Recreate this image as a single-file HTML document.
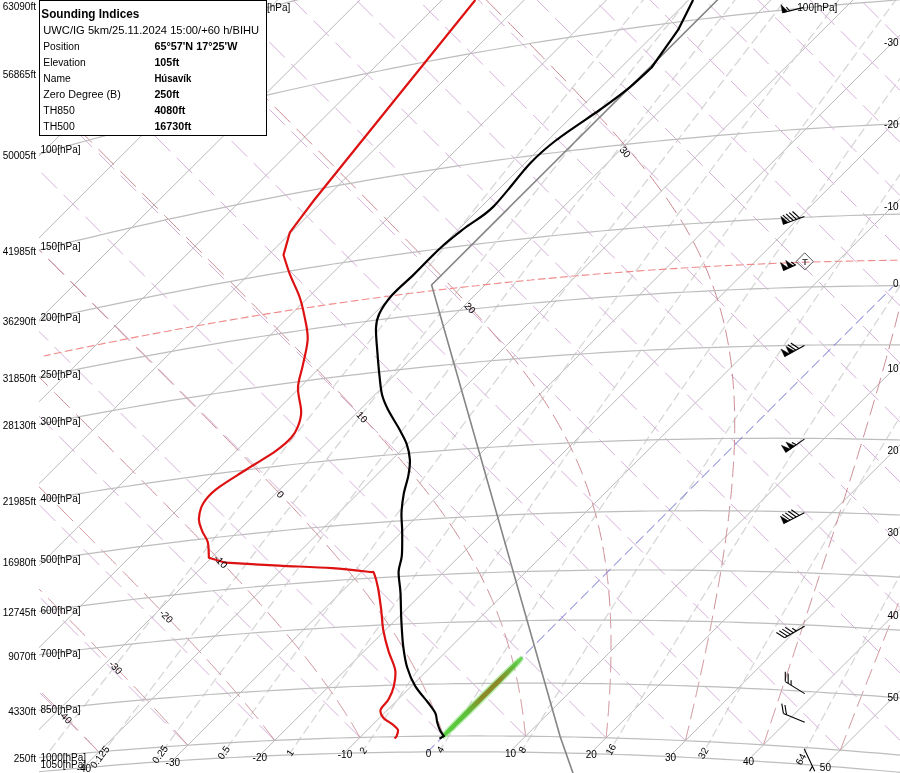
<!DOCTYPE html>
<html><head><meta charset="utf-8"><style>
html,body{margin:0;padding:0;background:#fff;}
body{width:900px;height:773px;position:relative;overflow:hidden;}
</style></head><body>
<svg width="900" height="773" viewBox="0 0 900 773" style="position:absolute;left:0;top:0;will-change:transform;font-family:'Liberation Sans',sans-serif">
<defs><clipPath id="c"><rect x="39" y="0" width="861" height="773"/></clipPath></defs>
<g clip-path="url(#c)" fill="none">
<path d="M-1096.4,1042.1 L62.2,-113.0" stroke="#b9b9b9" stroke-width="1"/>
<path d="M-966.3,994.3 L192.3,-160.8" stroke="#b9b9b9" stroke-width="1"/>
<path d="M-842.7,953.0 L315.9,-202.1" stroke="#b9b9b9" stroke-width="1"/>
<path d="M-724.7,917.3 L434.0,-237.8" stroke="#b9b9b9" stroke-width="1"/>
<path d="M-611.5,886.4 L547.1,-268.7" stroke="#b9b9b9" stroke-width="1"/>
<path d="M-502.6,859.8 L656.0,-295.3" stroke="#b9b9b9" stroke-width="1"/>
<path d="M-397.6,837.0 L761.1,-318.1" stroke="#b9b9b9" stroke-width="1"/>
<path d="M-295.9,817.6 L862.8,-337.5" stroke="#b9b9b9" stroke-width="1"/>
<path d="M-197.3,801.3 L961.4,-353.8" stroke="#b9b9b9" stroke-width="1"/>
<path d="M-101.5,787.7 L1057.2,-367.4" stroke="#b9b9b9" stroke-width="1"/>
<path d="M-8.1,776.6 L1150.5,-378.5" stroke="#b9b9b9" stroke-width="1"/>
<path d="M82.9,767.8 L1241.5,-387.3" stroke="#b9b9b9" stroke-width="1"/>
<path d="M171.8,761.1 L1330.5,-394.0" stroke="#b9b9b9" stroke-width="1"/>
<path d="M258.8,756.3 L1417.5,-398.8" stroke="#b9b9b9" stroke-width="1"/>
<path d="M344.0,753.3 L1502.7,-401.8" stroke="#b9b9b9" stroke-width="1"/>
<path d="M509.6,752.1 L1668.3,-403.0" stroke="#b9b9b9" stroke-width="1"/>
<path d="M590.2,753.6 L1748.9,-401.5" stroke="#b9b9b9" stroke-width="1"/>
<path d="M669.5,756.5 L1828.2,-398.6" stroke="#b9b9b9" stroke-width="1"/>
<path d="M747.6,760.7 L1906.2,-394.4" stroke="#b9b9b9" stroke-width="1"/>
<path d="M824.4,766.0 L1983.1,-389.1" stroke="#b9b9b9" stroke-width="1"/>
<path d="M900.2,772.4 L2058.9,-382.7" stroke="#b9b9b9" stroke-width="1"/>
<path d="M33.2,772.3 L35.2,769.7 L37.2,767.1 L38.7,765.1 M41.2,761.8 L41.3,761.8 L43.3,759.1 L45.4,756.4 L47.2,754.1 M49.7,750.8 L51.7,748.2 L53.9,745.4 L55.6,743.1 M58.1,739.8 L58.3,739.7 L60.5,736.8 L62.7,733.9 L64.1,732.1 M66.6,728.8 L67.2,728.0 L69.5,725.0 L71.9,722.0 L72.5,721.1 M75.1,717.8 L76.6,715.9 L79.0,712.8 L81.0,710.1 M83.6,706.8 L83.8,706.5 L86.3,703.3 L88.8,700.1 L89.5,699.1 M92.0,695.8 L93.8,693.5 L96.4,690.2 L98.0,688.1 M100.5,684.8 L101.6,683.4 L104.3,680.0 L106.5,677.1 M109.0,673.8 L109.7,673.0 L112.5,669.4 L115.0,666.1 M117.5,662.8 L118.0,662.2 L120.9,658.5 L123.5,655.1 M126.0,651.8 L126.7,651.0 L129.6,647.2 L132.0,644.1 M134.6,640.8 L135.7,639.4 L138.7,635.5 L140.5,633.1 M143.1,629.8 L145.0,627.4 L148.2,623.3 L149.1,622.1 M151.6,618.8 L154.7,614.9 L157.6,611.1 M160.2,607.8 L161.4,606.3 L164.8,601.9 L166.2,600.1 M168.7,596.8 L171.8,593.0 L174.7,589.1 M177.3,585.8 L178.9,583.7 L182.6,579.0 L183.3,578.1 M185.9,574.8 L186.3,574.2 L190.1,569.3 L191.9,567.1 M194.4,563.8 L197.9,559.4 L200.4,556.1 M203.0,552.8 L205.9,549.1 L209.0,545.1 M211.6,541.8 L214.2,538.5 L217.6,534.1 M220.2,530.8 L222.8,527.5 L226.2,523.1 M228.8,519.8 L231.7,516.1 L234.8,512.1 M237.4,508.8 L241.0,504.3 L243.5,501.1 M246.0,497.8 L250.6,492.0 L252.1,490.1 M254.7,486.8 L255.6,485.7 L260.6,479.3 L260.7,479.1 M263.3,475.8 L265.8,472.7 L269.3,468.1 M271.9,464.8 L276.5,459.1 L278.0,457.1 M280.6,453.8 L282.0,452.1 L286.6,446.1 M289.2,442.8 L293.4,437.5 L295.3,435.1 M297.9,431.8 L299.3,430.0 L304.0,424.1 M306.6,420.8 L311.6,414.4 L312.6,413.1 M315.2,409.8 L318.0,406.3 L321.3,402.1 M323.9,398.8 L324.6,398.0 L330.0,391.1 M332.6,387.8 L338.2,380.7 L338.7,380.1 M341.3,376.8 L345.4,371.7 L347.4,369.1 M350.0,365.8 L352.7,362.4 L356.1,358.1 M358.7,354.8 L360.3,352.9 L364.8,347.1 M367.4,343.8 L368.1,343.0 L373.5,336.1 M376.2,332.8 L376.2,332.8 L382.3,325.1 M384.9,321.8 L391.0,314.1 M393.6,310.8 L399.8,303.1 M402.4,299.8 L408.5,292.1 M411.1,288.8 L411.4,288.5 L417.3,281.1 M419.9,277.8 L421.1,276.3 L426.0,270.1 M428.6,266.8 L431.1,263.7 L434.8,259.1 M437.4,255.8 L441.6,250.6 L443.6,248.1 M446.2,244.8 L452.3,237.1 M455.0,233.8 L461.1,226.1 M463.8,222.8 L464.0,222.5 L469.9,215.1 M472.6,211.8 L476.0,207.5 L478.7,204.1 M481.4,200.8 L487.5,193.1 M490.2,189.8 L496.3,182.1 M499.0,178.8 L501.9,175.2 L505.2,171.1 M507.8,167.8 L514.0,160.1 M516.6,156.8 L522.8,149.1 M525.5,145.8 L530.9,139.1 L531.7,138.1 M534.3,134.8 L540.5,127.1 M543.2,123.8 L546.7,119.4 L549.4,116.1 M552.0,112.8 L558.2,105.1 M560.9,101.8 L563.6,98.4 L567.1,94.1 M569.7,90.8 L576.0,83.1 M578.6,79.8 L581.8,75.9 L584.8,72.1 M587.5,68.8 L593.7,61.1 M596.4,57.8 L601.4,51.7 L602.6,50.1 M605.3,46.8 L611.5,39.1 M614.2,35.8 L620.4,28.1 M623.1,24.8 L629.3,17.1 M632.0,13.8 L638.2,6.1 M640.9,2.8 L645.8,-3.2 L647.1,-4.9 M649.8,-8.2 L656.1,-15.9 M658.7,-19.2 L665.0,-26.9 M667.7,-30.2 L671.4,-34.7 L673.9,-37.9 M676.6,-41.2 L682.9,-48.9 M685.6,-52.2 L691.8,-59.9 M694.5,-63.2 L699.8,-69.7 L700.8,-70.9 M703.5,-74.2 L709.7,-81.9 M712.4,-85.2 L718.7,-92.9 M721.4,-96.2 L727.7,-103.9 M730.4,-107.2 L731.9,-109.1 L736.7,-114.9 M739.4,-118.2 L745.6,-125.9 M748.3,-129.2 L754.6,-136.9 M757.3,-140.2 L763.6,-147.9 M766.3,-151.2 L768.7,-154.1 L772.6,-158.9 M775.3,-162.2 L781.6,-169.9 M784.3,-173.2 L790.6,-180.9 M793.4,-184.2 L799.7,-191.9 M802.4,-195.2 L808.7,-202.9 M811.4,-206.2 L811.8,-206.6 L817.7,-213.9 M820.4,-217.2 L826.8,-224.9 M829.5,-228.2 L835.8,-235.9 M838.5,-239.2 L844.8,-246.9 M847.6,-250.2 L853.9,-257.9 M856.6,-261.2 L862.9,-268.9 M865.6,-272.2 L872.0,-279.9 M874.7,-283.2 L881.1,-290.9 M883.8,-294.2 L890.2,-301.9 M892.9,-305.2 L899.2,-312.9 M902.0,-316.2 L908.3,-323.9 M911.0,-327.2 L917.4,-334.9 M920.1,-338.2 L926.5,-345.9" stroke="#d6d6d6" stroke-width="1.25"/>
<path d="M92.2,767.0 L94.1,764.4 L96.1,761.8 L97.6,759.8 M100.1,756.5 L100.1,756.4 L102.1,753.8 L104.2,751.0 L105.9,748.8 M108.4,745.5 L110.4,742.8 L112.5,739.9 L114.2,737.8 M116.6,734.5 L116.8,734.2 L119.0,731.4 L121.2,728.5 L122.5,726.8 M124.9,723.5 L125.7,722.5 L127.9,719.6 L130.2,716.5 L130.8,715.8 M133.2,712.5 L134.8,710.4 L137.2,707.3 L139.1,704.8 M141.6,701.5 L142.0,701.0 L144.4,697.8 L146.8,694.5 L147.4,693.8 M149.9,690.5 L151.8,687.9 L154.3,684.6 L155.7,682.8 M158.2,679.5 L159.5,677.8 L162.1,674.4 L164.0,671.8 M166.5,668.5 L167.4,667.4 L170.1,663.8 L172.4,660.8 M174.9,657.5 L175.6,656.5 L178.4,652.9 L180.7,649.8 M183.3,646.5 L184.1,645.4 L187.0,641.5 L189.1,638.8 M191.6,635.5 L192.9,633.8 L195.9,629.8 L197.5,627.8 M200.0,624.5 L202.1,621.7 L205.2,617.6 L205.9,616.8 M208.4,613.5 L208.4,613.4 L211.6,609.2 L214.2,605.8 M216.8,602.5 L218.2,600.6 L221.6,596.2 L222.6,594.8 M225.1,591.5 L228.4,587.2 L231.0,583.8 M233.6,580.5 L235.5,577.9 L239.1,573.2 L239.4,572.8 M242.0,569.5 L242.8,568.4 L246.5,563.5 L247.9,561.8 M250.4,558.5 L254.2,553.5 L256.3,550.8 M258.8,547.5 L262.1,543.2 L264.7,539.8 M267.3,536.5 L270.2,532.6 L273.2,528.8 M275.7,525.5 L278.7,521.6 L281.6,517.8 M284.1,514.5 L287.5,510.2 L290.1,506.8 M292.6,503.5 L296.6,498.3 L298.5,495.8 M301.1,492.5 L301.3,492.2 L306.1,486.0 L307.0,484.8 M309.6,481.5 L310.9,479.7 L315.5,473.8 M318.0,470.5 L321.0,466.6 L324.0,462.8 M326.5,459.5 L331.5,453.0 L332.5,451.8 M335.0,448.5 L337.0,446.0 L341.0,440.8 M343.5,437.5 L348.2,431.4 L349.5,429.8 M352.0,426.5 L354.0,423.9 L358.0,418.8 M360.6,415.5 L366.2,408.3 L366.5,407.8 M369.1,404.5 L372.5,400.2 L375.1,396.8 M377.6,393.5 L378.9,391.8 L383.6,385.8 M386.2,382.5 L392.2,374.8 M394.7,371.5 L399.4,365.5 L400.7,363.8 M403.3,360.5 L406.7,356.2 L409.3,352.8 M411.9,349.5 L414.1,346.6 L417.9,341.8 M420.4,338.5 L421.8,336.7 L426.4,330.8 M429.0,327.5 L429.8,326.5 L435.0,319.8 M437.6,316.5 L438.0,316.0 L443.6,308.8 M446.2,305.5 L446.5,305.1 L452.2,297.8 M454.8,294.5 L455.4,293.8 L460.8,286.8 M463.4,283.5 L464.5,282.1 L469.5,275.8 M472.0,272.5 L474.0,269.9 L478.1,264.8 M480.7,261.5 L484.0,257.3 L486.7,253.8 M489.3,250.5 L494.3,244.1 L495.4,242.8 M497.9,239.5 L504.0,231.8 M506.6,228.5 L512.6,220.8 M515.2,217.5 L516.4,216.0 L521.3,209.8 M523.9,206.5 L528.2,201.0 L530.0,198.8 M532.6,195.5 L538.6,187.8 M541.2,184.5 L547.3,176.8 M549.9,173.5 L553.8,168.6 L556.0,165.8 M558.6,162.5 L564.7,154.8 M567.3,151.5 L567.7,151.1 L573.4,143.8 M576.0,140.5 L582.1,132.8 M584.7,129.5 L590.8,121.8 M593.5,118.5 L598.0,112.8 L599.6,110.8 M602.2,107.5 L608.3,99.8 M610.9,96.5 L614.7,91.7 L617.0,88.8 M619.6,85.5 L625.8,77.8 M628.4,74.5 L632.6,69.2 L634.5,66.8 M637.1,63.5 L643.3,55.8 M645.9,52.5 L651.9,44.9 L652.0,44.8 M654.7,41.5 L660.8,33.8 M663.4,30.5 L669.6,22.8 M672.2,19.5 L672.9,18.6 L678.4,11.8 M681.0,8.5 L687.1,0.8 M689.8,-2.5 L695.8,-10.1 L695.9,-10.2 M698.6,-13.5 L704.7,-21.2 M707.4,-24.5 L713.5,-32.2 M716.2,-35.5 L721.1,-41.6 L722.4,-43.2 M725.0,-46.5 L731.2,-54.2 M733.8,-57.5 L740.0,-65.2 M742.7,-68.5 L748.8,-76.2 M751.5,-79.5 L757.7,-87.2 M760.3,-90.5 L766.5,-98.2 M769.2,-101.5 L775.4,-109.2 M778.0,-112.5 L780.9,-116.1 L784.2,-120.2 M786.9,-123.5 L793.1,-131.2 M795.8,-134.5 L802.0,-142.2 M804.6,-145.5 L810.8,-153.2 M813.5,-156.5 L817.3,-161.2 L819.7,-164.2 M822.4,-167.5 L828.6,-175.2 M831.3,-178.5 L837.5,-186.2 M840.2,-189.5 L846.4,-197.2 M849.1,-200.5 L855.3,-208.2 M858.0,-211.5 L859.8,-213.8 L864.2,-219.2 M866.9,-222.5 L873.2,-230.2 M875.8,-233.5 L882.1,-241.2 M884.8,-244.5 L891.0,-252.2 M893.7,-255.5 L900.0,-263.2 M902.6,-266.5 L908.9,-274.2 M911.6,-277.5 L917.8,-285.2 M920.5,-288.5 L926.8,-296.2 M929.5,-299.5 L935.8,-307.2 M938.5,-310.5 L944.7,-318.2 M947.4,-321.5 L953.7,-329.2 M956.4,-332.5 L962.7,-340.2 M965.4,-343.5 L971.7,-351.2 M974.3,-354.5 L975.6,-356.0" stroke="#d6d6d6" stroke-width="1.25"/>
<path d="M154.2,762.2 L156.1,759.6 L158.1,757.0 L159.5,755.0 M161.9,751.7 L162.0,751.7 L164.0,749.0 L166.0,746.2 L167.6,744.0 M170.0,740.7 L170.0,740.7 L172.1,737.9 L174.2,735.1 L175.7,733.0 M178.1,729.7 L178.4,729.4 L180.5,726.5 L182.7,723.6 L183.8,722.0 M186.3,718.7 L187.0,717.7 L189.3,714.7 L191.5,711.6 L191.9,711.0 M194.4,707.7 L196.1,705.5 L198.4,702.4 L200.1,700.0 M202.5,696.7 L203.0,696.0 L205.4,692.8 L207.8,689.6 L208.2,689.0 M210.7,685.7 L212.7,683.0 L215.2,679.6 L216.4,678.0 M218.8,674.7 L220.2,672.8 L222.8,669.4 L224.5,667.0 M227.0,663.7 L228.0,662.3 L230.7,658.8 L232.7,656.0 M235.1,652.7 L236.1,651.5 L238.8,647.8 L240.9,645.0 M243.3,641.7 L244.4,640.3 L247.3,636.4 L249.1,634.0 M251.5,630.7 L253.1,628.6 L256.1,624.7 L257.3,623.0 M259.7,619.7 L262.1,616.6 L265.2,612.4 L265.5,612.0 M267.9,608.7 L268.3,608.2 L271.5,604.0 L273.7,601.0 M276.1,597.7 L277.9,595.4 L281.2,590.9 L281.9,590.0 M284.4,586.7 L284.6,586.5 L288.0,581.9 L290.1,579.0 M292.6,575.7 L294.9,572.7 L298.4,568.0 M300.8,564.7 L302.1,563.1 L305.7,558.2 L306.6,557.0 M309.1,553.7 L309.5,553.2 L313.3,548.2 L314.9,546.0 M317.4,542.7 L321.0,537.9 L323.1,535.0 M325.6,531.7 L329.0,527.2 L331.4,524.0 M333.9,520.7 L337.4,516.2 L339.7,513.0 M342.2,509.7 L346.0,504.7 L348.0,502.0 M350.5,498.7 L354.9,492.8 L356.3,491.0 M358.8,487.7 L359.5,486.7 L364.2,480.5 L364.6,480.0 M367.1,476.7 L369.0,474.2 L372.9,469.0 M375.4,465.7 L378.9,461.1 L381.2,458.0 M383.7,454.7 L384.1,454.3 L389.3,447.4 L389.6,447.0 M392.1,443.7 L394.6,440.4 L397.9,436.0 M400.4,432.7 L405.7,425.8 L406.3,425.0 M408.8,421.7 L411.4,418.3 L414.6,414.0 M417.1,410.7 L417.3,410.5 L423.0,403.0 M425.5,399.7 L429.5,394.5 L431.4,392.0 M433.9,388.7 L435.9,386.1 L439.8,381.0 M442.3,377.7 L442.4,377.5 L448.2,370.0 M450.7,366.7 L456.1,359.7 L456.6,359.0 M459.1,355.7 L463.2,350.4 L465.0,348.0 M467.5,344.7 L470.5,340.8 L473.4,337.0 M475.9,333.7 L478.1,330.9 L481.8,326.0 M484.3,322.7 L486.0,320.6 L490.3,315.0 M492.8,311.7 L494.1,310.1 L498.7,304.0 M501.2,300.7 L502.4,299.2 L507.1,293.0 M509.7,289.7 L511.1,287.8 L515.6,282.0 M518.1,278.7 L520.2,276.1 L524.1,271.0 M526.6,267.7 L529.5,263.9 L532.5,260.0 M535.1,256.7 L539.3,251.3 L541.0,249.0 M543.6,245.7 L549.5,238.1 L549.5,238.0 M552.1,234.7 L558.0,227.0 M560.6,223.7 L566.5,216.0 M569.1,212.7 L571.2,209.9 L575.0,205.0 M577.6,201.7 L582.9,194.9 L583.5,194.0 M586.1,190.7 L592.1,183.0 M594.6,179.7 L595.2,179.0 L600.6,172.0 M603.2,168.7 L608.1,162.4 L609.1,161.0 M611.7,157.7 L617.7,150.0 M620.3,146.7 L621.8,144.8 L626.3,139.0 M628.8,135.7 L634.8,128.0 M637.4,124.7 L643.4,117.0 M646.0,113.7 L651.7,106.5 L652.0,106.0 M654.5,102.7 L660.6,95.0 M663.1,91.7 L668.1,85.4 L669.2,84.0 M671.7,80.7 L677.8,73.0 M680.3,69.7 L685.8,62.8 L686.4,62.0 M689.0,58.7 L695.0,51.0 M697.6,47.7 L703.6,40.0 M706.2,36.7 L712.2,29.0 M714.8,25.7 L720.9,18.0 M723.5,14.7 L725.5,12.1 L729.5,7.0 M732.1,3.7 L738.2,-4.0 M740.8,-7.3 L746.8,-15.0 M749.4,-18.3 L755.5,-26.0 M758.1,-29.3 L764.2,-37.0 M766.8,-40.3 L772.8,-48.0 M775.5,-51.3 L781.5,-59.0 M784.2,-62.3 L790.2,-70.0 M792.8,-73.3 L798.9,-81.0 M801.5,-84.3 L807.6,-92.0 M810.3,-95.3 L816.4,-103.0 M819.0,-106.3 L825.1,-114.0 M827.7,-117.3 L832.1,-122.8 L833.8,-125.0 M836.4,-128.3 L842.5,-136.0 M845.2,-139.3 L851.3,-147.0 M853.9,-150.3 L860.0,-158.0 M862.7,-161.3 L868.0,-167.9 L868.8,-169.0 M871.4,-172.3 L877.6,-180.0 M880.2,-183.3 L886.3,-191.0 M889.0,-194.3 L895.1,-202.0 M897.7,-205.3 L903.9,-213.0 M906.5,-216.3 L910.0,-220.6 L912.7,-224.0 M915.3,-227.3 L921.5,-235.0 M924.1,-238.3 L930.3,-246.0 M932.9,-249.3 L939.1,-257.0 M941.7,-260.3 L947.9,-268.0 M950.5,-271.3 L956.7,-279.0 M959.3,-282.3 L960.6,-283.9 L965.5,-290.0 M968.2,-293.3 L974.4,-301.0 M977.0,-304.3 L983.2,-312.0 M985.9,-315.3 L992.1,-323.0 M994.7,-326.3 L1000.9,-334.0 M1003.6,-337.3 L1009.8,-345.0 M1012.4,-348.3 L1018.6,-356.0 M1021.3,-359.3 L1024.3,-363.0" stroke="#d6d6d6" stroke-width="1.25"/>
<path d="M219.6,758.2 L221.4,755.6 L223.3,753.0 L224.7,751.0 M227.1,747.7 L227.2,747.6 L229.1,744.9 L231.1,742.2 L232.6,740.0 M235.0,736.7 L235.1,736.6 L237.1,733.8 L239.1,731.0 L240.5,729.0 M242.9,725.7 L243.2,725.3 L245.3,722.4 L247.4,719.4 L248.4,718.0 M250.8,714.7 L251.7,713.5 L253.9,710.5 L256.1,707.4 L256.4,707.0 M258.7,703.7 L260.5,701.3 L262.8,698.1 L264.3,696.0 M266.7,692.7 L267.4,691.8 L269.7,688.6 L272.0,685.3 L272.2,685.0 M274.6,681.7 L276.8,678.7 L279.3,675.3 L280.2,674.0 M282.6,670.7 L284.2,668.5 L286.7,665.0 L288.2,663.0 M290.6,659.7 L291.8,658.0 L294.4,654.4 L296.1,652.0 M298.5,648.7 L299.7,647.1 L302.4,643.4 L304.1,641.0 M306.5,637.7 L307.9,635.8 L310.7,632.0 L312.1,630.0 M314.5,626.7 L316.4,624.2 L319.3,620.2 L320.1,619.0 M322.5,615.7 L325.2,612.0 L328.1,608.0 M330.6,604.7 L331.3,603.7 L334.4,599.5 L336.2,597.0 M338.6,593.7 L340.7,590.8 L344.0,586.4 L344.2,586.0 M346.6,582.7 L347.2,581.9 L350.6,577.3 L352.3,575.0 M354.7,571.7 L357.4,568.0 L360.3,564.0 M362.7,560.7 L364.4,558.4 L368.0,553.5 L368.4,553.0 M370.8,549.7 L371.7,548.5 L375.4,543.5 L376.4,542.0 M378.9,538.7 L379.1,538.3 L383.0,533.1 L384.5,531.0 M387.0,527.7 L390.9,522.4 L392.6,520.0 M395.0,516.7 L399.0,511.3 L400.7,509.0 M403.2,505.7 L403.2,505.7 L407.5,499.9 L408.8,498.0 M411.3,494.7 L411.8,494.0 L416.3,488.0 L417.0,487.0 M419.4,483.7 L420.8,481.8 L425.1,476.0 M427.5,472.7 L430.1,469.2 L433.2,465.0 M435.7,461.7 L439.8,456.1 L441.4,454.0 M443.8,450.7 L444.8,449.3 L449.5,443.0 M452.0,439.7 L455.2,435.4 L457.7,432.0 M460.1,428.7 L460.6,428.1 L465.9,421.0 M468.3,417.7 L471.7,413.2 L474.1,410.0 M476.5,406.7 L477.5,405.4 L482.3,399.0 M484.7,395.7 L489.5,389.3 L490.5,388.0 M492.9,384.7 L495.7,380.9 L498.7,377.0 M501.1,373.7 L502.2,372.3 L506.9,366.0 M509.4,362.7 L515.1,355.0 M517.6,351.7 L522.6,345.1 L523.4,344.0 M525.8,340.7 L529.8,335.5 L531.6,333.0 M534.1,329.7 L537.2,325.5 L539.9,322.0 M542.3,318.7 L544.9,315.3 L548.1,311.0 M550.6,307.7 L552.9,304.7 L556.4,300.0 M558.9,296.7 L561.1,293.8 L564.7,289.0 M567.2,285.7 L569.7,282.4 L573.0,278.0 M575.5,274.7 L578.5,270.7 L581.3,267.0 M583.8,263.7 L587.8,258.4 L589.6,256.0 M592.1,252.7 L597.4,245.8 L597.9,245.0 M600.4,241.7 L606.2,234.0 M608.7,230.7 L614.6,223.0 M617.1,219.7 L617.8,218.7 L622.9,212.0 M625.4,208.7 L628.8,204.3 L631.3,201.0 M633.8,197.7 L639.6,190.0 M642.1,186.7 L648.0,179.0 M650.5,175.7 L652.3,173.4 L656.4,168.0 M658.9,164.7 L664.8,157.0 M667.3,153.7 L673.1,146.0 M675.7,142.7 L678.5,139.1 L681.5,135.0 M684.1,131.7 L690.0,124.0 M692.5,120.7 L692.7,120.4 L698.4,113.0 M700.9,109.7 L706.8,102.0 M709.3,98.7 L715.2,91.0 M717.8,87.7 L723.7,80.0 M726.2,76.7 L732.1,69.0 M734.7,65.7 L740.6,58.0 M743.1,54.7 L749.0,47.0 M751.6,43.7 L757.5,36.0 M760.1,32.7 L760.2,32.5 L766.0,25.0 M768.5,21.7 L774.5,14.0 M777.0,10.7 L780.6,6.1 L783.0,3.0 M785.5,-0.3 L791.5,-8.0 M794.0,-11.3 L800.0,-19.0 M802.5,-22.3 L802.9,-22.7 L808.5,-30.0 M811.1,-33.3 L817.0,-41.0 M819.6,-44.3 L825.6,-52.0 M828.1,-55.3 L834.1,-63.0 M836.7,-66.3 L842.7,-74.0 M845.2,-77.3 L851.2,-85.0 M853.8,-88.3 L854.8,-89.5 L859.8,-96.0 M862.4,-99.3 L868.4,-107.0 M870.9,-110.3 L876.9,-118.0 M879.5,-121.3 L885.5,-129.0 M888.1,-132.3 L894.1,-140.0 M896.7,-143.3 L902.7,-151.0 M905.3,-154.3 L911.3,-162.0 M913.9,-165.3 L919.9,-173.0 M922.5,-176.3 L928.6,-184.0 M931.2,-187.3 L937.2,-195.0 M939.8,-198.3 L945.8,-206.0 M948.4,-209.3 L954.5,-217.0 M957.1,-220.3 L962.4,-227.1 L963.1,-228.0 M965.7,-231.3 L971.8,-239.0 M974.4,-242.3 L980.5,-250.0 M983.1,-253.3 L989.1,-261.0 M991.8,-264.3 L997.8,-272.0 M1000.4,-275.3 L1006.5,-283.0 M1009.1,-286.3 L1012.4,-290.5 L1015.2,-294.0 M1017.8,-297.3 L1023.9,-305.0 M1026.5,-308.3 L1032.6,-316.0 M1035.2,-319.3 L1041.3,-327.0 M1044.0,-330.3 L1050.1,-338.0 M1052.7,-341.3 L1058.8,-349.0 M1061.4,-352.3 L1067.5,-360.0 M1070.1,-363.3 L1075.2,-369.8" stroke="#d6d6d6" stroke-width="1.25"/>
<path d="M288.5,755.0 L290.4,752.4 L292.2,749.8 L293.6,747.8 M295.9,744.5 L296.0,744.4 L297.9,741.7 L299.8,738.9 L301.2,736.8 M303.5,733.5 L303.7,733.4 L305.6,730.6 L307.6,727.7 L308.9,725.8 M311.2,722.5 L311.6,722.0 L313.7,719.0 L315.7,716.1 L316.6,714.8 M318.9,711.5 L319.9,710.1 L322.0,707.1 L324.2,704.1 L324.3,703.8 M326.6,700.5 L328.5,697.9 L330.7,694.7 L332.0,692.8 M334.4,689.5 L335.2,688.3 L337.5,685.1 L339.8,681.8 M342.1,678.5 L342.1,678.5 L344.5,675.2 L346.8,671.8 L347.5,670.8 M349.8,667.5 L351.7,665.0 L354.1,661.5 L355.3,659.8 M357.6,656.5 L359.1,654.4 L361.7,650.8 L363.0,648.8 M365.4,645.5 L366.8,643.5 L369.5,639.7 L370.8,637.8 M373.1,634.5 L374.8,632.2 L377.6,628.3 L378.6,626.8 M380.9,623.5 L383.1,620.5 L386.0,616.5 L386.4,615.8 M388.7,612.5 L388.8,612.4 L391.7,608.3 L394.2,604.8 M396.5,601.5 L397.7,599.9 L400.7,595.7 L402.0,593.8 M404.4,590.5 L406.9,587.0 L409.8,582.8 M412.2,579.5 L413.3,578.0 L416.5,573.4 L417.7,571.8 M420.0,568.5 L423.2,564.1 L425.5,560.8 M427.9,557.5 L430.1,554.5 L433.4,549.8 M435.8,546.5 L437.2,544.6 L440.8,539.5 L441.3,538.8 M443.6,535.5 L444.5,534.3 L448.3,529.1 L449.1,527.8 M451.5,524.5 L452.1,523.8 L456.0,518.3 L457.0,516.8 M459.4,513.5 L459.9,512.8 L463.9,507.2 L464.9,505.8 M467.3,502.5 L468.0,501.5 L472.2,495.7 L472.9,494.8 M475.2,491.5 L476.5,489.8 L480.8,483.8 M483.2,480.5 L485.3,477.6 L488.7,472.8 M491.1,469.5 L494.4,465.0 L496.7,461.8 M499.0,458.5 L499.1,458.5 L503.9,451.8 L504.6,450.8 M507.0,447.5 L508.8,445.0 L512.6,439.8 M515.0,436.5 L519.0,431.0 L520.5,428.8 M522.9,425.5 L524.2,423.7 L528.5,417.8 M530.9,414.5 L535.2,408.7 L536.5,406.8 M538.9,403.5 L540.8,400.9 L544.5,395.8 M546.9,392.5 L552.5,384.8 M554.9,381.5 L558.7,376.4 L560.6,373.8 M563.0,370.5 L565.0,367.8 L568.6,362.8 M571.0,359.5 L571.5,358.9 L576.6,351.8 M579.1,348.5 L584.7,340.8 M587.1,337.5 L592.1,330.8 L592.8,329.8 M595.2,326.5 L599.4,320.8 L600.8,318.8 M603.2,315.5 L606.9,310.5 L608.9,307.8 M611.3,304.5 L614.7,299.9 L617.0,296.8 M619.4,293.5 L622.8,288.9 L625.1,285.8 M627.5,282.5 L631.2,277.6 L633.2,274.8 M635.6,271.5 L639.9,265.8 L641.3,263.8 M643.8,260.5 L648.9,253.5 L649.5,252.8 M651.9,249.5 L657.6,241.8 M660.0,238.5 L665.7,230.8 M668.2,227.5 L673.9,219.8 M676.3,216.5 L678.4,213.7 L682.1,208.8 M684.5,205.5 L689.2,199.3 L690.2,197.8 M692.7,194.5 L698.4,186.8 M700.9,183.5 L706.6,175.8 M709.1,172.5 L712.3,168.2 L714.8,164.8 M717.3,161.5 L723.0,153.8 M725.5,150.5 L731.3,142.8 M733.7,139.5 L738.0,133.8 L739.5,131.8 M741.9,128.5 L747.7,120.8 M750.2,117.5 L752.0,115.1 L756.0,109.8 M758.4,106.5 L764.2,98.8 M766.7,95.5 L766.9,95.3 L772.5,87.8 M775.0,84.5 L780.8,76.8 M783.2,73.5 L789.0,65.8 M791.5,62.5 L797.3,54.8 M799.8,51.5 L799.9,51.4 L805.6,43.8 M808.1,40.5 L813.9,32.8 M816.4,29.5 L818.4,27.0 L822.3,21.8 M824.7,18.5 L830.6,10.8 M833.1,7.5 L838.4,0.5 L838.9,-0.2 M841.4,-3.5 L847.3,-11.2 M849.8,-14.5 L855.6,-22.2 M858.1,-25.5 L860.3,-28.3 L864.0,-33.2 M866.5,-36.5 L872.3,-44.2 M874.8,-47.5 L880.7,-55.2 M883.2,-58.5 L884.4,-60.1 L889.1,-66.2 M891.6,-69.5 L897.5,-77.2 M900.0,-80.5 L905.9,-88.2 M908.4,-91.5 L911.4,-95.3 L914.3,-99.2 M916.8,-102.5 L922.7,-110.2 M925.2,-113.5 L931.1,-121.2 M933.7,-124.5 L939.5,-132.2 M942.1,-135.5 L948.0,-143.2 M950.5,-146.5 L956.4,-154.2 M959.0,-157.5 L964.9,-165.2 M967.4,-168.5 L973.4,-176.2 M975.9,-179.5 L976.5,-180.3 L981.8,-187.2 M984.4,-190.5 L990.3,-198.2 M992.9,-201.5 L998.8,-209.2 M1001.4,-212.5 L1007.3,-220.2 M1009.8,-223.5 L1015.8,-231.2 M1018.3,-234.5 L1024.3,-242.2 M1026.9,-245.5 L1032.8,-253.2 M1035.4,-256.5 L1041.4,-264.2 M1043.9,-267.5 L1049.9,-275.2 M1052.5,-278.5 L1058.4,-286.2 M1061.0,-289.5 L1066.6,-296.7 L1067.0,-297.2 M1069.5,-300.5 L1075.5,-308.2 M1078.1,-311.5 L1084.1,-319.2 M1086.7,-322.5 L1092.7,-330.2 M1095.3,-333.5 L1101.3,-341.2 M1103.8,-344.5 L1109.9,-352.2 M1112.4,-355.5 L1118.4,-363.2 M1121.0,-366.5 L1127.0,-374.2" stroke="#d6d6d6" stroke-width="1.25"/>
<path d="M361.5,752.9 L363.3,750.2 L365.1,747.5 L366.3,745.7 M368.6,742.4 L368.7,742.2 L370.5,739.4 L372.4,736.7 L373.8,734.7 M376.0,731.4 L376.2,731.1 L378.1,728.3 L380.0,725.4 L381.2,723.7 M383.4,720.4 L383.9,719.6 L385.9,716.7 L387.9,713.7 L388.7,712.7 M390.9,709.4 L392.0,707.7 L394.1,704.7 L396.1,701.7 M398.4,698.4 L400.4,695.4 L402.5,692.2 L403.6,690.7 M405.9,687.4 L406.9,685.8 L409.1,682.6 L411.1,679.7 M413.4,676.4 L413.6,676.0 L415.9,672.6 L418.2,669.2 L418.6,668.7 M420.9,665.4 L422.9,662.3 L425.3,658.9 L426.1,657.7 M428.4,654.4 L430.2,651.7 L432.7,648.1 L433.7,646.7 M435.9,643.4 L437.7,640.8 L440.3,637.0 L441.2,635.7 M443.5,632.4 L445.5,629.4 L448.2,625.5 L448.8,624.7 M451.0,621.4 L453.6,617.6 L456.3,613.7 M458.6,610.4 L459.2,609.6 L462.0,605.4 L463.9,602.7 M466.2,599.4 L467.8,597.0 L470.7,592.7 L471.5,591.7 M473.8,588.4 L476.8,584.0 L479.1,580.7 M481.4,577.4 L483.0,575.0 L486.2,570.4 L486.7,569.7 M489.0,566.4 L489.4,565.8 L492.7,561.0 L494.3,558.7 M496.6,555.4 L499.4,551.4 L502.0,547.7 M504.3,544.4 L506.3,541.4 L509.6,536.7 M511.9,533.4 L513.5,531.2 L517.1,525.9 L517.3,525.7 M519.6,522.4 L520.9,520.5 L524.6,515.1 L525.0,514.7 M527.3,511.4 L528.5,509.6 L532.4,503.9 L532.6,503.7 M534.9,500.4 L536.4,498.2 L540.3,492.7 M542.6,489.4 L544.7,486.4 L548.0,481.7 M550.4,478.4 L553.3,474.2 L555.8,470.7 M558.1,467.4 L562.2,461.5 L563.5,459.7 M565.8,456.4 L566.8,455.0 L571.2,448.7 M573.5,445.4 L576.3,441.5 L579.0,437.7 M581.3,434.4 L586.2,427.4 L586.7,426.7 M589.1,423.4 L591.4,420.1 L594.5,415.7 M596.8,412.4 L602.0,405.0 L602.3,404.7 M604.6,401.4 L607.5,397.2 L610.1,393.7 M612.4,390.4 L613.2,389.2 L617.9,382.7 M620.2,379.4 L625.0,372.6 L625.7,371.7 M628.1,368.4 L631.2,364.0 L633.5,360.7 M635.9,357.4 L637.5,355.1 L641.4,349.7 M643.7,346.4 L644.0,345.9 L649.2,338.7 M651.6,335.4 L657.1,327.7 M659.4,324.4 L664.8,316.8 L664.9,316.7 M667.3,313.4 L672.2,306.5 L672.8,305.7 M675.2,302.4 L679.8,295.9 L680.7,294.7 M683.1,291.4 L687.8,284.8 L688.6,283.7 M691.0,280.4 L696.0,273.4 L696.5,272.7 M698.9,269.4 L704.4,261.7 M706.8,258.4 L712.4,250.7 M714.8,247.4 L720.3,239.7 M722.7,236.4 L728.3,228.7 M730.7,225.4 L732.2,223.2 L736.2,217.7 M738.6,214.4 L742.2,209.4 L744.2,206.7 M746.6,203.4 L752.2,195.7 M754.6,192.4 L760.2,184.7 M762.6,181.4 L763.8,179.7 L768.2,173.7 M770.6,170.4 L775.4,163.7 L776.2,162.7 M778.6,159.4 L784.2,151.7 M786.6,148.4 L787.7,146.9 L792.2,140.7 M794.6,137.4 L800.3,129.7 M802.7,126.4 L808.3,118.7 M810.7,115.4 L814.3,110.5 L816.4,107.7 M818.8,104.4 L824.5,96.7 M826.9,93.4 L828.9,90.5 L832.5,85.7 M835.0,82.4 L840.6,74.7 M843.0,71.4 L844.6,69.3 L848.7,63.7 M851.2,60.4 L856.8,52.7 M859.3,49.4 L861.3,46.5 L864.9,41.7 M867.4,38.4 L873.1,30.7 M875.5,27.4 L879.4,22.0 L881.2,19.7 M883.7,16.4 L889.4,8.7 M891.8,5.4 L897.5,-2.3 M900.0,-5.6 L905.7,-13.3 M908.1,-16.6 L913.8,-24.3 M916.3,-27.6 L920.6,-33.4 L922.0,-35.3 M924.5,-38.6 L930.2,-46.3 M932.7,-49.6 L938.4,-57.3 M940.9,-60.6 L944.3,-65.2 L946.6,-68.3 M949.1,-71.6 L954.8,-79.3 M957.3,-82.6 L963.1,-90.3 M965.5,-93.6 L970.7,-100.6 L971.3,-101.3 M973.8,-104.6 L979.6,-112.3 M982.0,-115.6 L987.8,-123.3 M990.3,-126.6 L996.1,-134.3 M998.5,-137.6 L1000.6,-140.4 L1004.3,-145.3 M1006.8,-148.6 L1012.6,-156.3 M1015.1,-159.6 L1020.9,-167.3 M1023.4,-170.6 L1029.2,-178.3 M1031.7,-181.6 L1034.8,-185.8 L1037.5,-189.3 M1040.0,-192.6 L1045.8,-200.3 M1048.3,-203.6 L1054.2,-211.3 M1056.7,-214.6 L1062.5,-222.3 M1065.0,-225.6 L1070.8,-233.3 M1073.3,-236.6 L1074.9,-238.8 L1079.2,-244.3 M1081.7,-247.6 L1087.5,-255.3 M1090.0,-258.6 L1095.9,-266.3 M1098.4,-269.6 L1104.3,-277.3 M1106.8,-280.6 L1112.6,-288.3 M1115.2,-291.6 L1121.0,-299.3 M1123.5,-302.6 L1129.4,-310.3 M1132.0,-313.6 L1137.9,-321.3 M1140.4,-324.6 L1146.3,-332.3 M1148.8,-335.6 L1154.7,-343.3 M1157.2,-346.6 L1163.1,-354.3 M1165.7,-357.6 L1171.6,-365.3 M1174.1,-368.6 L1180.0,-376.3 M1182.5,-379.6 L1184.3,-382.0" stroke="#d6d6d6" stroke-width="1.25"/>
<path d="M438.7,751.8 L440.5,749.2 L442.2,746.5 L443.4,744.6 M445.6,741.3 L445.8,741.1 L447.5,738.3 L449.3,735.6 L450.6,733.6 M452.7,730.3 L453.0,729.9 L454.9,727.1 L456.7,724.2 L457.8,722.6 M459.9,719.3 L460.5,718.4 L462.5,715.5 L464.4,712.5 L465.0,711.6 M467.1,708.3 L468.4,706.5 L470.4,703.4 L472.2,700.6 M474.3,697.3 L474.4,697.2 L476.5,694.1 L478.6,690.9 L479.4,689.6 M481.6,686.3 L482.8,684.4 L485.0,681.2 L486.6,678.6 M488.8,675.3 L489.3,674.5 L491.6,671.2 L493.8,667.8 L493.9,667.6 M496.1,664.3 L496.1,664.3 L498.4,660.8 L500.7,657.3 L501.1,656.6 M503.3,653.3 L505.4,650.2 L507.8,646.5 L508.4,645.6 M510.6,642.3 L512.7,639.1 L515.2,635.4 L515.7,634.6 M517.9,631.3 L520.3,627.7 L522.9,623.8 L523.0,623.6 M525.2,620.3 L525.5,619.9 L528.1,615.9 L530.3,612.6 M532.5,609.3 L533.6,607.8 L536.3,603.6 L537.6,601.6 M539.8,598.3 L541.9,595.2 L544.8,590.9 L545.0,590.6 M547.2,587.3 L547.7,586.5 L550.7,582.1 L552.3,579.6 M554.5,576.3 L556.7,573.0 L559.7,568.6 M561.9,565.3 L563.0,563.8 L566.1,559.0 L567.1,557.6 M569.3,554.3 L569.4,554.2 L572.7,549.3 L574.5,546.6 M576.7,543.3 L579.4,539.3 L581.9,535.6 M584.1,532.3 L586.4,529.0 L589.3,524.6 M591.5,521.3 L593.5,518.3 L596.7,513.6 M598.9,510.3 L601.0,507.3 L604.1,502.6 M606.4,499.3 L608.7,495.9 L611.6,491.6 M613.8,488.3 L616.7,484.0 L619.1,480.6 M621.3,477.3 L625.1,471.8 L626.5,469.6 M628.8,466.3 L629.4,465.5 L633.8,459.0 L634.0,458.6 M636.3,455.3 L638.3,452.4 L641.5,447.6 M643.8,444.3 L647.5,438.9 L649.0,436.6 M651.3,433.3 L652.3,431.9 L656.6,425.6 M658.8,422.3 L662.2,417.4 L664.1,414.6 M666.4,411.3 L667.3,409.9 L671.7,403.6 M673.9,400.3 L678.0,394.4 L679.2,392.6 M681.5,389.3 L683.5,386.4 L686.8,381.6 M689.1,378.3 L689.2,378.2 L694.4,370.6 M696.7,367.3 L701.0,361.0 L702.0,359.6 M704.3,356.3 L707.2,352.1 L709.6,348.6 M711.9,345.3 L713.6,342.9 L717.2,337.6 M719.5,334.3 L720.1,333.5 L724.9,326.6 M727.1,323.3 L732.5,315.6 M734.8,312.3 L740.2,304.6 M742.5,301.3 L747.8,293.6 M750.1,290.3 L755.5,282.6 M757.8,279.3 L763.2,271.6 M765.5,268.3 L770.9,260.6 M773.2,257.3 L778.6,249.6 M780.9,246.3 L781.2,245.9 L786.3,238.6 M788.6,235.3 L790.2,233.1 L794.1,227.6 M796.4,224.3 L799.6,219.7 L801.8,216.6 M804.1,213.3 L809.5,205.8 L809.6,205.6 M811.9,202.3 L817.3,194.6 M819.7,191.3 L819.7,191.2 L825.1,183.6 M827.4,180.3 L830.5,176.0 L832.9,172.6 M835.2,169.3 L840.7,161.6 M843.0,158.3 L848.5,150.6 M850.9,147.3 L853.9,143.1 L856.3,139.6 M858.7,136.3 L864.2,128.6 M866.5,125.3 L866.5,125.3 L872.0,117.6 M874.4,114.3 L879.9,106.6 M882.2,103.3 L887.7,95.6 M890.1,92.3 L894.3,86.5 L895.6,84.6 M898.0,81.3 L903.5,73.6 M905.9,70.3 L909.5,65.2 L911.4,62.6 M913.8,59.3 L919.3,51.6 M921.7,48.3 L926.0,42.4 L927.2,40.6 M929.6,37.3 L935.1,29.6 M937.5,26.3 L943.1,18.6 M945.5,15.3 L951.0,7.6 M953.4,4.3 L959.0,-3.4 M961.4,-6.7 L962.9,-8.8 L967.0,-14.4 M969.4,-17.7 L974.9,-25.4 M977.3,-28.7 L982.9,-36.4 M985.3,-39.7 L990.9,-47.4 M993.3,-50.7 L998.9,-58.4 M1001.3,-61.7 L1006.9,-69.4 M1009.4,-72.7 L1015.0,-80.4 M1017.4,-83.7 L1023.0,-91.4 M1025.4,-94.7 L1031.1,-102.4 M1033.5,-105.7 L1039.1,-113.4 M1041.5,-116.7 L1047.2,-124.4 M1049.6,-127.7 L1055.3,-135.4 M1057.7,-138.7 L1062.4,-145.1 L1063.3,-146.4 M1065.8,-149.7 L1071.4,-157.4 M1073.9,-160.7 L1079.6,-168.4 M1082.0,-171.7 L1087.7,-179.4 M1090.1,-182.7 L1095.8,-190.4 M1098.2,-193.7 L1103.9,-201.4 M1106.4,-204.7 L1112.1,-212.4 M1114.5,-215.7 L1120.2,-223.4 M1122.7,-226.7 L1128.4,-234.4 M1130.8,-237.7 L1135.4,-243.8 L1136.5,-245.4 M1139.0,-248.7 L1144.7,-256.4 M1147.2,-259.7 L1152.9,-267.4 M1155.4,-270.7 L1161.1,-278.4 M1163.6,-281.7 L1169.3,-289.4 M1171.8,-292.7 L1177.5,-300.4 M1180.0,-303.7 L1182.9,-307.6 L1185.7,-311.4 M1188.2,-314.7 L1194.0,-322.4 M1196.5,-325.7 L1202.3,-333.4 M1204.7,-336.7 L1210.5,-344.4 M1213.0,-347.7 L1218.8,-355.4 M1221.2,-358.7 L1227.0,-366.4 M1229.5,-369.7 L1235.3,-377.4 M1237.8,-380.7 L1242.9,-387.4" stroke="#d6d6d6" stroke-width="1.25"/>
<path d="M520.8,752.2 L522.4,749.5 L524.1,746.8 L525.2,745.0 M527.3,741.7 L527.5,741.4 L529.2,738.6 L531.0,735.8 L532.1,734.0 M534.2,730.7 L534.5,730.2 L536.3,727.3 L538.1,724.4 L539.0,723.0 M541.1,719.7 L541.8,718.6 L543.6,715.6 L545.5,712.6 L545.9,712.0 M548.0,708.7 L549.3,706.5 L551.3,703.5 L552.8,701.0 M554.9,697.7 L555.2,697.2 L557.2,694.1 L559.2,690.9 L559.7,690.0 M561.8,686.7 L563.3,684.4 L565.4,681.1 L566.7,679.0 M568.8,675.7 L569.6,674.4 L571.7,671.0 L573.7,668.0 M575.7,664.7 L576.1,664.1 L578.3,660.6 L580.6,657.1 L580.6,657.0 M582.7,653.7 L582.9,653.5 L585.2,649.9 L587.5,646.2 L587.6,646.0 M589.7,642.7 L589.8,642.5 L592.2,638.8 L594.6,635.0 M596.7,631.7 L597.1,631.2 L599.5,627.3 L601.6,624.0 M603.7,620.7 L604.6,619.4 L607.1,615.4 L608.7,613.0 M610.8,609.7 L612.4,607.2 L615.0,603.0 L615.7,602.0 M617.8,598.7 L620.5,594.6 L622.8,591.0 M624.9,587.7 L626.1,585.8 L629.0,581.4 L629.9,580.0 M632.0,576.7 L634.8,572.3 L636.9,569.0 M639.1,565.7 L640.9,562.9 L643.9,558.2 L644.0,558.0 M646.2,554.7 L647.1,553.3 L650.3,548.4 L651.2,547.0 M653.3,543.7 L653.5,543.4 L656.8,538.3 L658.3,536.0 M660.4,532.7 L663.5,528.0 L665.4,525.0 M667.6,521.7 L670.5,517.2 L672.6,514.0 M674.8,510.7 L677.7,506.2 L679.8,503.0 M681.9,499.7 L685.2,494.7 L687.0,492.0 M689.1,488.7 L693.0,482.8 L694.2,481.0 M696.3,477.7 L697.0,476.7 L701.1,470.4 L701.4,470.0 M703.5,466.7 L705.3,464.1 L708.6,459.0 M710.8,455.7 L713.9,451.0 L715.8,448.0 M718.0,444.7 L718.3,444.3 L722.8,437.4 L723.1,437.0 M725.3,433.7 L727.5,430.4 L730.4,426.0 M732.6,422.7 L737.1,415.8 L737.7,415.0 M739.8,411.7 L742.1,408.3 L744.9,404.0 M747.1,400.7 L747.2,400.6 L752.3,393.0 M754.4,389.7 L757.8,384.6 L759.6,382.0 M761.8,378.7 L763.3,376.3 L766.9,371.0 M769.1,367.7 L774.3,360.0 M776.5,356.7 L780.9,350.1 L781.6,349.0 M783.8,345.7 L787.0,340.9 L789.0,338.0 M791.2,334.7 L793.4,331.4 L796.4,327.0 M798.6,323.7 L800.0,321.6 L803.8,316.0 M806.0,312.7 L806.8,311.6 L811.2,305.0 M813.4,301.7 L813.8,301.1 L818.6,294.0 M820.8,290.7 L821.0,290.4 L826.0,283.0 M828.3,279.7 L828.6,279.3 L833.5,272.0 M835.7,268.7 L836.4,267.8 L840.9,261.0 M843.2,257.7 L844.5,255.8 L848.4,250.0 M850.7,246.7 L852.9,243.4 L855.9,239.0 M858.1,235.7 L861.7,230.6 L863.4,228.0 M865.7,224.7 L870.8,217.1 L870.9,217.0 M873.2,213.7 L878.4,206.0 M880.7,202.7 L886.0,195.0 M888.2,191.7 L890.4,188.5 L893.5,184.0 M895.8,180.7 L900.9,173.2 L901.1,173.0 M903.3,169.7 L908.6,162.0 M910.9,158.7 L912.0,157.1 L916.2,151.0 M918.5,147.7 L923.7,140.2 L923.8,140.0 M926.1,136.7 L931.4,129.0 M933.7,125.7 L936.0,122.3 L939.0,118.0 M941.3,114.7 L946.7,107.0 M948.9,103.7 L949.1,103.4 L954.3,96.0 M956.6,92.7 L961.9,85.0 M964.2,81.7 L969.6,74.0 M971.9,70.7 L977.3,63.0 M979.6,59.7 L985.0,52.0 M987.3,48.7 L992.7,41.0 M995.0,37.7 L1000.4,30.0 M1002.7,26.7 L1008.1,19.0 M1010.4,15.7 L1011.3,14.4 L1015.8,8.0 M1018.1,4.7 L1023.6,-3.0 M1025.9,-6.3 L1030.2,-12.4 L1031.3,-14.0 M1033.6,-17.3 L1039.1,-25.0 M1041.4,-28.3 L1046.9,-36.0 M1049.2,-39.3 L1050.7,-41.5 L1054.6,-47.0 M1057.0,-50.3 L1062.4,-58.0 M1064.8,-61.3 L1070.2,-69.0 M1072.6,-72.3 L1073.5,-73.5 L1078.1,-80.0 M1080.4,-83.3 L1085.9,-91.0 M1088.3,-94.3 L1093.7,-102.0 M1096.1,-105.3 L1098.8,-109.1 L1101.6,-113.0 M1103.9,-116.3 L1109.5,-124.0 M1111.8,-127.3 L1117.3,-135.0 M1119.7,-138.3 L1125.2,-146.0 M1127.6,-149.3 L1133.1,-157.0 M1135.5,-160.3 L1141.0,-168.0 M1143.4,-171.3 L1148.9,-179.0 M1151.3,-182.3 L1156.8,-190.0 M1159.2,-193.3 L1160.3,-194.9 L1164.8,-201.0 M1167.1,-204.3 L1172.7,-212.0 M1175.1,-215.3 L1180.7,-223.0 M1183.1,-226.3 L1188.6,-234.0 M1191.0,-237.3 L1196.6,-245.0 M1199.0,-248.3 L1204.6,-256.0 M1207.0,-259.3 L1212.6,-267.0 M1215.0,-270.3 L1220.6,-278.0 M1223.0,-281.3 L1228.6,-289.0 M1231.0,-292.3 L1236.6,-300.0 M1239.0,-303.3 L1244.6,-311.0 M1247.0,-314.3 L1252.7,-322.0 M1255.1,-325.3 L1260.8,-333.0 M1263.2,-336.3 L1268.8,-344.0 M1271.3,-347.3 L1276.9,-355.0 M1279.3,-358.3 L1285.0,-366.0 M1287.4,-369.3 L1293.1,-377.0 M1295.5,-380.3 L1301.1,-388.0 M1303.6,-391.3 L1304.3,-392.3" stroke="#d6d6d6" stroke-width="1.25"/>
<path d="M607.9,754.2 L609.5,751.5 L611.1,748.8 L612.1,747.0 M614.1,743.7 L614.4,743.3 L616.0,740.5 L617.7,737.7 L618.7,736.0 M620.7,732.7 L621.1,732.0 L622.8,729.1 L624.5,726.2 L625.2,725.0 M627.2,721.7 L628.1,720.3 L629.8,717.3 L631.6,714.3 L631.8,714.0 M633.8,710.7 L635.3,708.2 L637.2,705.1 L638.4,703.0 M640.4,699.7 L640.9,698.8 L642.9,695.6 L644.8,692.4 L645.0,692.0 M647.0,688.7 L648.7,685.8 L650.7,682.5 L651.7,681.0 M653.6,677.7 L654.8,675.8 L656.9,672.4 L658.3,670.0 M660.3,666.7 L661.1,665.4 L663.2,661.9 L665.0,659.0 M667.0,655.7 L667.5,654.7 L669.7,651.1 L671.6,648.0 M673.6,644.7 L674.2,643.7 L676.5,639.9 L678.3,637.0 M680.3,633.7 L681.2,632.2 L683.6,628.3 L685.0,626.0 M687.0,622.7 L688.4,620.4 L690.9,616.4 L691.8,615.0 M693.8,611.7 L696.0,608.1 L698.5,604.0 M700.5,600.7 L701.1,599.7 L703.8,595.4 L705.3,593.0 M707.3,589.7 L709.2,586.6 L711.9,582.1 L712.0,582.0 M714.1,578.7 L714.7,577.6 L717.6,573.0 L718.8,571.0 M720.8,567.7 L723.4,563.5 L725.6,560.0 M727.7,556.7 L729.4,553.9 L732.4,549.0 M734.5,545.7 L735.6,543.9 L738.8,538.8 L739.3,538.0 M741.3,534.7 L742.0,533.6 L745.3,528.3 L746.1,527.0 M748.2,523.7 L748.6,523.0 L752.0,517.5 L753.0,516.0 M755.0,512.7 L755.5,512.0 L759.0,506.4 L759.8,505.0 M761.9,501.7 L762.6,500.6 L766.2,494.8 L766.7,494.0 M768.8,490.7 L769.9,488.9 L773.6,483.0 M775.7,479.7 L777.6,476.7 L780.6,472.0 M782.7,468.7 L785.6,464.0 L787.5,461.0 M789.6,457.7 L789.7,457.5 L793.9,450.9 L794.5,450.0 M796.5,446.7 L798.2,444.1 L801.4,439.0 M803.5,435.7 L807.1,430.1 L808.4,428.0 M810.5,424.7 L811.7,422.9 L815.4,417.0 M817.5,413.7 L821.2,407.9 L822.4,406.0 M824.5,402.7 L826.1,400.1 L829.4,395.0 M831.6,391.7 L836.4,384.1 L836.5,384.0 M838.6,380.7 L841.8,375.7 L843.5,373.0 M845.7,369.7 L847.2,367.2 L850.6,362.0 M852.7,358.7 L852.9,358.4 L857.7,351.0 M859.8,347.7 L864.7,340.1 L864.8,340.0 M866.9,336.7 L870.9,330.6 L871.9,329.0 M874.0,325.7 L877.2,320.7 L879.0,318.0 M881.2,314.7 L883.8,310.6 L886.2,307.0 M888.3,303.7 L890.6,300.1 L893.3,296.0 M895.5,292.7 L897.7,289.3 L900.5,285.0 M902.6,281.7 L904.9,278.1 L907.7,274.0 M909.8,270.7 L912.5,266.6 L914.9,263.0 M917.0,259.7 L920.4,254.6 L922.1,252.0 M924.2,248.7 L928.5,242.1 L929.3,241.0 M931.4,237.7 L936.5,230.0 M938.7,226.7 L943.8,219.0 M945.9,215.7 L946.0,215.7 L951.0,208.0 M953.2,204.7 L955.2,201.6 L958.3,197.0 M960.5,193.7 L965.0,186.9 L965.6,186.0 M967.8,182.7 L972.9,175.0 M975.1,171.7 L975.2,171.5 L980.2,164.0 M982.4,160.7 L986.0,155.3 L987.5,153.0 M989.7,149.7 L994.9,142.0 M997.1,138.7 L997.3,138.3 L1002.2,131.0 M1004.4,127.7 L1009.3,120.4 L1009.6,120.0 M1011.8,116.7 L1017.0,109.0 M1019.2,105.7 L1022.1,101.4 L1024.4,98.0 M1026.6,94.7 L1031.8,87.0 M1034.0,83.7 L1035.6,81.2 L1039.2,76.0 M1041.4,72.7 L1046.6,65.0 M1048.8,61.7 L1050.2,59.7 L1054.0,54.0 M1056.3,50.7 L1061.5,43.0 M1063.7,39.7 L1065.8,36.7 L1069.0,32.0 M1071.2,28.7 L1076.4,21.0 M1078.7,17.7 L1082.6,11.9 L1083.9,10.0 M1086.2,6.7 L1091.4,-1.0 M1093.7,-4.3 L1098.9,-12.0 M1101.2,-15.3 L1106.5,-23.0 M1108.7,-26.3 L1114.0,-34.0 M1116.3,-37.3 L1121.0,-44.2 L1121.6,-45.0 M1123.8,-48.3 L1129.1,-56.0 M1131.4,-59.3 L1136.7,-67.0 M1139.0,-70.3 L1143.2,-76.4 L1144.3,-78.0 M1146.6,-81.3 L1151.9,-89.0 M1154.2,-92.3 L1159.5,-100.0 M1161.8,-103.3 L1167.1,-111.0 M1169.4,-114.3 L1174.8,-122.0 M1177.1,-125.3 L1182.4,-133.0 M1184.7,-136.3 L1190.1,-144.0 M1192.4,-147.3 L1195.8,-152.3 L1197.7,-155.0 M1200.0,-158.3 L1205.4,-166.0 M1207.7,-169.3 L1213.1,-177.0 M1215.4,-180.3 L1220.8,-188.0 M1223.1,-191.3 L1228.0,-198.2 L1228.5,-199.0 M1230.8,-202.3 L1236.3,-210.0 M1238.6,-213.3 L1244.0,-221.0 M1246.3,-224.3 L1251.7,-232.0 M1254.1,-235.3 L1259.5,-243.0 M1261.8,-246.3 L1265.7,-251.8 L1267.2,-254.0 M1269.6,-257.3 L1275.0,-265.0 M1277.4,-268.3 L1282.9,-276.0 M1285.2,-279.3 L1290.7,-287.0 M1293.0,-290.3 L1298.5,-298.0 M1300.8,-301.3 L1306.3,-309.0 M1308.6,-312.3 L1311.2,-316.0 L1314.1,-320.0 M1316.5,-323.3 L1322.0,-331.0 M1324.3,-334.3 L1329.8,-342.0 M1332.2,-345.3 L1337.7,-353.0 M1340.1,-356.3 L1345.6,-364.0 M1347.9,-367.3 L1353.5,-375.0 M1355.8,-378.3 L1361.3,-386.0 M1363.7,-389.3 L1368.7,-396.4" stroke="#d6d6d6" stroke-width="1.25"/>
<path d="M700.4,758.0 L701.9,755.3 L703.4,752.6 L704.4,750.8 M706.3,747.5 L706.5,747.0 L708.1,744.2 L709.7,741.4 L710.6,739.8 M712.4,736.5 L713.0,735.6 L714.6,732.7 L716.3,729.8 L716.8,728.8 M718.6,725.5 L719.6,723.8 L721.3,720.8 L723.0,717.8 M724.9,714.5 L726.5,711.6 L728.3,708.5 L729.2,706.8 M731.1,703.5 L731.9,702.1 L733.7,698.9 L735.5,695.8 M737.4,692.5 L737.5,692.4 L739.4,689.1 L741.3,685.7 L741.8,684.8 M743.7,681.5 L745.1,678.9 L747.1,675.5 L748.1,673.8 M750.0,670.5 L751.1,668.5 L753.2,664.9 L754.4,662.8 M756.3,659.5 L757.3,657.7 L759.4,654.0 L760.7,651.8 M762.6,648.5 L763.7,646.6 L765.9,642.8 L767.1,640.8 M769.0,637.5 L770.4,635.0 L772.7,631.1 L773.4,629.8 M775.3,626.5 L777.3,623.1 L779.7,619.0 L779.8,618.8 M781.7,615.5 L782.1,614.9 L784.5,610.7 L786.2,607.8 M788.1,604.5 L789.5,602.2 L792.0,597.9 L792.6,596.8 M794.5,593.5 L794.6,593.5 L797.2,589.0 L799.0,585.8 M801.0,582.5 L802.5,579.9 L805.3,575.3 L805.5,574.8 M807.4,571.5 L808.0,570.5 L810.8,565.8 L812.0,563.8 M813.9,560.5 L816.6,556.0 L818.5,552.8 M820.4,549.5 L822.5,546.0 L825.0,541.8 M826.9,538.5 L828.7,535.6 L831.5,530.8 M833.4,527.5 L835.0,524.9 L838.0,519.8 M840.0,516.5 L841.6,513.8 L844.6,508.8 M846.5,505.5 L848.4,502.4 L851.1,497.8 M853.1,494.5 L855.5,490.5 L857.7,486.8 M859.7,483.5 L862.9,478.3 L864.3,475.8 M866.3,472.5 L866.6,471.9 L870.5,465.5 L870.9,464.8 M872.9,461.5 L874.5,458.9 L877.6,453.8 M879.6,450.5 L882.7,445.4 L884.2,442.8 M886.2,439.5 L886.9,438.4 L890.9,431.8 M892.9,428.5 L895.6,424.0 L897.6,420.8 M899.6,417.5 L900.2,416.6 L904.3,409.8 M906.3,406.5 L909.6,401.1 L911.0,398.8 M913.0,395.5 L914.4,393.2 L917.7,387.8 M919.7,384.5 L924.5,376.8 M926.5,373.5 L929.9,368.0 L931.2,365.8 M933.2,362.5 L935.3,359.1 L938.0,354.8 M940.0,351.5 L940.9,350.0 L944.8,343.8 M946.8,340.5 L951.6,332.8 M953.6,329.5 L958.4,321.8 M960.5,318.5 L965.2,311.0 L965.3,310.8 M967.3,307.5 L971.7,300.4 L972.1,299.8 M974.2,296.5 L978.5,289.6 L979.0,288.8 M981.0,285.5 L985.6,278.3 L985.9,277.8 M987.9,274.5 L992.8,266.8 M994.8,263.5 L999.7,255.8 M1001.8,252.5 L1006.6,244.8 M1008.7,241.5 L1013.6,233.8 M1015.6,230.5 L1016.6,229.0 L1020.5,222.8 M1022.6,219.5 L1025.2,215.4 L1027.5,211.8 M1029.6,208.5 L1034.2,201.3 L1034.5,200.8 M1036.6,197.5 L1041.5,189.8 M1043.6,186.5 L1043.6,186.5 L1048.5,178.8 M1050.6,175.5 L1053.5,171.0 L1055.5,167.8 M1057.6,164.5 L1062.6,156.8 M1064.7,153.5 L1069.6,145.8 M1071.8,142.5 L1074.9,137.6 L1076.7,134.8 M1078.8,131.5 L1083.8,123.8 M1085.9,120.5 L1086.5,119.6 L1090.9,112.8 M1093.0,109.5 L1098.0,101.8 M1100.2,98.5 L1105.2,90.8 M1107.3,87.5 L1112.1,80.2 L1112.3,79.8 M1114.4,76.5 L1119.5,68.8 M1121.6,65.5 L1126.1,58.6 L1126.6,57.8 M1128.8,54.5 L1133.8,46.8 M1136.0,43.5 L1141.0,35.8 M1143.2,32.5 L1148.2,24.8 M1150.4,21.5 L1155.4,13.8 M1157.6,10.5 L1157.6,10.5 L1162.7,2.8 M1164.9,-0.5 L1169.9,-8.2 M1172.1,-11.5 L1175.4,-16.5 L1177.2,-19.2 M1179.4,-22.5 L1184.5,-30.2 M1186.7,-33.5 L1191.8,-41.2 M1194.0,-44.5 L1194.9,-45.9 L1199.1,-52.2 M1201.3,-55.5 L1206.4,-63.2 M1208.6,-66.5 L1213.7,-74.2 M1215.9,-77.5 L1216.5,-78.3 L1221.1,-85.2 M1223.3,-88.5 L1228.5,-96.2 M1230.7,-99.5 L1235.8,-107.2 M1238.0,-110.5 L1240.5,-114.2 L1243.2,-118.2 M1245.4,-121.5 L1250.6,-129.2 M1252.8,-132.5 L1258.0,-140.2 M1260.2,-143.5 L1265.4,-151.2 M1267.7,-154.5 L1267.7,-154.5 L1272.9,-162.2 M1275.1,-165.5 L1280.3,-173.2 M1282.6,-176.5 L1287.8,-184.2 M1290.0,-187.5 L1295.2,-195.2 M1297.5,-198.5 L1299.0,-200.7 L1302.7,-206.2 M1305.0,-209.5 L1310.2,-217.2 M1312.5,-220.5 L1317.8,-228.2 M1320.0,-231.5 L1325.3,-239.2 M1327.5,-242.5 L1332.8,-250.2 M1335.0,-253.5 L1335.7,-254.4 L1340.3,-261.2 M1342.6,-264.5 L1347.9,-272.2 M1350.2,-275.5 L1355.5,-283.2 M1357.8,-286.5 L1363.1,-294.2 M1365.3,-297.5 L1370.6,-305.2 M1372.9,-308.5 L1378.2,-316.2 M1380.5,-319.5 L1385.9,-327.2 M1388.2,-330.5 L1393.5,-338.2 M1395.8,-341.5 L1401.2,-349.2 M1403.5,-352.5 L1408.8,-360.2 M1411.1,-363.5 L1416.5,-371.2 M1418.8,-374.5 L1424.1,-382.2 M1426.4,-385.5 L1431.8,-393.2 M1434.1,-396.5 L1436.3,-399.6" stroke="#d6d6d6" stroke-width="1.25"/>
<path d="M798.2,764.0 L799.6,761.3 L801.1,758.5 L802.0,756.8 M803.7,753.5 L804.0,752.9 L805.5,750.1 L807.0,747.2 L807.8,745.8 M809.5,742.5 L810.1,741.4 L811.7,738.5 L813.2,735.5 L813.6,734.8 M815.3,731.5 L816.4,729.5 L818.0,726.4 L819.4,723.8 M821.2,720.5 L821.3,720.3 L823.0,717.1 L824.7,714.0 L825.2,712.8 M827.0,709.5 L828.1,707.6 L829.8,704.3 L831.1,701.8 M832.9,698.5 L833.3,697.7 L835.1,694.4 L836.9,691.0 L837.0,690.8 M838.8,687.5 L840.6,684.1 L842.5,680.7 L842.9,679.8 M844.7,676.5 L846.3,673.6 L848.2,670.0 L848.8,668.8 M850.6,665.5 L852.2,662.7 L854.2,659.0 L854.8,657.8 M856.6,654.5 L858.3,651.4 L860.3,647.6 L860.8,646.8 M862.6,643.5 L864.6,639.8 L866.7,635.8 M868.5,632.5 L868.9,631.8 L871.2,627.7 L872.8,624.8 M874.6,621.5 L875.7,619.5 L878.0,615.2 L878.8,613.8 M880.6,610.5 L882.7,606.6 L884.8,602.8 M886.6,599.5 L887.6,597.8 L890.1,593.3 L890.9,591.8 M892.7,588.5 L895.1,584.1 L897.0,580.8 M898.8,577.5 L900.4,574.7 L903.0,569.9 L903.1,569.8 M904.9,566.5 L905.8,565.0 L908.5,560.0 L909.2,558.8 M911.0,555.5 L911.3,555.0 L914.2,549.9 L915.3,547.8 M917.2,544.5 L920.0,539.4 L921.5,536.8 M923.3,533.5 L926.1,528.6 L927.7,525.8 M929.5,522.5 L932.4,517.5 L933.8,514.8 M935.7,511.5 L938.9,505.9 L940.1,503.8 M941.9,500.5 L942.2,500.0 L945.6,494.0 L946.3,492.8 M948.2,489.5 L949.1,487.8 L952.5,481.8 M954.4,478.5 L956.3,475.2 L958.8,470.8 M960.7,467.5 L963.8,462.1 L965.1,459.8 M967.0,456.5 L967.7,455.3 L971.4,448.8 M973.3,445.5 L975.7,441.4 L977.7,437.8 M979.6,434.5 L979.8,434.2 L984.0,426.9 L984.0,426.8 M986.0,423.5 L988.4,419.4 L990.4,415.8 M992.3,412.5 L992.8,411.7 L996.8,404.8 M998.7,401.5 L1002.0,395.8 L1003.2,393.8 M1005.1,390.5 L1006.8,387.5 L1009.6,382.8 M1011.5,379.5 L1011.8,379.1 L1016.0,371.8 M1017.9,368.5 L1022.1,361.5 L1022.4,360.8 M1024.4,357.5 L1027.5,352.3 L1028.9,349.8 M1030.8,346.5 L1033.0,342.9 L1035.4,338.8 M1037.3,335.5 L1038.7,333.2 L1041.9,327.8 M1043.8,324.5 L1044.6,323.2 L1048.4,316.8 M1050.3,313.5 L1050.7,312.9 L1054.9,305.8 M1056.9,302.5 L1057.0,302.3 L1061.4,294.8 M1063.4,291.5 L1063.5,291.4 L1068.0,283.8 M1070.0,280.5 L1070.3,280.0 L1074.6,272.8 M1076.6,269.5 L1077.3,268.3 L1081.2,261.8 M1083.2,258.5 L1084.6,256.1 L1087.8,250.8 M1089.8,247.5 L1092.2,243.5 L1094.4,239.8 M1096.4,236.5 L1100.1,230.4 L1101.1,228.8 M1103.1,225.5 L1107.7,217.8 M1109.7,214.5 L1114.4,206.8 M1116.4,203.5 L1117.1,202.4 L1121.1,195.8 M1123.1,192.5 L1126.1,187.5 L1127.8,184.8 M1129.8,181.5 L1134.5,173.8 M1136.5,170.5 L1141.2,162.8 M1143.3,159.5 L1145.7,155.6 L1148.0,151.8 M1150.0,148.5 L1154.8,140.8 M1156.8,137.5 L1161.6,129.8 M1163.6,126.5 L1167.5,120.2 L1168.4,118.8 M1170.4,115.5 L1175.2,107.8 M1177.2,104.5 L1179.5,100.9 L1182.0,96.8 M1184.1,93.5 L1188.9,85.8 M1190.9,82.5 L1192.2,80.5 L1195.7,74.8 M1197.8,71.5 L1202.6,63.8 M1204.7,60.5 L1205.8,58.8 L1209.5,52.8 M1211.6,49.5 L1216.4,41.8 M1218.5,38.5 L1220.4,35.5 L1223.3,30.8 M1225.4,27.5 L1230.3,19.8 M1232.3,16.5 L1236.2,10.4 L1237.2,8.8 M1239.3,5.5 L1244.2,-2.2 M1246.3,-5.5 L1251.1,-13.2 M1253.2,-16.5 L1253.4,-16.8 L1258.1,-24.2 M1260.3,-27.5 L1265.2,-35.2 M1267.3,-38.5 L1272.2,-46.2 M1274.3,-49.5 L1279.2,-57.2 M1281.3,-60.5 L1286.3,-68.2 M1288.4,-71.5 L1293.2,-78.9 L1293.3,-79.2 M1295.5,-82.5 L1300.4,-90.2 M1302.6,-93.5 L1307.5,-101.2 M1309.7,-104.5 L1314.6,-112.2 M1316.8,-115.5 L1321.8,-123.2 M1323.9,-126.5 L1328.9,-134.2 M1331.0,-137.5 L1336.1,-145.2 M1338.2,-148.5 L1342.9,-155.6 L1343.2,-156.2 M1345.4,-159.5 L1350.4,-167.2 M1352.6,-170.5 L1357.6,-178.2 M1359.8,-181.5 L1364.8,-189.2 M1367.0,-192.5 L1372.0,-200.2 M1374.2,-203.5 L1379.3,-211.2 M1381.4,-214.5 L1386.5,-222.2 M1388.7,-225.5 L1393.8,-233.2 M1396.0,-236.5 L1401.0,-244.2 M1403.2,-247.5 L1408.3,-255.2 M1410.5,-258.5 L1415.6,-266.2 M1417.8,-269.5 L1423.0,-277.2 M1425.2,-280.5 L1430.3,-288.2 M1432.5,-291.5 L1437.6,-299.2 M1439.8,-302.5 L1445.0,-310.2 M1447.2,-313.5 L1452.1,-320.9 L1452.3,-321.2 M1454.5,-324.5 L1459.7,-332.2 M1461.9,-335.5 L1467.1,-343.2 M1469.4,-346.5 L1474.5,-354.2 M1476.8,-357.5 L1482.0,-365.2 M1484.2,-368.5 L1489.4,-376.2 M1491.6,-379.5 L1496.8,-387.2 M1499.0,-390.5 L1504.2,-398.2 M1506.4,-401.5 L1506.8,-401.9" stroke="#d6d6d6" stroke-width="1.25"/>
<path d="M-85.6,771.8 L-100.6,756.8 M-107.0,750.3 L-122.5,734.8 M-129.0,728.3 L-144.5,712.8 M-151.0,706.3 L-166.5,690.8 M-173.0,684.3 L-188.5,668.8 M-195.0,662.3 L-210.5,646.8 M-217.0,640.3 L-232.5,624.8 M-239.0,618.3 L-254.5,602.8 M-261.0,596.3 L-276.4,580.8 M-282.9,574.3 L-298.4,558.8 M-304.9,552.3 L-320.4,536.8 M-326.9,530.3 L-342.4,514.8 M-348.9,508.3 L-364.4,492.8 M-370.9,486.3 L-386.4,470.8 M-392.9,464.3 L-408.4,448.8 M-414.9,442.3 L-430.3,426.8 M-436.8,420.3 L-452.3,404.8 M-458.8,398.3 L-474.3,382.8 M-480.8,376.3 L-496.3,360.8 M-502.8,354.3 L-518.3,338.8 M-524.8,332.3 L-540.3,316.8 M-546.8,310.3 L-562.3,294.8 M-568.8,288.3 L-584.3,272.8 M-590.7,266.3 L-606.2,250.8 M-612.7,244.3 L-628.2,228.8 M-634.7,222.3 L-638.9,218.2" stroke="#d4b0d8" stroke-width="1"/>
<path d="M7.8,760.7 L-7.2,745.7 M-13.7,739.2 L-29.2,723.7 M-35.7,717.2 L-51.2,701.7 M-57.7,695.2 L-73.2,679.7 M-79.7,673.2 L-95.2,657.7 M-101.7,651.2 L-117.2,635.7 M-123.7,629.2 L-139.2,613.7 M-145.6,607.2 L-161.1,591.7 M-167.6,585.2 L-183.1,569.7 M-189.6,563.2 L-205.1,547.7 M-211.6,541.2 L-227.1,525.7 M-233.6,519.2 L-249.1,503.7 M-255.6,497.2 L-271.1,481.7 M-277.6,475.2 L-293.1,459.7 M-299.6,453.2 L-315.0,437.7 M-321.5,431.2 L-337.0,415.7 M-343.5,409.2 L-359.0,393.7 M-365.5,387.2 L-381.0,371.7 M-387.5,365.2 L-403.0,349.7 M-409.5,343.2 L-425.0,327.7 M-431.5,321.2 L-447.0,305.7 M-453.5,299.2 L-468.9,283.7 M-475.4,277.2 L-490.9,261.7 M-497.4,255.2 L-512.9,239.7 M-519.4,233.2 L-534.9,217.7 M-541.4,211.2 L-556.9,195.7 M-563.4,189.2 L-571.5,181.1" stroke="#d4b0d8" stroke-width="1"/>
<path d="M98.8,751.9 L83.8,736.9 M77.3,730.4 L61.8,714.9 M55.3,708.4 L39.8,692.9 M33.3,686.4 L17.8,670.9 M11.3,664.4 L-4.2,648.9 M-10.6,642.4 L-26.1,626.9 M-32.6,620.4 L-48.1,604.9 M-54.6,598.4 L-70.1,582.9 M-76.6,576.4 L-92.1,560.9 M-98.6,554.4 L-114.1,538.9 M-120.6,532.4 L-136.1,516.9 M-142.6,510.4 L-158.1,494.9 M-164.6,488.4 L-180.0,472.9 M-186.5,466.4 L-202.0,450.9 M-208.5,444.4 L-224.0,428.9 M-230.5,422.4 L-246.0,406.9 M-252.5,400.4 L-268.0,384.9 M-274.5,378.4 L-290.0,362.9 M-296.5,356.4 L-312.0,340.9 M-318.5,334.4 L-333.9,318.9 M-340.4,312.4 L-355.9,296.9 M-362.4,290.4 L-377.9,274.9 M-384.4,268.4 L-399.9,252.9 M-406.4,246.4 L-421.9,230.9 M-428.4,224.4 L-443.9,208.9 M-450.4,202.4 L-465.9,186.9 M-472.4,180.4 L-487.9,164.9 M-494.3,158.4 L-506.4,146.3" stroke="#d4b0d8" stroke-width="1"/>
<path d="M187.7,745.2 L172.7,730.2 M166.2,723.7 L150.7,708.2 M144.2,701.7 L128.7,686.2 M122.3,679.7 L106.8,664.2 M100.3,657.7 L84.8,642.2 M78.3,635.7 L62.8,620.2 M56.3,613.7 L40.8,598.2 M34.3,591.7 L18.8,576.2 M12.3,569.7 L-3.2,554.2 M-9.7,547.7 L-25.2,532.2 M-31.7,525.7 L-47.1,510.2 M-53.6,503.7 L-69.1,488.2 M-75.6,481.7 L-91.1,466.2 M-97.6,459.7 L-113.1,444.2 M-119.6,437.7 L-135.1,422.2 M-141.6,415.7 L-157.1,400.2 M-163.6,393.7 L-179.1,378.2 M-185.6,371.7 L-201.0,356.2 M-207.5,349.7 L-223.0,334.2 M-229.5,327.7 L-245.0,312.2 M-251.5,305.7 L-267.0,290.2 M-273.5,283.7 L-289.0,268.2 M-295.5,261.7 L-311.0,246.2 M-317.5,239.7 L-333.0,224.2 M-339.5,217.7 L-355.0,202.2 M-361.4,195.7 L-376.9,180.2 M-383.4,173.7 L-398.9,158.2 M-405.4,151.7 L-420.9,136.2 M-427.4,129.7 L-442.9,114.2" stroke="#d4b0d8" stroke-width="1"/>
<path d="M274.7,740.4 L259.7,725.4 M253.2,718.9 L237.7,703.4 M231.2,696.9 L215.7,681.4 M209.2,674.9 L193.8,659.4 M187.3,652.9 L171.8,637.4 M165.3,630.9 L149.8,615.4 M143.3,608.9 L127.8,593.4 M121.3,586.9 L105.8,571.4 M99.3,564.9 L83.8,549.4 M77.3,542.9 L61.8,527.4 M55.3,520.9 L39.9,505.4 M33.4,498.9 L17.9,483.4 M11.4,476.9 L-4.1,461.4 M-10.6,454.9 L-26.1,439.4 M-32.6,432.9 L-48.1,417.4 M-54.6,410.9 L-70.1,395.4 M-76.6,388.9 L-92.1,373.4 M-98.6,366.9 L-114.1,351.4 M-120.5,344.9 L-136.0,329.4 M-142.5,322.9 L-158.0,307.4 M-164.5,300.9 L-180.0,285.4 M-186.5,278.9 L-202.0,263.4 M-208.5,256.9 L-224.0,241.4 M-230.5,234.9 L-246.0,219.4 M-252.5,212.9 L-268.0,197.4 M-274.5,190.9 L-289.9,175.4 M-296.4,168.9 L-311.9,153.4 M-318.4,146.9 L-333.9,131.4 M-340.4,124.9 L-355.9,109.4 M-362.4,102.9 L-377.9,87.4" stroke="#d4b0d8" stroke-width="1"/>
<path d="M359.9,737.4 L344.9,722.4 M338.4,715.9 L322.9,700.4 M316.4,693.9 L301.0,678.4 M294.5,671.9 L279.0,656.4 M272.5,649.9 L257.0,634.4 M250.5,627.9 L235.0,612.4 M228.5,605.9 L213.0,590.4 M206.5,583.9 L191.0,568.4 M184.5,561.9 L169.0,546.4 M162.5,539.9 L147.1,524.4 M140.6,517.9 L125.1,502.4 M118.6,495.9 L103.1,480.4 M96.6,473.9 L81.1,458.4 M74.6,451.9 L59.1,436.4 M52.6,429.9 L37.1,414.4 M30.6,407.9 L15.1,392.4 M8.6,385.9 L-6.9,370.4 M-13.3,363.9 L-28.8,348.4 M-35.3,341.9 L-50.8,326.4 M-57.3,319.9 L-72.8,304.4 M-79.3,297.9 L-94.8,282.4 M-101.3,275.9 L-116.8,260.4 M-123.3,253.9 L-138.8,238.4 M-145.3,231.9 L-160.8,216.4 M-167.3,209.9 L-182.7,194.4 M-189.2,187.9 L-204.7,172.4 M-211.2,165.9 L-226.7,150.4 M-233.2,143.9 L-248.7,128.4 M-255.2,121.9 L-270.7,106.4 M-277.2,99.9 L-292.7,84.4 M-299.2,77.9 L-314.7,62.4 M-321.2,55.9 L-323.2,53.9" stroke="#d4b0d8" stroke-width="1"/>
<path d="M443.5,736.1 L428.5,721.1 M422.0,714.6 L406.5,699.1 M400.0,692.6 L384.5,677.1 M378.0,670.6 L362.5,655.1 M356.0,648.6 L340.6,633.1 M334.1,626.6 L318.6,611.1 M312.1,604.6 L296.6,589.1 M290.1,582.6 L274.6,567.1 M268.1,560.6 L252.6,545.1 M246.1,538.6 L230.6,523.1 M224.1,516.6 L208.6,501.1 M202.1,494.6 L186.6,479.1 M180.2,472.6 L164.7,457.1 M158.2,450.6 L142.7,435.1 M136.2,428.6 L120.7,413.1 M114.2,406.6 L98.7,391.1 M92.2,384.6 L76.7,369.1 M70.2,362.6 L54.7,347.1 M48.2,340.6 L32.7,325.1 M26.2,318.6 L10.8,303.1 M4.3,296.6 L-11.2,281.1 M-17.7,274.6 L-33.2,259.1 M-39.7,252.6 L-55.2,237.1 M-61.7,230.6 L-77.2,215.1 M-83.7,208.6 L-99.2,193.1 M-105.7,186.6 L-121.2,171.1 M-127.7,164.6 L-143.1,149.1 M-149.6,142.6 L-165.1,127.1 M-171.6,120.6 L-187.1,105.1 M-193.6,98.6 L-209.1,83.1 M-215.6,76.6 L-231.1,61.1 M-237.6,54.6 L-253.1,39.1 M-259.6,32.6 L-265.6,26.6" stroke="#d4b0d8" stroke-width="1"/>
<path d="M525.5,736.2 L510.5,721.2 M504.0,714.7 L488.5,699.2 M482.1,692.7 L466.6,677.2 M460.1,670.7 L444.6,655.2 M438.1,648.7 L422.6,633.2 M416.1,626.7 L400.6,611.2 M394.1,604.7 L378.6,589.2 M372.1,582.7 L356.6,567.2 M350.1,560.7 L334.6,545.2 M328.1,538.7 L312.7,523.2 M306.2,516.7 L290.7,501.2 M284.2,494.7 L268.7,479.2 M262.2,472.7 L246.7,457.2 M240.2,450.7 L224.7,435.2 M218.2,428.7 L202.7,413.2 M196.2,406.7 L180.7,391.2 M174.2,384.7 L158.8,369.2 M152.3,362.7 L136.8,347.2 M130.3,340.7 L114.8,325.2 M108.3,318.7 L92.8,303.2 M86.3,296.7 L70.8,281.2 M64.3,274.7 L48.8,259.2 M42.3,252.7 L26.8,237.2 M20.3,230.7 L4.8,215.2 M-1.6,208.7 L-17.1,193.2 M-23.6,186.7 L-39.1,171.2 M-45.6,164.7 L-61.1,149.2 M-67.6,142.7 L-83.1,127.2 M-89.6,120.7 L-105.1,105.2 M-111.6,98.7 L-127.1,83.2 M-133.6,76.7 L-149.1,61.2 M-155.6,54.7 L-171.0,39.2 M-177.5,32.7 L-193.0,17.2 M-199.5,10.7 L-209.5,0.7" stroke="#d4b0d8" stroke-width="1"/>
<path d="M606.1,737.8 L591.1,722.8 M584.6,716.3 L569.2,700.8 M562.7,694.3 L547.2,678.8 M540.7,672.3 L525.2,656.8 M518.7,650.3 L503.2,634.8 M496.7,628.3 L481.2,612.8 M474.7,606.3 L459.2,590.8 M452.7,584.3 L437.2,568.8 M430.7,562.3 L415.3,546.8 M408.8,540.3 L393.3,524.8 M386.8,518.3 L371.3,502.8 M364.8,496.3 L349.3,480.8 M342.8,474.3 L327.3,458.8 M320.8,452.3 L305.3,436.8 M298.8,430.3 L283.3,414.8 M276.8,408.3 L261.4,392.8 M254.9,386.3 L239.4,370.8 M232.9,364.3 L217.4,348.8 M210.9,342.3 L195.4,326.8 M188.9,320.3 L173.4,304.8 M166.9,298.3 L151.4,282.8 M144.9,276.3 L129.4,260.8 M122.9,254.3 L107.4,238.8 M100.9,232.3 L85.5,216.8 M79.0,210.3 L63.5,194.8 M57.0,188.3 L41.5,172.8 M35.0,166.3 L19.5,150.8 M13.0,144.3 L-2.5,128.8 M-9.0,122.3 L-24.5,106.8 M-31.0,100.3 L-46.5,84.8 M-53.0,78.3 L-68.4,62.8 M-74.9,56.3 L-90.4,40.8 M-96.9,34.3 L-112.4,18.8 M-118.9,12.3 L-134.4,-3.2 M-140.9,-9.7 L-154.8,-23.7" stroke="#d4b0d8" stroke-width="1"/>
<path d="M685.4,740.7 L670.4,725.7 M663.9,719.2 L648.4,703.7 M641.9,697.2 L626.5,681.7 M620.0,675.2 L604.5,659.7 M598.0,653.2 L582.5,637.7 M576.0,631.2 L560.5,615.7 M554.0,609.2 L538.5,593.7 M532.0,587.2 L516.5,571.7 M510.0,565.2 L494.5,549.7 M488.0,543.2 L472.6,527.7 M466.1,521.2 L450.6,505.7 M444.1,499.2 L428.6,483.7 M422.1,477.2 L406.6,461.7 M400.1,455.2 L384.6,439.7 M378.1,433.2 L362.6,417.7 M356.1,411.2 L340.6,395.7 M334.1,389.2 L318.6,373.7 M312.2,367.2 L296.7,351.7 M290.2,345.2 L274.7,329.7 M268.2,323.2 L252.7,307.7 M246.2,301.2 L230.7,285.7 M224.2,279.2 L208.7,263.7 M202.2,257.2 L186.7,241.7 M180.2,235.2 L164.7,219.7 M158.2,213.2 L142.8,197.7 M136.3,191.2 L120.8,175.7 M114.3,169.2 L98.8,153.7 M92.3,147.2 L76.8,131.7 M70.3,125.2 L54.8,109.7 M48.3,103.2 L32.8,87.7 M26.3,81.2 L10.8,65.7 M4.3,59.2 L-11.1,43.7 M-17.6,37.2 L-33.1,21.7 M-39.6,15.2 L-55.1,-0.3 M-61.6,-6.8 L-77.1,-22.3 M-83.6,-28.8 L-99.1,-44.3" stroke="#d4b0d8" stroke-width="1"/>
<path d="M763.5,744.8 L748.5,729.8 M742.0,723.3 L726.5,707.8 M720.0,701.3 L704.5,685.8 M698.0,679.3 L682.5,663.8 M676.0,657.3 L660.5,641.8 M654.0,635.3 L638.5,619.8 M632.0,613.3 L616.6,597.8 M610.1,591.3 L594.6,575.8 M588.1,569.3 L572.6,553.8 M566.1,547.3 L550.6,531.8 M544.1,525.3 L528.6,509.8 M522.1,503.3 L506.6,487.8 M500.1,481.3 L484.6,465.8 M478.1,459.3 L462.6,443.8 M456.2,437.3 L440.7,421.8 M434.2,415.3 L418.7,399.8 M412.2,393.3 L396.7,377.8 M390.2,371.3 L374.7,355.8 M368.2,349.3 L352.7,333.8 M346.2,327.3 L330.7,311.8 M324.2,305.3 L308.7,289.8 M302.2,283.3 L286.8,267.8 M280.3,261.3 L264.8,245.8 M258.3,239.3 L242.8,223.8 M236.3,217.3 L220.8,201.8 M214.3,195.3 L198.8,179.8 M192.3,173.3 L176.8,157.8 M170.3,151.3 L154.8,135.8 M148.3,129.3 L132.9,113.8 M126.4,107.3 L110.9,91.8 M104.4,85.3 L88.9,69.8 M82.4,63.3 L66.9,47.8 M60.4,41.3 L44.9,25.8 M38.4,19.3 L22.9,3.8 M16.4,-2.7 L0.9,-18.2 M-5.6,-24.7 L-21.1,-40.2 M-27.5,-46.7 L-43.0,-62.2" stroke="#d4b0d8" stroke-width="1"/>
<path d="M840.3,750.1 L825.4,735.1 M818.9,728.6 L803.4,713.1 M796.9,706.6 L781.4,691.1 M774.9,684.6 L759.4,669.1 M752.9,662.6 L737.4,647.1 M730.9,640.6 L715.4,625.1 M708.9,618.6 L693.4,603.1 M686.9,596.6 L671.4,581.1 M665.0,574.6 L649.5,559.1 M643.0,552.6 L627.5,537.1 M621.0,530.6 L605.5,515.1 M599.0,508.6 L583.5,493.1 M577.0,486.6 L561.5,471.1 M555.0,464.6 L539.5,449.1 M533.0,442.6 L517.5,427.1 M511.0,420.6 L495.6,405.1 M489.1,398.6 L473.6,383.1 M467.1,376.6 L451.6,361.1 M445.1,354.6 L429.6,339.1 M423.1,332.6 L407.6,317.1 M401.1,310.6 L385.6,295.1 M379.1,288.6 L363.6,273.1 M357.1,266.6 L341.7,251.1 M335.2,244.6 L319.7,229.1 M313.2,222.6 L297.7,207.1 M291.2,200.6 L275.7,185.1 M269.2,178.6 L253.7,163.1 M247.2,156.6 L231.7,141.1 M225.2,134.6 L209.7,119.1 M203.2,112.6 L187.7,97.1 M181.3,90.6 L165.8,75.1 M159.3,68.6 L143.8,53.1 M137.3,46.6 L121.8,31.1 M115.3,24.6 L99.8,9.1 M93.3,2.6 L77.8,-12.9 M71.3,-19.4 L55.8,-34.9 M49.3,-41.4 L33.8,-56.9 M27.3,-63.4 L11.9,-78.9 M5.4,-85.4 L1.5,-89.2" stroke="#d4b0d8" stroke-width="1"/>
<path d="M900.0,740.4 L885.0,725.4 M878.5,718.9 L863.0,703.4 M856.5,696.9 L841.0,681.4 M834.5,674.9 L819.1,659.4 M812.6,652.9 L797.1,637.4 M790.6,630.9 L775.1,615.4 M768.6,608.9 L753.1,593.4 M746.6,586.9 L731.1,571.4 M724.6,564.9 L709.1,549.4 M702.6,542.9 L687.1,527.4 M680.6,520.9 L665.1,505.4 M658.6,498.9 L643.2,483.4 M636.7,476.9 L621.2,461.4 M614.7,454.9 L599.2,439.4 M592.7,432.9 L577.2,417.4 M570.7,410.9 L555.2,395.4 M548.7,388.9 L533.2,373.4 M526.7,366.9 L511.2,351.4 M504.7,344.9 L489.3,329.4 M482.8,322.9 L467.3,307.4 M460.8,300.9 L445.3,285.4 M438.8,278.9 L423.3,263.4 M416.8,256.9 L401.3,241.4 M394.8,234.9 L379.3,219.4 M372.8,212.9 L357.3,197.4 M350.8,190.9 L335.4,175.4 M328.9,168.9 L313.4,153.4 M306.9,146.9 L291.4,131.4 M284.9,124.9 L269.4,109.4 M262.9,102.9 L247.4,87.4 M240.9,80.9 L225.4,65.4 M218.9,58.9 L203.4,43.4 M196.9,36.9 L181.4,21.4 M175.0,14.9 L159.5,-0.6 M153.0,-7.1 L137.5,-22.6 M131.0,-29.1 L115.5,-44.6 M109.0,-51.1 L93.5,-66.6 M87.0,-73.1 L71.5,-88.6 M65.0,-95.1 L51.3,-108.8" stroke="#d4b0d8" stroke-width="1"/>
<path d="M900.0,673.0 L885.0,658.0 M878.5,651.5 L863.0,636.0 M856.5,629.5 L841.0,614.0 M834.5,607.5 L819.1,592.0 M812.6,585.5 L797.1,570.0 M790.6,563.5 L775.1,548.0 M768.6,541.5 L753.1,526.0 M746.6,519.5 L731.1,504.0 M724.6,497.5 L709.1,482.0 M702.6,475.5 L687.1,460.0 M680.6,453.5 L665.1,438.0 M658.6,431.5 L643.2,416.0 M636.7,409.5 L621.2,394.0 M614.7,387.5 L599.2,372.0 M592.7,365.5 L577.2,350.0 M570.7,343.5 L555.2,328.0 M548.7,321.5 L533.2,306.0 M526.7,299.5 L511.2,284.0 M504.7,277.5 L489.3,262.0 M482.8,255.5 L467.3,240.0 M460.8,233.5 L445.3,218.0 M438.8,211.5 L423.3,196.0 M416.8,189.5 L401.3,174.0 M394.8,167.5 L379.3,152.0 M372.8,145.5 L357.3,130.0 M350.8,123.5 L335.4,108.0 M328.9,101.5 L313.4,86.0 M306.9,79.5 L291.4,64.0 M284.9,57.5 L269.4,42.0 M262.9,35.5 L247.4,20.0 M240.9,13.5 L225.4,-2.0 M218.9,-8.5 L203.4,-24.0 M196.9,-30.5 L181.4,-46.0 M175.0,-52.5 L159.5,-68.0 M153.0,-74.5 L137.5,-90.0 M131.0,-96.5 L115.5,-112.0 M109.0,-118.5 L100.1,-127.4" stroke="#d4b0d8" stroke-width="1"/>
<path d="M900.0,607.6 L885.0,592.6 M878.5,586.1 L863.0,570.6 M856.5,564.1 L841.0,548.6 M834.5,542.1 L819.1,526.6 M812.6,520.1 L797.1,504.6 M790.6,498.1 L775.1,482.6 M768.6,476.1 L753.1,460.6 M746.6,454.1 L731.1,438.6 M724.6,432.1 L709.1,416.6 M702.6,410.1 L687.1,394.6 M680.6,388.1 L665.1,372.6 M658.6,366.1 L643.2,350.6 M636.7,344.1 L621.2,328.6 M614.7,322.1 L599.2,306.6 M592.7,300.1 L577.2,284.6 M570.7,278.1 L555.2,262.6 M548.7,256.1 L533.2,240.6 M526.7,234.1 L511.2,218.6 M504.7,212.1 L489.3,196.6 M482.8,190.1 L467.3,174.6 M460.8,168.1 L445.3,152.6 M438.8,146.1 L423.3,130.6 M416.8,124.1 L401.3,108.6 M394.8,102.1 L379.3,86.6 M372.8,80.1 L357.3,64.6 M350.8,58.1 L335.4,42.6 M328.9,36.1 L313.4,20.6 M306.9,14.1 L291.4,-1.4 M284.9,-7.9 L269.4,-23.4 M262.9,-29.9 L247.4,-45.4 M240.9,-51.9 L225.4,-67.4 M218.9,-73.9 L203.4,-89.4 M196.9,-95.9 L181.4,-111.4 M175.0,-117.9 L159.5,-133.4 M153.0,-139.9 L147.9,-145.0" stroke="#d4b0d8" stroke-width="1"/>
<path d="M900.0,543.9 L885.0,528.9 M878.5,522.4 L863.0,506.9 M856.5,500.4 L841.0,484.9 M834.5,478.4 L819.1,462.9 M812.6,456.4 L797.1,440.9 M790.6,434.4 L775.1,418.9 M768.6,412.4 L753.1,396.9 M746.6,390.4 L731.1,374.9 M724.6,368.4 L709.1,352.9 M702.6,346.4 L687.1,330.9 M680.6,324.4 L665.1,308.9 M658.6,302.4 L643.2,286.9 M636.7,280.4 L621.2,264.9 M614.7,258.4 L599.2,242.9 M592.7,236.4 L577.2,220.9 M570.7,214.4 L555.2,198.9 M548.7,192.4 L533.2,176.9 M526.7,170.4 L511.2,154.9 M504.7,148.4 L489.3,132.9 M482.8,126.4 L467.3,110.9 M460.8,104.4 L445.3,88.9 M438.8,82.4 L423.3,66.9 M416.8,60.4 L401.3,44.9 M394.8,38.4 L379.3,22.9 M372.8,16.4 L357.3,0.9 M350.8,-5.6 L335.4,-21.1 M328.9,-27.6 L313.4,-43.1 M306.9,-49.6 L291.4,-65.1 M284.9,-71.6 L269.4,-87.1 M262.9,-93.6 L247.4,-109.1 M240.9,-115.6 L225.4,-131.1 M218.9,-137.6 L203.4,-153.1 M196.9,-159.6 L194.9,-161.7" stroke="#d4b0d8" stroke-width="1"/>
<path d="M900.0,482.0 L885.0,467.0 M878.5,460.5 L863.0,445.0 M856.5,438.5 L841.0,423.0 M834.5,416.5 L819.1,401.0 M812.6,394.5 L797.1,379.0 M790.6,372.5 L775.1,357.0 M768.6,350.5 L753.1,335.0 M746.6,328.5 L731.1,313.0 M724.6,306.5 L709.1,291.0 M702.6,284.5 L687.1,269.0 M680.6,262.5 L665.1,247.0 M658.6,240.5 L643.2,225.0 M636.7,218.5 L621.2,203.0 M614.7,196.5 L599.2,181.0 M592.7,174.5 L577.2,159.0 M570.7,152.5 L555.2,137.0 M548.7,130.5 L533.2,115.0 M526.7,108.5 L511.2,93.0 M504.7,86.5 L489.3,71.0 M482.8,64.5 L467.3,49.0 M460.8,42.5 L445.3,27.0 M438.8,20.5 L423.3,5.0 M416.8,-1.5 L401.3,-17.0 M394.8,-23.5 L379.3,-39.0 M372.8,-45.5 L357.3,-61.0 M350.8,-67.5 L335.4,-83.0 M328.9,-89.5 L313.4,-105.0 M306.9,-111.5 L291.4,-127.0 M284.9,-133.5 L269.4,-149.0 M262.9,-155.5 L247.4,-171.0 M240.9,-177.5 L240.9,-177.5" stroke="#d4b0d8" stroke-width="1"/>
<path d="M900.0,421.8 L885.0,406.8 M878.5,400.3 L863.0,384.8 M856.5,378.3 L841.0,362.8 M834.5,356.3 L819.1,340.8 M812.6,334.3 L797.1,318.8 M790.6,312.3 L775.1,296.8 M768.6,290.3 L753.1,274.8 M746.6,268.3 L731.1,252.8 M724.6,246.3 L709.1,230.8 M702.6,224.3 L687.1,208.8 M680.6,202.3 L665.1,186.8 M658.6,180.3 L643.2,164.8 M636.7,158.3 L621.2,142.8 M614.7,136.3 L599.2,120.8 M592.7,114.3 L577.2,98.8 M570.7,92.3 L555.2,76.8 M548.7,70.3 L533.2,54.8 M526.7,48.3 L511.2,32.8 M504.7,26.3 L489.3,10.8 M482.8,4.3 L467.3,-11.2 M460.8,-17.7 L445.3,-33.2 M438.8,-39.7 L423.3,-55.2 M416.8,-61.7 L401.3,-77.2 M394.8,-83.7 L379.3,-99.2 M372.8,-105.7 L357.3,-121.2 M350.8,-127.7 L335.4,-143.2 M328.9,-149.7 L313.4,-165.2 M306.9,-171.7 L291.4,-187.2" stroke="#d4b0d8" stroke-width="1"/>
<path d="M900.0,363.1 L885.0,348.1 M878.5,341.6 L863.0,326.1 M856.5,319.6 L841.0,304.1 M834.5,297.6 L819.1,282.1 M812.6,275.6 L797.1,260.1 M790.6,253.6 L775.1,238.1 M768.6,231.6 L753.1,216.1 M746.6,209.6 L731.1,194.1 M724.6,187.6 L709.1,172.1 M702.6,165.6 L687.1,150.1 M680.6,143.6 L665.1,128.1 M658.6,121.6 L643.2,106.1 M636.7,99.6 L621.2,84.1 M614.7,77.6 L599.2,62.1 M592.7,55.6 L577.2,40.1 M570.7,33.6 L555.2,18.1 M548.7,11.6 L533.2,-3.9 M526.7,-10.4 L511.2,-25.9 M504.7,-32.4 L489.3,-47.9 M482.8,-54.4 L467.3,-69.9 M460.8,-76.4 L445.3,-91.9 M438.8,-98.4 L423.3,-113.9 M416.8,-120.4 L401.3,-135.9 M394.8,-142.4 L379.3,-157.9 M372.8,-164.4 L357.3,-179.9 M350.8,-186.4 L335.4,-201.9" stroke="#d4b0d8" stroke-width="1"/>
<path d="M900.0,305.8 L885.0,290.8 M878.5,284.3 L863.0,268.8 M856.5,262.3 L841.0,246.8 M834.5,240.3 L819.1,224.8 M812.6,218.3 L797.1,202.8 M790.6,196.3 L775.1,180.8 M768.6,174.3 L753.1,158.8 M746.6,152.3 L731.1,136.8 M724.6,130.3 L709.1,114.8 M702.6,108.3 L687.1,92.8 M680.6,86.3 L665.1,70.8 M658.6,64.3 L643.2,48.8 M636.7,42.3 L621.2,26.8 M614.7,20.3 L599.2,4.8 M592.7,-1.7 L577.2,-17.2 M570.7,-23.7 L555.2,-39.2 M548.7,-45.7 L533.2,-61.2 M526.7,-67.7 L511.2,-83.2 M504.7,-89.7 L489.3,-105.2 M482.8,-111.7 L467.3,-127.2 M460.8,-133.7 L445.3,-149.2 M438.8,-155.7 L423.3,-171.2 M416.8,-177.7 L401.3,-193.2 M394.8,-199.7 L379.3,-215.2" stroke="#d4b0d8" stroke-width="1"/>
<path d="M900.0,250.0 L885.0,235.0 M878.5,228.5 L863.0,213.0 M856.5,206.5 L841.0,191.0 M834.5,184.5 L819.1,169.0 M812.6,162.5 L797.1,147.0 M790.6,140.5 L775.1,125.0 M768.6,118.5 L753.1,103.0 M746.6,96.5 L731.1,81.0 M724.6,74.5 L709.1,59.0 M702.6,52.5 L687.1,37.0 M680.6,30.5 L665.1,15.0 M658.6,8.5 L643.2,-7.0 M636.7,-13.5 L621.2,-29.0 M614.7,-35.5 L599.2,-51.0 M592.7,-57.5 L577.2,-73.0 M570.7,-79.5 L555.2,-95.0 M548.7,-101.5 L533.2,-117.0 M526.7,-123.5 L511.2,-139.0 M504.7,-145.5 L489.3,-161.0 M482.8,-167.5 L467.3,-183.0 M460.8,-189.5 L445.3,-205.0 M438.8,-211.5 L423.3,-227.0" stroke="#d4b0d8" stroke-width="1"/>
<path d="M900.0,195.5 L885.0,180.5 M878.5,174.0 L863.0,158.5 M856.5,152.0 L841.0,136.5 M834.5,130.0 L819.1,114.5 M812.6,108.0 L797.1,92.5 M790.6,86.0 L775.1,70.5 M768.6,64.0 L753.1,48.5 M746.6,42.0 L731.1,26.5 M724.6,20.0 L709.1,4.5 M702.6,-2.0 L687.1,-17.5 M680.6,-24.0 L665.1,-39.5 M658.6,-46.0 L643.2,-61.5 M636.7,-68.0 L621.2,-83.5 M614.7,-90.0 L599.2,-105.5 M592.7,-112.0 L577.2,-127.5 M570.7,-134.0 L555.2,-149.5 M548.7,-156.0 L533.2,-171.5 M526.7,-178.0 L511.2,-193.5 M504.7,-200.0 L489.3,-215.5 M482.8,-222.0 L467.3,-237.5 M460.8,-244.0 L459.7,-245.1" stroke="#d4b0d8" stroke-width="1"/>
<path d="M900.0,142.3 L885.0,127.3 M878.5,120.8 L863.0,105.3 M856.5,98.8 L841.0,83.3 M834.5,76.8 L819.1,61.3 M812.6,54.8 L797.1,39.3 M790.6,32.8 L775.1,17.3 M768.6,10.8 L753.1,-4.7 M746.6,-11.2 L731.1,-26.7 M724.6,-33.2 L709.1,-48.7 M702.6,-55.2 L687.1,-70.7 M680.6,-77.2 L665.1,-92.7 M658.6,-99.2 L643.2,-114.7 M636.7,-121.2 L621.2,-136.7 M614.7,-143.2 L599.2,-158.7 M592.7,-165.2 L577.2,-180.7 M570.7,-187.2 L555.2,-202.7 M548.7,-209.2 L533.2,-224.7 M526.7,-231.2 L511.2,-246.7 M504.7,-253.2 L501.4,-256.6" stroke="#d4b0d8" stroke-width="1"/>
<path d="M900.0,90.3 L885.0,75.3 M878.5,68.8 L863.0,53.3 M856.5,46.8 L841.0,31.3 M834.5,24.8 L819.1,9.3 M812.6,2.8 L797.1,-12.7 M790.6,-19.2 L775.1,-34.7 M768.6,-41.2 L753.1,-56.7 M746.6,-63.2 L731.1,-78.7 M724.6,-85.2 L709.1,-100.7 M702.6,-107.2 L687.1,-122.7 M680.6,-129.2 L665.1,-144.7 M658.6,-151.2 L643.2,-166.7 M636.7,-173.2 L621.2,-188.7 M614.7,-195.2 L599.2,-210.7 M592.7,-217.2 L577.2,-232.7 M570.7,-239.2 L555.2,-254.7 M548.7,-261.2 L542.5,-267.5" stroke="#d4b0d8" stroke-width="1"/>
<path d="M900.0,39.4 L885.0,24.4 M878.5,17.9 L863.0,2.4 M856.5,-4.1 L841.0,-19.6 M834.5,-26.1 L819.1,-41.6 M812.6,-48.1 L797.1,-63.6 M790.6,-70.1 L775.1,-85.6 M768.6,-92.1 L753.1,-107.6 M746.6,-114.1 L731.1,-129.6 M724.6,-136.1 L709.1,-151.6 M702.6,-158.1 L687.1,-173.6 M680.6,-180.1 L665.1,-195.6 M658.6,-202.1 L643.2,-217.6 M636.7,-224.1 L621.2,-239.6 M614.7,-246.1 L599.2,-261.6 M592.7,-268.1 L583.0,-277.8" stroke="#d4b0d8" stroke-width="1"/>
<path d="M900.0,-10.3 L885.0,-25.3 M878.5,-31.8 L863.0,-47.3 M856.5,-53.8 L841.0,-69.3 M834.5,-75.8 L819.1,-91.3 M812.6,-97.8 L797.1,-113.3 M790.6,-119.8 L775.1,-135.3 M768.6,-141.8 L753.1,-157.3 M746.6,-163.8 L731.1,-179.3 M724.6,-185.8 L709.1,-201.3 M702.6,-207.8 L687.1,-223.3 M680.6,-229.8 L665.1,-245.3 M658.6,-251.8 L643.2,-267.3 M636.7,-273.8 L622.9,-287.5" stroke="#d4b0d8" stroke-width="1"/>
<path d="M98.8,751.9 L98.3,751.4 L97.7,750.8 L97.2,750.3 L96.7,749.7 L96.2,749.2 L95.7,748.6 L95.1,748.1 L94.6,747.5 L94.1,746.9 L93.6,746.4 L93.0,745.8 L92.5,745.3 L92.0,744.7 L91.4,744.2 L90.9,743.6 L90.4,743.0 L89.8,742.5 L89.3,741.9 L88.8,741.3 L88.2,740.8 L87.7,740.2 L87.2,739.6 L86.6,739.1 L86.1,738.5 L85.5,737.9 L85.0,737.4 L84.6,736.9 M78.3,730.4 L77.8,729.9 L77.3,729.3 L76.7,728.7 L76.1,728.1 L75.6,727.5 L75.0,727.0 L74.5,726.4 L73.9,725.8 L73.3,725.2 L72.8,724.6 L72.2,724.0 L71.6,723.4 L71.0,722.8 L70.5,722.2 L69.9,721.6 L69.3,721.0 L68.8,720.5 L68.2,719.9 L67.6,719.3 L67.0,718.7 L66.4,718.1 L65.9,717.5 L65.3,716.9 L64.7,716.3 L64.1,715.6 L63.5,715.0 L63.4,714.9 M57.1,708.4 L57.0,708.3 L56.4,707.7 L55.8,707.1 L55.2,706.5 L54.6,705.9 L54.0,705.2 L53.4,704.6 L52.8,704.0 L52.2,703.4 L51.6,702.7 L50.9,702.1 L50.3,701.5 L49.7,700.9 L49.1,700.2 L48.5,699.6 L47.9,699.0 L47.3,698.3 L46.6,697.7 L46.0,697.1 L45.4,696.4 L44.8,695.8 L44.2,695.2 L43.5,694.5 L42.9,693.9 L42.3,693.2 L42.0,692.9 M35.6,686.4 L35.3,686.1 L34.6,685.4 L34.0,684.8 L33.3,684.1 L32.7,683.5 L32.0,682.8 L31.4,682.1 L30.7,681.5 L30.1,680.8 L29.4,680.2 L28.8,679.5 L28.1,678.8 L27.5,678.1 L26.8,677.5 L26.1,676.8 L25.5,676.1 L24.8,675.5 L24.2,674.8 L23.5,674.1 L22.8,673.4 L22.2,672.8 L21.5,672.1 L20.8,671.4 L20.4,670.9 M13.9,664.4 L13.3,663.8 L12.6,663.1 L11.9,662.4 L11.3,661.7 L10.6,661.0 L9.9,660.3 L9.2,659.6 L8.5,658.9 L7.8,658.2 L7.1,657.5 L6.4,656.8 L5.7,656.0 L5.0,655.3 L4.2,654.6 L3.5,653.9 L2.8,653.2 L2.1,652.5 L1.4,651.7 L0.7,651.0 L-0.0,650.3 L-0.8,649.6 L-1.4,648.9 M-7.8,642.4 L-8.0,642.2 L-8.8,641.5 L-9.5,640.7 L-10.2,640.0 L-11.0,639.2 L-11.7,638.5 L-12.5,637.7 L-13.2,637.0 L-14.0,636.2 L-14.7,635.5 L-15.5,634.7 L-16.2,634.0 L-17.0,633.2 L-17.7,632.4 L-18.5,631.7 L-19.3,630.9 L-20.0,630.1 L-20.8,629.4 L-21.5,628.6 L-22.3,627.8 L-23.1,627.0 L-23.2,626.9 M-29.7,620.4 L-30.1,620.0 L-30.9,619.2 L-31.7,618.4 L-32.5,617.6 L-33.3,616.8 L-34.1,616.0 L-34.9,615.2 L-35.7,614.4 L-36.5,613.6 L-37.3,612.8 L-38.1,612.0 L-38.9,611.1 L-39.7,610.3 L-40.5,609.5 L-41.3,608.7 L-42.1,607.9 L-43.0,607.0 L-43.8,606.2 L-44.6,605.4 L-45.1,604.9 M-51.5,598.4 L-52.1,597.8 L-53.0,597.0 L-53.8,596.1 L-54.7,595.3 L-55.5,594.4 L-56.4,593.6 L-57.2,592.7 L-58.1,591.8 L-58.9,591.0 L-59.8,590.1 L-60.7,589.2 L-61.5,588.4 L-62.4,587.5 L-63.3,586.6 L-64.2,585.7 L-65.0,584.8 L-65.9,584.0 L-66.8,583.1 L-67.0,582.9 M-73.4,576.4 L-74.0,575.9 L-74.9,575.0 L-75.8,574.1 L-76.7,573.1 L-77.6,572.2 L-78.5,571.3 L-79.5,570.4 L-80.4,569.4 L-81.3,568.5 L-82.2,567.6 L-83.2,566.7 L-84.1,565.7 L-85.0,564.8 L-86.0,563.8 L-86.9,562.9 L-87.9,561.9 L-88.8,561.0 L-88.9,560.9 M-95.3,554.4 L-95.5,554.2 L-96.5,553.2 L-97.5,552.3 L-98.5,551.3 L-99.4,550.3 L-100.4,549.3 L-101.4,548.3 L-102.4,547.3 L-103.4,546.3 L-104.4,545.3 L-105.4,544.3 L-106.4,543.3 L-107.4,542.3 L-108.4,541.3 L-109.5,540.3 L-110.5,539.2 L-110.8,538.9 M-117.3,532.4 L-117.7,532.0 L-118.8,530.9 L-119.8,529.9 L-120.9,528.8 L-121.9,527.7 L-123.0,526.7 L-124.1,525.6 L-125.1,524.5 L-126.2,523.4 L-127.3,522.4 L-128.4,521.3 L-129.5,520.2 L-130.5,519.1 L-131.6,518.0 L-132.7,516.9 M-139.2,510.4 L-139.4,510.2 L-140.6,509.0 L-141.7,507.9 L-142.8,506.7 L-144.0,505.6 L-145.1,504.4 L-146.3,503.3 L-147.4,502.1 L-148.6,501.0 L-149.8,499.8 L-150.9,498.6 L-152.1,497.4 L-153.3,496.2 L-154.5,495.0 L-154.6,494.9 M-161.1,488.4 L-161.7,487.8 L-162.9,486.6 L-164.2,485.3 L-165.4,484.1 L-166.6,482.8 L-167.9,481.6 L-169.1,480.3 L-170.4,479.1 L-171.7,477.8 L-172.9,476.5 L-174.2,475.2 L-175.5,474.0 L-176.5,472.9 M-183.0,466.4 L-183.3,466.1 L-184.6,464.8 L-186.0,463.4 L-187.3,462.1 L-188.6,460.7 L-190.0,459.4 L-191.4,458.0 L-192.7,456.7 L-194.1,455.3 L-195.5,453.9 L-196.9,452.5 L-198.3,451.1 L-198.4,450.9 M-204.9,444.4 L-205.3,444.0 L-206.8,442.5 L-208.2,441.1 L-209.7,439.6 L-211.2,438.1 L-212.6,436.7 L-214.1,435.2 L-215.6,433.7 L-217.1,432.2 L-218.6,430.7 L-220.1,429.1 L-220.3,428.9 M-226.8,422.4 L-227.8,421.4 L-229.4,419.8 L-231.0,418.2 L-232.6,416.6 L-234.2,415.0 L-235.8,413.4 L-237.4,411.7 L-239.1,410.1 L-240.7,408.4 L-242.2,406.9 M-248.7,400.4 L-249.1,400.0 L-250.9,398.3 L-252.6,396.5 L-254.3,394.8 L-256.1,393.0 L-257.8,391.2 L-259.6,389.5 L-261.4,387.7 L-263.2,385.8 L-264.1,384.9 M-270.6,378.4 L-272.5,376.5 L-274.4,374.6 L-276.3,372.7 L-278.2,370.8 L-280.2,368.8 L-282.1,366.9 L-284.1,364.9 L-286.0,362.9 M-292.5,356.4 L-294.3,354.7 L-296.3,352.6 L-298.4,350.5 L-300.6,348.3 L-302.7,346.2 L-304.9,344.0 L-307.1,341.8 L-307.9,340.9 M-314.4,334.4 L-316.1,332.8 L-318.4,330.4 L-320.7,328.1 L-323.1,325.7 L-325.4,323.3 L-327.8,320.9 L-329.8,318.9 M-336.3,312.4 L-337.8,310.9 L-340.3,308.4 L-342.9,305.8 L-345.5,303.1 L-348.2,300.5 L-350.9,297.8 L-351.7,296.9 M-358.2,290.4 L-359.2,289.4 L-362.1,286.5 L-364.9,283.6 L-367.9,280.7 L-370.9,277.7 L-373.6,274.9 M-380.1,268.4 L-383.2,265.2 L-386.5,262.0 L-389.8,258.7 L-393.1,255.3 L-395.5,252.9 M-402.0,246.4 L-403.5,244.8 L-407.1,241.2 L-410.8,237.5 L-414.6,233.7 L-417.4,230.9 M-423.8,224.4 L-426.4,221.9 L-430.5,217.7 L-434.7,213.5 L-439.0,209.1 L-439.2,208.9 M-445.7,202.4 L-448.1,200.0 L-452.8,195.3 L-457.6,190.4 L-461.1,186.9 M-467.6,180.4 L-467.8,180.2 L-473.1,174.8" stroke="#c98890" stroke-width="1"/>
<path d="M187.7,745.2 L187.2,744.6 L186.7,744.1 L186.2,743.5 L185.7,742.9 L185.2,742.3 L184.7,741.7 L184.2,741.2 L183.7,740.6 L183.2,740.0 L182.6,739.4 L182.1,738.8 L181.6,738.3 L181.1,737.7 L180.6,737.1 L180.0,736.5 L179.5,735.9 L179.0,735.3 L178.5,734.7 L178.0,734.1 L177.4,733.5 L176.9,733.0 L176.4,732.4 L175.8,731.8 L175.3,731.2 L174.8,730.6 L174.4,730.2 M168.6,723.7 L168.3,723.4 L167.7,722.8 L167.2,722.1 L166.6,721.5 L166.1,720.9 L165.5,720.3 L164.9,719.7 L164.4,719.1 L163.8,718.5 L163.3,717.9 L162.7,717.2 L162.1,716.6 L161.6,716.0 L161.0,715.4 L160.4,714.8 L159.9,714.1 L159.3,713.5 L158.7,712.9 L158.1,712.3 L157.6,711.7 L157.0,711.0 L156.4,710.4 L155.8,709.8 L155.3,709.1 L154.7,708.5 L154.4,708.2 M148.4,701.7 L148.2,701.5 L147.6,700.9 L147.0,700.2 L146.4,699.6 L145.8,698.9 L145.2,698.3 L144.6,697.6 L143.9,697.0 L143.3,696.3 L142.7,695.7 L142.1,695.0 L141.5,694.4 L140.9,693.7 L140.3,693.1 L139.6,692.4 L139.0,691.8 L138.4,691.1 L137.8,690.4 L137.2,689.8 L136.5,689.1 L135.9,688.5 L135.3,687.8 L134.6,687.1 L134.0,686.5 L133.8,686.2 M127.6,679.7 L127.0,679.1 L126.3,678.4 L125.7,677.7 L125.0,677.0 L124.4,676.3 L123.7,675.6 L123.0,674.9 L122.4,674.3 L121.7,673.6 L121.1,672.9 L120.4,672.2 L119.7,671.5 L119.1,670.8 L118.4,670.1 L117.7,669.4 L117.0,668.7 L116.4,668.0 L115.7,667.3 L115.0,666.6 L114.3,665.9 L113.7,665.2 L113.0,664.5 L112.7,664.2 M106.4,657.7 L106.1,657.3 L105.4,656.6 L104.7,655.9 L104.0,655.2 L103.3,654.5 L102.6,653.7 L101.9,653.0 L101.2,652.3 L100.4,651.5 L99.7,650.8 L99.0,650.1 L98.3,649.3 L97.6,648.6 L96.9,647.9 L96.1,647.1 L95.4,646.4 L94.7,645.6 L94.0,644.9 L93.2,644.1 L92.5,643.4 L91.8,642.6 L91.4,642.2 M85.0,635.7 L84.4,635.1 L83.6,634.3 L82.9,633.5 L82.1,632.7 L81.3,632.0 L80.6,631.2 L79.8,630.4 L79.1,629.6 L78.3,628.9 L77.5,628.1 L76.8,627.3 L76.0,626.5 L75.2,625.7 L74.4,624.9 L73.7,624.2 L72.9,623.4 L72.1,622.6 L71.3,621.8 L70.6,621.0 L69.8,620.2 M63.4,613.7 L62.6,612.9 L61.8,612.1 L61.0,611.3 L60.2,610.5 L59.4,609.6 L58.6,608.8 L57.7,608.0 L56.9,607.2 L56.1,606.3 L55.3,605.5 L54.5,604.7 L53.6,603.8 L52.8,603.0 L52.0,602.2 L51.1,601.3 L50.3,600.5 L49.5,599.6 L48.6,598.8 L48.1,598.2 M41.6,591.7 L41.0,591.0 L40.1,590.2 L39.3,589.3 L38.4,588.4 L37.5,587.5 L36.6,586.7 L35.8,585.8 L34.9,584.9 L34.0,584.0 L33.1,583.1 L32.3,582.2 L31.4,581.3 L30.5,580.5 L29.6,579.6 L28.7,578.7 L27.8,577.8 L26.9,576.8 L26.3,576.2 M19.8,569.7 L19.6,569.5 L18.7,568.6 L17.8,567.7 L16.9,566.7 L15.9,565.8 L15.0,564.9 L14.1,563.9 L13.1,563.0 L12.2,562.0 L11.2,561.1 L10.3,560.1 L9.3,559.2 L8.4,558.2 L7.4,557.2 L6.5,556.3 L5.5,555.3 L4.6,554.3 L4.4,554.2 M-2.0,547.7 L-2.3,547.5 L-3.3,546.5 L-4.2,545.5 L-5.2,544.5 L-6.2,543.5 L-7.2,542.5 L-8.2,541.5 L-9.2,540.5 L-10.3,539.5 L-11.3,538.4 L-12.3,537.4 L-13.3,536.4 L-14.3,535.4 L-15.4,534.3 L-16.4,533.3 L-17.4,532.3 L-17.5,532.2 M-23.9,525.7 L-24.7,524.9 L-25.8,523.8 L-26.9,522.8 L-27.9,521.7 L-29.0,520.6 L-30.1,519.5 L-31.2,518.5 L-32.2,517.4 L-33.3,516.3 L-34.4,515.2 L-35.5,514.1 L-36.6,513.0 L-37.7,511.9 L-38.8,510.8 L-39.4,510.2 M-45.8,503.7 L-46.7,502.9 L-47.8,501.7 L-49.0,500.6 L-50.1,499.4 L-51.3,498.3 L-52.4,497.1 L-53.6,495.9 L-54.8,494.7 L-55.9,493.6 L-57.1,492.4 L-58.3,491.2 L-59.5,490.0 L-60.7,488.8 L-61.3,488.2 M-67.8,481.7 L-67.9,481.5 L-69.1,480.3 L-70.4,479.1 L-71.6,477.8 L-72.8,476.6 L-74.1,475.3 L-75.3,474.1 L-76.6,472.8 L-77.9,471.6 L-79.1,470.3 L-80.4,469.0 L-81.7,467.7 L-83.0,466.4 L-83.2,466.2 M-89.7,459.7 L-90.8,458.6 L-92.1,457.2 L-93.5,455.9 L-94.8,454.6 L-96.1,453.2 L-97.5,451.9 L-98.8,450.5 L-100.2,449.1 L-101.6,447.8 L-103.0,446.4 L-104.3,445.0 L-105.1,444.2 M-111.6,437.7 L-112.8,436.5 L-114.2,435.1 L-115.7,433.6 L-117.1,432.1 L-118.6,430.7 L-120.0,429.2 L-121.5,427.7 L-123.0,426.2 L-124.5,424.8 L-126.0,423.3 L-127.0,422.2 M-133.5,415.7 L-133.6,415.6 L-135.1,414.1 L-136.7,412.5 L-138.3,410.9 L-139.8,409.3 L-141.4,407.7 L-143.0,406.1 L-144.6,404.5 L-146.2,402.9 L-147.9,401.3 L-148.9,400.2 M-155.4,393.7 L-156.2,393.0 L-157.8,391.3 L-159.5,389.6 L-161.2,387.8 L-163.0,386.1 L-164.7,384.4 L-166.4,382.6 L-168.2,380.9 L-170.0,379.1 L-170.8,378.2 M-177.3,371.7 L-179.0,370.0 L-180.9,368.2 L-182.7,366.3 L-184.6,364.4 L-186.5,362.5 L-188.4,360.6 L-190.3,358.7 L-192.2,356.7 L-192.7,356.2 M-199.2,349.7 L-200.1,348.8 L-202.1,346.8 L-204.2,344.7 L-206.2,342.7 L-208.3,340.6 L-210.4,338.5 L-212.5,336.4 L-214.6,334.3 L-214.6,334.2 M-221.1,327.7 L-223.3,325.5 L-225.5,323.3 L-227.7,321.1 L-230.0,318.8 L-232.3,316.5 L-234.6,314.2 L-236.5,312.2 M-243.0,305.7 L-244.1,304.6 L-246.5,302.2 L-249.0,299.7 L-251.5,297.2 L-254.0,294.7 L-256.6,292.1 L-258.4,290.2 M-264.9,283.7 L-267.1,281.6 L-269.8,278.8 L-272.5,276.1 L-275.3,273.3 L-278.1,270.5 L-280.3,268.2 M-286.8,261.7 L-289.8,258.7 L-292.8,255.7 L-295.8,252.6 L-298.9,249.5 L-302.1,246.3 L-302.2,246.2 M-308.7,239.7 L-311.9,236.5 L-315.3,233.1 L-318.7,229.6 L-322.2,226.1 L-324.1,224.2 M-330.6,217.7 L-333.1,215.2 L-336.9,211.4 L-340.7,207.5 L-344.6,203.6 L-346.0,202.2 M-352.5,195.7 L-352.8,195.4 L-357.0,191.2 L-361.3,186.8 L-365.7,182.4 L-367.9,180.2 M-374.3,173.7 L-374.9,173.2 L-379.6,168.4 L-384.6,163.4 L-389.6,158.3 L-389.7,158.2 M-396.2,151.7 L-400.2,147.6 L-405.8,142.0" stroke="#c98890" stroke-width="1"/>
<path d="M274.7,740.4 L274.3,739.8 L273.8,739.2 L273.4,738.6 L272.9,738.0 L272.4,737.4 L272.0,736.8 L271.5,736.2 L271.1,735.6 L270.6,735.0 L270.1,734.4 L269.7,733.8 L269.2,733.2 L268.7,732.5 L268.3,731.9 L267.8,731.3 L267.3,730.7 L266.8,730.1 L266.4,729.5 L265.9,728.9 L265.4,728.2 L264.9,727.6 L264.4,727.0 L264.0,726.4 L263.5,725.8 L263.2,725.4 M258.1,718.9 L258.0,718.9 L257.5,718.2 L257.0,717.6 L256.5,716.9 L256.0,716.3 L255.4,715.7 L254.9,715.0 L254.4,714.4 L253.9,713.8 L253.4,713.1 L252.8,712.5 L252.3,711.8 L251.8,711.2 L251.3,710.5 L250.7,709.9 L250.2,709.2 L249.7,708.6 L249.1,707.9 L248.6,707.3 L248.0,706.6 L247.5,706.0 L247.0,705.3 L246.4,704.7 L245.9,704.0 L245.4,703.4 M239.9,696.9 L239.7,696.7 L239.2,696.1 L238.6,695.4 L238.0,694.7 L237.5,694.0 L236.9,693.4 L236.3,692.7 L235.7,692.0 L235.1,691.3 L234.6,690.7 L234.0,690.0 L233.4,689.3 L232.8,688.6 L232.2,687.9 L231.6,687.3 L231.0,686.6 L230.4,685.9 L229.8,685.2 L229.2,684.5 L228.6,683.8 L228.0,683.1 L227.4,682.4 L226.8,681.7 L226.5,681.4 M220.8,674.9 L220.6,674.7 L220.0,674.0 L219.4,673.3 L218.7,672.6 L218.1,671.9 L217.5,671.2 L216.8,670.5 L216.2,669.8 L215.5,669.0 L214.9,668.3 L214.2,667.6 L213.6,666.9 L212.9,666.2 L212.3,665.4 L211.6,664.7 L211.0,664.0 L210.3,663.3 L209.7,662.5 L209.0,661.8 L208.3,661.1 L207.7,660.3 L207.0,659.6 L206.8,659.4 M200.9,652.9 L200.2,652.2 L199.5,651.5 L198.8,650.7 L198.1,650.0 L197.4,649.2 L196.7,648.4 L196.0,647.7 L195.3,646.9 L194.6,646.2 L193.9,645.4 L193.2,644.6 L192.5,643.9 L191.8,643.1 L191.1,642.4 L190.4,641.6 L189.6,640.8 L188.9,640.0 L188.2,639.3 L187.5,638.5 L186.7,637.7 L186.5,637.4 M180.3,630.9 L180.1,630.7 L179.4,629.9 L178.6,629.1 L177.8,628.3 L177.1,627.5 L176.3,626.7 L175.6,625.9 L174.8,625.1 L174.1,624.3 L173.3,623.5 L172.5,622.7 L171.7,621.9 L171.0,621.1 L170.2,620.2 L169.4,619.4 L168.6,618.6 L167.9,617.8 L167.1,617.0 L166.3,616.2 L165.6,615.4 M159.4,608.9 L159.1,608.7 L158.3,607.8 L157.5,607.0 L156.7,606.2 L155.9,605.3 L155.1,604.5 L154.2,603.6 L153.4,602.8 L152.6,601.9 L151.8,601.1 L150.9,600.2 L150.1,599.3 L149.3,598.5 L148.4,597.6 L147.6,596.8 L146.7,595.9 L145.9,595.0 L145.1,594.1 L144.4,593.4 M138.0,586.9 L137.3,586.2 L136.5,585.3 L135.6,584.4 L134.7,583.5 L133.8,582.6 L133.0,581.7 L132.1,580.8 L131.2,579.9 L130.3,579.0 L129.4,578.1 L128.5,577.2 L127.6,576.3 L126.7,575.3 L125.8,574.4 L124.9,573.5 L124.0,572.6 L123.1,571.7 L122.9,571.4 M116.5,564.9 L115.7,564.1 L114.8,563.2 L113.8,562.2 L112.9,561.3 L112.0,560.3 L111.0,559.4 L110.1,558.4 L109.1,557.4 L108.2,556.5 L107.2,555.5 L106.2,554.5 L105.3,553.6 L104.3,552.6 L103.3,551.6 L102.4,550.6 L101.4,549.6 L101.2,549.4 M94.8,542.9 L94.5,542.6 L93.5,541.6 L92.5,540.6 L91.5,539.6 L90.5,538.6 L89.5,537.5 L88.4,536.5 L87.4,535.5 L86.4,534.5 L85.4,533.4 L84.4,532.4 L83.3,531.3 L82.3,530.3 L81.2,529.3 L80.2,528.2 L79.4,527.4 M73.0,520.9 L72.8,520.8 L71.7,519.7 L70.7,518.6 L69.6,517.5 L68.5,516.4 L67.4,515.3 L66.3,514.2 L65.2,513.1 L64.1,512.0 L63.0,510.9 L61.9,509.8 L60.8,508.7 L59.7,507.6 L58.6,506.4 L57.6,505.4 M51.1,498.9 L50.7,498.5 L49.5,497.3 L48.4,496.2 L47.2,495.0 L46.1,493.8 L44.9,492.7 L43.7,491.5 L42.6,490.3 L41.4,489.1 L40.2,487.9 L39.0,486.7 L37.8,485.5 L36.6,484.3 L35.7,483.4 M29.3,476.9 L28.1,475.8 L26.9,474.6 L25.7,473.3 L24.4,472.1 L23.2,470.8 L21.9,469.6 L20.7,468.3 L19.4,467.0 L18.1,465.7 L16.8,464.5 L15.6,463.2 L14.3,461.9 L13.8,461.4 M7.3,454.9 L6.4,454.0 L5.1,452.7 L3.8,451.4 L2.5,450.0 L1.1,448.7 L-0.2,447.3 L-1.6,445.9 L-3.0,444.6 L-4.3,443.2 L-5.7,441.8 L-7.1,440.4 L-8.1,439.4 M-14.6,432.9 L-15.5,432.0 L-16.9,430.6 L-18.4,429.1 L-19.8,427.7 L-21.2,426.2 L-22.7,424.8 L-24.2,423.3 L-25.6,421.8 L-27.1,420.3 L-28.6,418.8 L-30.0,417.4 M-36.5,410.9 L-37.7,409.7 L-39.2,408.2 L-40.8,406.6 L-42.3,405.1 L-43.9,403.5 L-45.4,401.9 L-47.0,400.3 L-48.6,398.7 L-50.2,397.1 L-51.8,395.5 L-51.9,395.4 M-58.4,388.9 L-60.0,387.3 L-61.7,385.6 L-63.4,383.9 L-65.1,382.2 L-66.8,380.5 L-68.5,378.8 L-70.2,377.1 L-71.9,375.3 L-73.7,373.6 L-73.8,373.4 M-80.3,366.9 L-80.8,366.5 L-82.6,364.7 L-84.4,362.8 L-86.2,361.0 L-88.0,359.2 L-89.9,357.3 L-91.7,355.4 L-93.6,353.6 L-95.5,351.7 L-95.7,351.4 M-102.2,344.9 L-103.2,343.9 L-105.2,342.0 L-107.1,340.0 L-109.1,338.0 L-111.1,336.0 L-113.2,333.9 L-115.2,331.9 L-117.3,329.8 L-117.6,329.4 M-124.1,322.9 L-125.6,321.4 L-127.8,319.2 L-130.0,317.1 L-132.1,314.9 L-134.3,312.7 L-136.5,310.4 L-138.8,308.2 L-139.6,307.4 M-146.0,300.9 L-148.0,299.0 L-150.3,296.6 L-152.7,294.3 L-155.1,291.9 L-157.5,289.4 L-159.9,287.0 L-161.5,285.4 M-167.9,278.9 L-169.9,276.9 L-172.5,274.3 L-175.1,271.7 L-177.8,269.0 L-180.4,266.4 L-183.1,263.7 L-183.4,263.4 M-189.8,256.9 L-191.4,255.3 L-194.2,252.5 L-197.1,249.6 L-200.0,246.7 L-203.0,243.7 L-205.3,241.4 M-211.7,234.9 L-212.0,234.6 L-215.1,231.5 L-218.3,228.3 L-221.5,225.1 L-224.8,221.8 L-227.1,219.4 M-233.6,212.9 L-234.8,211.7 L-238.3,208.2 L-241.8,204.7 L-245.4,201.1 L-249.0,197.4 M-255.5,190.9 L-256.6,189.8 L-260.5,185.9 L-264.4,182.0 L-268.4,177.9 L-270.9,175.4 M-277.4,168.9 L-281.0,165.2 L-285.4,160.8 L-289.9,156.3 L-292.8,153.4 M-299.3,146.9 L-299.3,146.9 L-304.2,142.0 L-309.2,137.0 L-314.3,131.8 L-314.7,131.4 M-321.1,124.9 L-325.1,121.0 L-330.7,115.3 L-336.5,109.4" stroke="#c98890" stroke-width="1"/>
<path d="M359.9,737.4 L359.6,736.8 L359.2,736.2 L358.9,735.5 L358.5,734.9 L358.2,734.3 L357.8,733.7 L357.4,733.0 L357.1,732.4 L356.7,731.8 L356.3,731.1 L356.0,730.5 L355.6,729.9 L355.2,729.2 L354.9,728.6 L354.5,727.9 L354.1,727.3 L353.7,726.7 L353.3,726.0 L353.0,725.4 L352.6,724.7 L352.2,724.1 L351.8,723.4 L351.4,722.8 L351.2,722.4 M347.2,715.9 L347.0,715.6 L346.6,714.9 L346.1,714.3 L345.7,713.6 L345.3,713.0 L344.9,712.3 L344.5,711.6 L344.0,711.0 L343.6,710.3 L343.2,709.6 L342.7,709.0 L342.3,708.3 L341.9,707.6 L341.4,706.9 L341.0,706.3 L340.5,705.6 L340.1,704.9 L339.7,704.2 L339.2,703.6 L338.8,702.9 L338.3,702.2 L337.8,701.5 L337.4,700.8 L337.1,700.4 M332.7,693.9 L332.7,693.9 L332.2,693.2 L331.7,692.5 L331.2,691.8 L330.7,691.1 L330.2,690.4 L329.8,689.7 L329.3,689.0 L328.8,688.3 L328.3,687.6 L327.8,686.9 L327.3,686.2 L326.7,685.5 L326.2,684.8 L325.7,684.0 L325.2,683.3 L324.7,682.6 L324.2,681.9 L323.6,681.2 L323.1,680.5 L322.6,679.7 L322.1,679.0 L321.6,678.4 M316.8,671.9 L316.6,671.7 L316.1,671.0 L315.5,670.3 L315.0,669.5 L314.4,668.8 L313.8,668.0 L313.3,667.3 L312.7,666.5 L312.1,665.8 L311.6,665.0 L311.0,664.3 L310.4,663.5 L309.8,662.8 L309.2,662.0 L308.6,661.3 L308.1,660.5 L307.5,659.8 L306.9,659.0 L306.3,658.3 L305.7,657.5 L305.1,656.7 L304.8,656.4 M299.6,649.9 L299.5,649.8 L298.9,649.0 L298.2,648.2 L297.6,647.5 L297.0,646.7 L296.3,645.9 L295.7,645.1 L295.0,644.3 L294.4,643.5 L293.7,642.7 L293.1,641.9 L292.4,641.2 L291.8,640.4 L291.1,639.6 L290.5,638.8 L289.8,638.0 L289.1,637.2 L288.4,636.4 L287.8,635.6 L287.1,634.8 L286.8,634.4 M281.3,627.9 L280.9,627.4 L280.2,626.6 L279.4,625.8 L278.7,625.0 L278.0,624.1 L277.3,623.3 L276.6,622.5 L275.9,621.6 L275.1,620.8 L274.4,620.0 L273.7,619.1 L272.9,618.3 L272.2,617.4 L271.5,616.6 L270.7,615.8 L270.0,614.9 L269.2,614.1 L268.5,613.2 L267.8,612.4 M262.0,605.9 L261.6,605.5 L260.8,604.6 L260.0,603.7 L259.2,602.9 L258.5,602.0 L257.7,601.1 L256.9,600.2 L256.1,599.3 L255.3,598.5 L254.5,597.6 L253.7,596.7 L252.9,595.8 L252.0,594.9 L251.2,594.0 L250.4,593.1 L249.6,592.2 L248.8,591.3 L247.9,590.4 L247.9,590.4 M241.9,583.9 L241.2,583.1 L240.4,582.2 L239.5,581.3 L238.6,580.4 L237.8,579.4 L236.9,578.5 L236.0,577.6 L235.2,576.6 L234.3,575.7 L233.4,574.8 L232.5,573.8 L231.6,572.9 L230.7,571.9 L229.9,571.0 L229.0,570.0 L228.1,569.1 L227.4,568.4 M221.3,561.9 L220.8,561.4 L219.8,560.4 L218.9,559.4 L218.0,558.5 L217.0,557.5 L216.1,556.5 L215.2,555.5 L214.2,554.5 L213.3,553.5 L212.3,552.5 L211.3,551.5 L210.4,550.5 L209.4,549.5 L208.5,548.5 L207.5,547.5 L206.5,546.5 L206.4,546.4 M200.2,539.9 L199.6,539.3 L198.6,538.3 L197.6,537.3 L196.6,536.2 L195.6,535.2 L194.6,534.1 L193.5,533.1 L192.5,532.0 L191.5,531.0 L190.5,529.9 L189.4,528.8 L188.4,527.8 L187.4,526.7 L186.3,525.6 L185.3,524.6 L185.1,524.4 M178.8,517.9 L177.8,517.0 L176.8,515.9 L175.7,514.8 L174.6,513.6 L173.5,512.5 L172.4,511.4 L171.3,510.3 L170.2,509.2 L169.1,508.1 L168.0,506.9 L166.9,505.8 L165.8,504.7 L164.7,503.5 L163.6,502.4 M157.2,495.9 L156.7,495.4 L155.5,494.3 L154.4,493.1 L153.2,491.9 L152.1,490.7 L150.9,489.5 L149.7,488.4 L148.5,487.2 L147.3,486.0 L146.2,484.8 L145.0,483.5 L143.8,482.3 L142.6,481.1 L141.9,480.4 M135.4,473.9 L135.2,473.7 L134.0,472.5 L132.8,471.2 L131.5,470.0 L130.3,468.7 L129.0,467.4 L127.8,466.2 L126.5,464.9 L125.2,463.6 L123.9,462.3 L122.7,461.0 L121.4,459.7 L120.1,458.4 L120.1,458.4 M113.6,451.9 L113.5,451.9 L112.2,450.5 L110.9,449.2 L109.6,447.8 L108.2,446.5 L106.9,445.1 L105.5,443.8 L104.2,442.4 L102.8,441.0 L101.4,439.7 L100.1,438.3 L98.7,436.9 L98.2,436.4 M91.7,429.9 L91.7,429.8 L90.2,428.4 L88.8,427.0 L87.4,425.5 L85.9,424.1 L84.5,422.6 L83.0,421.2 L81.6,419.7 L80.1,418.2 L78.6,416.8 L77.2,415.3 L76.3,414.4 M69.9,407.9 L69.6,407.7 L68.1,406.2 L66.6,404.6 L65.0,403.1 L63.5,401.5 L61.9,400.0 L60.4,398.4 L58.8,396.8 L57.2,395.2 L55.6,393.6 L54.4,392.4 M47.9,385.9 L47.5,385.5 L45.9,383.9 L44.3,382.2 L42.6,380.5 L40.9,378.9 L39.2,377.2 L37.6,375.5 L35.9,373.8 L34.1,372.1 L32.5,370.4 M26.0,363.9 L25.4,363.3 L23.7,361.6 L21.9,359.8 L20.1,358.0 L18.3,356.1 L16.5,354.3 L14.6,352.5 L12.8,350.6 L11.0,348.8 L10.6,348.4 M4.1,341.9 L3.4,341.2 L1.5,339.3 L-0.4,337.4 L-2.4,335.4 L-4.3,333.5 L-6.3,331.5 L-8.3,329.5 L-10.3,327.5 L-11.3,326.4 M-17.8,319.9 L-18.4,319.3 L-20.5,317.2 L-22.6,315.1 L-24.7,313.0 L-26.8,310.9 L-28.9,308.7 L-31.1,306.6 L-33.2,304.4 M-39.7,297.9 L-39.9,297.7 L-42.1,295.5 L-44.4,293.2 L-46.7,290.9 L-49.0,288.6 L-51.3,286.2 L-53.7,283.9 L-55.1,282.4 M-61.6,275.9 L-63.3,274.2 L-65.8,271.8 L-68.2,269.3 L-70.8,266.7 L-73.3,264.2 L-75.9,261.6 L-77.0,260.4 M-83.5,253.9 L-83.7,253.7 L-86.4,251.0 L-89.1,248.3 L-91.8,245.6 L-94.6,242.8 L-97.4,240.0 L-99.0,238.4 M-105.4,231.9 L-106.0,231.4 L-108.9,228.4 L-111.9,225.4 L-114.9,222.4 L-117.9,219.4 L-120.9,216.4 M-127.3,209.9 L-130.5,206.7 L-133.8,203.4 L-137.1,200.1 L-140.5,196.7 L-142.8,194.4 M-149.2,187.9 L-150.9,186.2 L-154.5,182.6 L-158.1,179.0 L-161.8,175.3 L-164.6,172.4 M-171.1,165.9 L-173.3,163.7 L-177.3,159.7 L-181.4,155.6 L-185.5,151.5 L-186.5,150.4 M-193.0,143.9 L-194.0,142.9 L-198.4,138.4 L-203.0,133.9 L-207.6,129.3 L-208.4,128.4 M-214.9,121.9 L-217.1,119.7 L-222.1,114.7 L-227.2,109.5 L-230.3,106.4 M-236.8,99.9 L-237.8,98.8 L-243.4,93.2 L-249.1,87.5 L-252.2,84.4 M-258.6,77.9 L-261.2,75.4" stroke="#c98890" stroke-width="1"/>
<path d="M443.5,736.1 L443.3,735.4 L443.1,734.8 L442.8,734.1 L442.6,733.5 L442.4,732.8 L442.2,732.2 L442.0,731.5 L441.7,730.9 L441.5,730.2 L441.3,729.6 L441.1,728.9 L440.8,728.2 L440.6,727.6 L440.4,726.9 L440.1,726.3 L439.9,725.6 L439.7,724.9 L439.4,724.3 L439.2,723.6 L438.9,723.0 L438.7,722.3 L438.4,721.6 L438.2,721.1 M435.8,714.6 L435.6,714.2 L435.4,713.5 L435.1,712.8 L434.8,712.1 L434.5,711.4 L434.3,710.8 L434.0,710.1 L433.7,709.4 L433.4,708.7 L433.2,708.0 L432.9,707.3 L432.6,706.6 L432.3,705.9 L432.0,705.2 L431.7,704.5 L431.4,703.8 L431.1,703.1 L430.8,702.4 L430.5,701.7 L430.2,701.0 L429.9,700.3 L429.6,699.6 L429.4,699.1 M426.5,692.6 L426.5,692.4 L426.1,691.7 L425.8,691.0 L425.5,690.2 L425.1,689.5 L424.8,688.8 L424.4,688.0 L424.1,687.3 L423.8,686.6 L423.4,685.8 L423.1,685.1 L422.7,684.4 L422.3,683.6 L422.0,682.9 L421.6,682.2 L421.3,681.4 L420.9,680.7 L420.5,679.9 L420.2,679.2 L419.8,678.4 L419.4,677.7 L419.1,677.1 M415.8,670.6 L415.5,670.1 L415.1,669.3 L414.7,668.6 L414.3,667.8 L413.9,667.0 L413.5,666.2 L413.1,665.5 L412.7,664.7 L412.3,663.9 L411.8,663.1 L411.4,662.4 L411.0,661.6 L410.5,660.8 L410.1,660.0 L409.7,659.2 L409.2,658.4 L408.8,657.6 L408.3,656.8 L407.9,656.1 L407.4,655.3 L407.3,655.1 M403.5,648.6 L403.2,648.0 L402.8,647.2 L402.3,646.4 L401.8,645.6 L401.3,644.8 L400.8,644.0 L400.3,643.1 L399.8,642.3 L399.3,641.5 L398.8,640.7 L398.3,639.8 L397.8,639.0 L397.2,638.2 L396.7,637.3 L396.2,636.5 L395.7,635.7 L395.1,634.8 L394.6,634.0 L394.1,633.2 L394.0,633.1 M389.8,626.6 L389.6,626.4 L389.1,625.5 L388.5,624.7 L387.9,623.8 L387.4,622.9 L386.8,622.1 L386.2,621.2 L385.6,620.3 L385.0,619.5 L384.4,618.6 L383.8,617.7 L383.2,616.8 L382.6,616.0 L382.0,615.1 L381.4,614.2 L380.8,613.3 L380.1,612.4 L379.5,611.5 L379.2,611.1 M374.5,604.6 L374.4,604.4 L373.7,603.5 L373.0,602.6 L372.4,601.7 L371.7,600.7 L371.0,599.8 L370.3,598.9 L369.7,598.0 L369.0,597.1 L368.3,596.2 L367.6,595.2 L366.9,594.3 L366.2,593.4 L365.5,592.4 L364.8,591.5 L364.1,590.6 L363.3,589.6 L362.9,589.1 M357.8,582.6 L357.4,582.1 L356.7,581.1 L355.9,580.1 L355.2,579.2 L354.4,578.2 L353.6,577.3 L352.8,576.3 L352.1,575.3 L351.3,574.3 L350.5,573.4 L349.7,572.4 L348.9,571.4 L348.1,570.4 L347.3,569.4 L346.5,568.5 L345.7,567.5 L345.3,567.1 M339.9,560.6 L339.8,560.5 L339.0,559.5 L338.1,558.4 L337.3,557.4 L336.4,556.4 L335.5,555.4 L334.7,554.4 L333.8,553.3 L332.9,552.3 L332.0,551.3 L331.1,550.2 L330.2,549.2 L329.3,548.2 L328.4,547.1 L327.5,546.1 L326.6,545.1 M320.9,538.6 L320.1,537.6 L319.1,536.6 L318.2,535.5 L317.2,534.4 L316.3,533.3 L315.3,532.2 L314.3,531.2 L313.4,530.1 L312.4,529.0 L311.4,527.9 L310.4,526.8 L309.4,525.7 L308.4,524.6 L307.4,523.5 L307.0,523.1 M301.1,516.6 L300.2,515.6 L299.2,514.5 L298.1,513.4 L297.1,512.2 L296.0,511.1 L295.0,509.9 L293.9,508.8 L292.8,507.6 L291.8,506.5 L290.7,505.3 L289.6,504.2 L288.5,503.0 L287.4,501.8 L286.7,501.1 M280.6,494.6 L279.6,493.5 L278.5,492.3 L277.3,491.1 L276.2,489.9 L275.0,488.7 L273.9,487.5 L272.7,486.3 L271.5,485.1 L270.4,483.8 L269.2,482.6 L268.0,481.4 L266.8,480.1 L265.8,479.1 M259.6,472.6 L258.4,471.3 L257.1,470.0 L255.9,468.8 L254.7,467.5 L253.4,466.2 L252.2,464.9 L250.9,463.6 L249.6,462.3 L248.4,461.0 L247.1,459.7 L245.8,458.4 L244.5,457.1 M238.2,450.6 L238.0,450.4 L236.7,449.0 L235.4,447.7 L234.1,446.3 L232.7,444.9 L231.4,443.6 L230.0,442.2 L228.7,440.8 L227.3,439.4 L225.9,438.0 L224.6,436.6 L223.2,435.2 L223.0,435.1 M216.6,428.6 L216.2,428.1 L214.8,426.7 L213.4,425.2 L211.9,423.8 L210.5,422.3 L209.0,420.8 L207.6,419.4 L206.1,417.9 L204.7,416.4 L203.2,414.9 L201.7,413.4 L201.3,413.1 M194.9,406.6 L194.2,405.8 L192.7,404.3 L191.2,402.8 L189.6,401.2 L188.1,399.6 L186.5,398.1 L185.0,396.5 L183.4,394.9 L181.8,393.3 L180.2,391.7 L179.6,391.1 M173.1,384.6 L172.2,383.6 L170.6,382.0 L168.9,380.3 L167.3,378.7 L165.6,377.0 L163.9,375.3 L162.3,373.6 L160.6,371.9 L158.9,370.2 L157.7,369.1 M151.2,362.6 L150.2,361.6 L148.5,359.8 L146.7,358.0 L145.0,356.2 L143.2,354.4 L141.4,352.6 L139.6,350.8 L137.8,349.0 L135.9,347.2 L135.8,347.1 M129.4,340.6 L128.5,339.7 L126.6,337.8 L124.7,335.9 L122.8,334.0 L120.9,332.1 L119.0,330.1 L117.0,328.2 L115.1,326.2 L113.9,325.1 M107.4,318.6 L107.1,318.2 L105.1,316.2 L103.0,314.1 L101.0,312.1 L98.9,310.0 L96.8,307.9 L94.8,305.8 L92.6,303.7 L92.0,303.1 M85.5,296.6 L84.0,295.0 L81.8,292.8 L79.6,290.6 L77.4,288.4 L75.2,286.1 L72.9,283.9 L70.6,281.6 L70.1,281.1 M63.6,274.6 L61.3,272.2 L58.9,269.9 L56.5,267.4 L54.1,265.0 L51.7,262.6 L49.2,260.1 L48.2,259.1 M41.7,252.6 L41.7,252.5 L39.2,250.0 L36.6,247.4 L34.0,244.8 L31.3,242.1 L28.7,239.5 L26.3,237.1 M19.8,230.6 L17.8,228.5 L15.0,225.7 L12.2,222.9 L9.3,220.0 L6.4,217.1 L4.4,215.1 M-2.1,208.6 L-2.4,208.2 L-5.5,205.2 L-8.5,202.1 L-11.6,199.0 L-14.8,195.8 L-17.5,193.1 M-24.0,186.6 L-24.5,186.1 L-27.8,182.8 L-31.1,179.4 L-34.5,176.0 L-38.0,172.5 L-39.4,171.1 M-45.9,164.6 L-48.6,161.8 L-52.3,158.1 L-56.0,154.4 L-59.8,150.6 L-61.3,149.1 M-67.8,142.6 L-71.6,138.8 L-75.6,134.7 L-79.8,130.6 L-83.2,127.1 M-89.7,120.6 L-92.6,117.6 L-97.1,113.1 L-101.7,108.5 L-105.1,105.1 M-111.6,98.6 L-116.0,94.2 L-121.0,89.1 L-126.1,84.0 L-127.0,83.1 M-133.5,76.6 L-136.7,73.3 L-142.3,67.7 L-148.0,62.0 L-148.9,61.1 M-155.4,54.6 L-159.9,50.0 L-166.2,43.7 L-170.8,39.1" stroke="#c98890" stroke-width="1"/>
<path d="M525.5,736.2 L525.5,735.6 L525.4,734.9 L525.3,734.2 L525.3,733.6 L525.2,732.9 L525.1,732.2 L525.1,731.6 L525.0,730.9 L524.9,730.2 L524.8,729.6 L524.8,728.9 L524.7,728.2 L524.6,727.6 L524.5,726.9 L524.5,726.2 L524.4,725.5 L524.3,724.9 L524.2,724.2 L524.1,723.5 L524.1,722.8 L524.0,722.1 L523.9,721.4 L523.9,721.2 M523.0,714.7 L523.0,714.5 L522.9,713.8 L522.8,713.1 L522.7,712.4 L522.6,711.7 L522.5,711.0 L522.4,710.3 L522.3,709.6 L522.2,708.9 L522.1,708.2 L522.0,707.5 L521.9,706.8 L521.8,706.0 L521.7,705.3 L521.5,704.6 L521.4,703.9 L521.3,703.2 L521.2,702.4 L521.1,701.7 L521.0,701.0 L520.9,700.3 L520.7,699.5 L520.7,699.2 M519.6,692.7 L519.5,692.2 L519.3,691.4 L519.2,690.7 L519.0,689.9 L518.9,689.2 L518.8,688.4 L518.6,687.7 L518.5,686.9 L518.3,686.2 L518.2,685.4 L518.0,684.7 L517.9,683.9 L517.7,683.2 L517.6,682.4 L517.4,681.6 L517.3,680.9 L517.1,680.1 L516.9,679.3 L516.8,678.5 L516.6,677.8 L516.5,677.2 M515.0,670.7 L514.9,670.0 L514.7,669.2 L514.5,668.4 L514.3,667.6 L514.1,666.8 L513.9,666.0 L513.7,665.2 L513.5,664.4 L513.3,663.6 L513.1,662.8 L512.9,662.0 L512.7,661.2 L512.5,660.3 L512.3,659.5 L512.1,658.7 L511.9,657.9 L511.7,657.1 L511.5,656.3 L511.2,655.4 L511.2,655.2 M509.4,648.7 L509.2,648.0 L508.9,647.1 L508.7,646.3 L508.4,645.4 L508.2,644.6 L507.9,643.7 L507.7,642.9 L507.4,642.0 L507.2,641.2 L506.9,640.3 L506.6,639.5 L506.4,638.6 L506.1,637.8 L505.8,636.9 L505.5,636.0 L505.3,635.2 L505.0,634.3 L504.7,633.4 L504.6,633.2 M502.4,626.7 L502.3,626.4 L502.0,625.5 L501.7,624.6 L501.4,623.7 L501.1,622.8 L500.7,621.9 L500.4,621.0 L500.1,620.1 L499.7,619.2 L499.4,618.3 L499.1,617.4 L498.7,616.4 L498.4,615.5 L498.0,614.6 L497.7,613.7 L497.3,612.8 L497.0,611.8 L496.7,611.2 M494.1,604.7 L494.0,604.4 L493.6,603.4 L493.2,602.5 L492.8,601.5 L492.4,600.6 L492.0,599.6 L491.5,598.7 L491.1,597.7 L490.7,596.7 L490.3,595.8 L489.9,594.8 L489.4,593.8 L489.0,592.9 L488.6,591.9 L488.1,590.9 L487.7,589.9 L487.3,589.2 M484.3,582.7 L483.9,582.0 L483.4,581.0 L482.9,580.0 L482.4,579.0 L481.9,578.0 L481.4,577.0 L480.9,576.0 L480.4,575.0 L479.9,573.9 L479.4,572.9 L478.8,571.9 L478.3,570.9 L477.8,569.8 L477.2,568.8 L476.7,567.8 L476.4,567.2 M472.8,560.7 L472.7,560.4 L472.1,559.4 L471.5,558.3 L470.9,557.2 L470.3,556.2 L469.6,555.1 L469.0,554.0 L468.4,552.9 L467.8,551.9 L467.1,550.8 L466.5,549.7 L465.8,548.6 L465.2,547.5 L464.5,546.4 L463.9,545.3 L463.8,545.2 M459.8,538.7 L459.7,538.7 L459.0,537.6 L458.3,536.4 L457.6,535.3 L456.9,534.2 L456.1,533.0 L455.4,531.9 L454.7,530.8 L453.9,529.6 L453.2,528.5 L452.4,527.3 L451.6,526.2 L450.8,525.0 L450.1,523.9 L449.6,523.2 M445.1,516.7 L444.4,515.7 L443.5,514.5 L442.7,513.3 L441.8,512.1 L441.0,510.9 L440.1,509.7 L439.2,508.5 L438.4,507.3 L437.5,506.1 L436.6,504.9 L435.7,503.6 L434.8,502.4 L433.9,501.2 M429.0,494.7 L428.2,493.8 L427.3,492.5 L426.3,491.2 L425.3,490.0 L424.3,488.7 L423.3,487.5 L422.3,486.2 L421.3,484.9 L420.3,483.6 L419.2,482.3 L418.2,481.1 L417.2,479.8 L416.7,479.2 M411.4,472.7 L410.8,471.9 L409.7,470.6 L408.6,469.3 L407.4,467.9 L406.3,466.6 L405.2,465.2 L404.1,463.9 L402.9,462.6 L401.8,461.2 L400.6,459.8 L399.4,458.5 L398.4,457.2 M392.7,450.7 L392.3,450.2 L391.0,448.8 L389.8,447.4 L388.6,446.0 L387.3,444.6 L386.1,443.2 L384.8,441.7 L383.5,440.3 L382.2,438.9 L380.9,437.4 L379.6,436.0 L379.0,435.2 M373.1,428.7 L373.0,428.7 L371.7,427.2 L370.3,425.7 L369.0,424.2 L367.6,422.7 L366.2,421.2 L364.8,419.7 L363.4,418.2 L362.0,416.7 L360.6,415.2 L359.2,413.6 L358.8,413.2 M352.7,406.7 L351.9,405.9 L350.4,404.3 L348.9,402.7 L347.4,401.2 L345.9,399.6 L344.4,398.0 L342.9,396.4 L341.4,394.8 L339.8,393.1 L338.3,391.5 L338.0,391.2 M331.7,384.7 L330.4,383.3 L328.8,381.6 L327.1,379.9 L325.5,378.3 L323.9,376.6 L322.2,374.9 L320.6,373.2 L318.9,371.4 L317.2,369.7 L316.8,369.2 M310.4,362.7 L308.7,361.0 L307.0,359.2 L305.2,357.4 L303.5,355.6 L301.7,353.8 L300.0,352.0 L298.2,350.2 L296.4,348.3 L295.3,347.2 M288.9,340.7 L287.2,339.0 L285.3,337.1 L283.5,335.2 L281.6,333.3 L279.7,331.4 L277.8,329.4 L275.8,327.5 L273.9,325.5 L273.6,325.2 M267.2,318.7 L266.0,317.6 L264.1,315.6 L262.0,313.5 L260.0,311.5 L258.0,309.4 L255.9,307.4 L253.9,305.3 L251.8,303.2 M245.4,296.7 L243.3,294.7 L241.2,292.5 L239.0,290.3 L236.8,288.1 L234.6,285.9 L232.4,283.7 L230.2,281.4 L230.0,281.2 M223.5,274.7 L223.4,274.6 L221.1,272.3 L218.8,270.0 L216.5,267.6 L214.1,265.3 L211.7,262.9 L209.4,260.5 L208.1,259.2 M201.6,252.7 L199.6,250.7 L197.1,248.2 L194.6,245.7 L192.1,243.2 L189.6,240.6 L187.0,238.0 L186.2,237.2 M179.7,230.7 L179.1,230.2 L176.5,227.5 L173.8,224.8 L171.1,222.1 L168.3,219.3 L165.6,216.5 L164.3,215.2 M157.8,208.7 L157.1,208.0 L154.2,205.1 L151.3,202.2 L148.4,199.3 L145.4,196.3 L142.4,193.3 L142.4,193.2 M135.9,186.7 L133.2,184.1 L130.1,180.9 L126.9,177.7 L123.7,174.5 L120.5,171.2 L120.4,171.2 M114.0,164.7 L113.8,164.6 L110.5,161.2 L107.1,157.8 L103.6,154.3 L100.1,150.8 L98.5,149.2 M92.1,142.7 L89.3,139.9 L85.6,136.2 L81.8,132.5 L78.0,128.6 L76.6,127.2 M70.1,120.7 L66.2,116.8 L62.2,112.7 L58.0,108.5 L54.7,105.2 M48.2,98.7 L45.2,95.7 L40.8,91.2 L36.3,86.7 L32.8,83.2 M26.3,76.7 L22.2,72.5 L17.3,67.6 L12.3,62.6 L10.9,61.2 M4.4,54.7 L1.9,52.2 L-3.4,46.8 L-8.9,41.3 L-11.0,39.2 M-17.5,32.7 L-20.4,29.8 L-26.3,23.8 L-32.4,17.7 L-32.9,17.2 M-39.3,10.7 L-45.2,4.8 L-52.0,-2.0 L-54.8,-4.8" stroke="#c98890" stroke-width="1"/>
<path d="M606.1,737.8 L606.2,737.1 L606.3,736.5 L606.3,735.8 L606.4,735.1 L606.5,734.4 L606.5,733.8 L606.6,733.1 L606.6,732.4 L606.7,731.7 L606.8,731.1 L606.8,730.4 L606.9,729.7 L607.0,729.0 L607.0,728.3 L607.1,727.7 L607.1,727.0 L607.2,726.3 L607.3,725.6 L607.3,724.9 L607.4,724.2 L607.4,723.5 L607.5,722.8 L607.5,722.8 M608.0,716.3 L608.1,715.8 L608.1,715.1 L608.2,714.4 L608.3,713.7 L608.3,712.9 L608.4,712.2 L608.4,711.5 L608.5,710.8 L608.5,710.1 L608.6,709.3 L608.6,708.6 L608.7,707.9 L608.7,707.2 L608.8,706.4 L608.8,705.7 L608.9,705.0 L608.9,704.2 L609.0,703.5 L609.0,702.8 L609.1,702.0 L609.1,701.3 L609.2,700.8 M609.6,694.3 L609.6,693.8 L609.6,693.1 L609.7,692.3 L609.7,691.6 L609.8,690.8 L609.8,690.0 L609.8,689.3 L609.9,688.5 L609.9,687.7 L610.0,687.0 L610.0,686.2 L610.0,685.4 L610.1,684.6 L610.1,683.9 L610.1,683.1 L610.2,682.3 L610.2,681.5 L610.3,680.7 L610.3,680.0 L610.3,679.2 L610.3,678.8 M610.6,672.3 L610.6,672.0 L610.6,671.2 L610.6,670.4 L610.7,669.6 L610.7,668.8 L610.7,668.0 L610.7,667.1 L610.8,666.3 L610.8,665.5 L610.8,664.7 L610.8,663.9 L610.8,663.0 L610.9,662.2 L610.9,661.4 L610.9,660.6 L610.9,659.7 L610.9,658.9 L610.9,658.1 L611.0,657.2 L611.0,656.8 M611.0,650.3 L611.0,649.6 L611.0,648.7 L611.0,647.9 L611.0,647.0 L611.0,646.1 L611.0,645.3 L611.0,644.4 L611.0,643.5 L611.0,642.7 L611.0,641.8 L611.0,640.9 L611.0,640.0 L611.0,639.2 L611.0,638.3 L611.0,637.4 L611.0,636.5 L611.0,635.6 L611.0,634.8 M610.8,628.3 L610.8,627.5 L610.8,626.6 L610.8,625.6 L610.7,624.7 L610.7,623.8 L610.7,622.9 L610.6,622.0 L610.6,621.0 L610.6,620.1 L610.5,619.2 L610.5,618.2 L610.5,617.3 L610.4,616.3 L610.4,615.4 L610.3,614.5 L610.3,613.5 L610.3,612.8 M609.9,606.3 L609.9,605.8 L609.8,604.9 L609.7,603.9 L609.7,602.9 L609.6,601.9 L609.5,600.9 L609.5,600.0 L609.4,599.0 L609.3,598.0 L609.3,597.0 L609.2,596.0 L609.1,595.0 L609.0,594.0 L608.9,593.0 L608.8,592.0 L608.8,591.0 L608.7,590.8 M608.1,584.3 L608.1,583.8 L608.0,582.8 L607.9,581.7 L607.7,580.7 L607.6,579.6 L607.5,578.6 L607.4,577.6 L607.3,576.5 L607.2,575.4 L607.0,574.4 L606.9,573.3 L606.8,572.3 L606.6,571.2 L606.5,570.1 L606.3,569.0 L606.3,568.8 M605.4,562.3 L605.3,561.4 L605.1,560.3 L604.9,559.2 L604.8,558.1 L604.6,557.0 L604.4,555.9 L604.2,554.8 L604.0,553.6 L603.9,552.5 L603.7,551.4 L603.5,550.3 L603.3,549.1 L603.1,548.0 L602.9,546.8 L602.9,546.8 M601.6,540.3 L601.5,539.9 L601.3,538.7 L601.1,537.6 L600.8,536.4 L600.6,535.2 L600.3,534.0 L600.1,532.8 L599.8,531.6 L599.5,530.4 L599.3,529.2 L599.0,528.0 L598.7,526.8 L598.4,525.6 L598.2,524.8 M596.6,518.3 L596.6,518.2 L596.3,517.0 L596.0,515.8 L595.6,514.5 L595.3,513.3 L594.9,512.0 L594.6,510.7 L594.2,509.5 L593.9,508.2 L593.5,506.9 L593.1,505.6 L592.8,504.4 L592.4,503.1 L592.3,502.8 M590.3,496.3 L589.9,495.2 L589.5,493.9 L589.1,492.6 L588.6,491.3 L588.2,489.9 L587.7,488.6 L587.2,487.2 L586.8,485.9 L586.3,484.5 L585.8,483.2 L585.3,481.8 L584.9,480.8 M582.5,474.3 L582.2,473.5 L581.6,472.1 L581.0,470.7 L580.5,469.3 L579.9,467.9 L579.3,466.4 L578.7,465.0 L578.1,463.6 L577.5,462.2 L576.8,460.7 L576.2,459.3 L576.0,458.8 M573.0,452.3 L572.9,451.9 L572.2,450.4 L571.5,449.0 L570.8,447.5 L570.0,446.0 L569.3,444.5 L568.5,442.9 L567.8,441.4 L567.0,439.9 L566.2,438.4 L565.4,436.8 L565.4,436.8 M561.9,430.3 L561.3,429.1 L560.4,427.5 L559.5,425.9 L558.6,424.3 L557.7,422.7 L556.8,421.1 L555.9,419.5 L554.9,417.9 L554.0,416.3 L553.1,414.8 M549.1,408.3 L549.0,408.1 L547.9,406.5 L546.9,404.8 L545.8,403.1 L544.7,401.4 L543.6,399.8 L542.5,398.1 L541.4,396.4 L540.2,394.7 L539.1,392.9 L539.0,392.8 M534.5,386.3 L534.3,386.0 L533.1,384.2 L531.8,382.5 L530.5,380.7 L529.3,378.9 L528.0,377.2 L526.7,375.4 L525.3,373.6 L524.0,371.7 L523.3,370.8 M518.3,364.3 L517.0,362.6 L515.6,360.7 L514.1,358.9 L512.6,357.0 L511.1,355.1 L509.6,353.2 L508.1,351.3 L506.5,349.4 L506.0,348.8 M500.7,342.3 L500.1,341.6 L498.5,339.7 L496.9,337.7 L495.2,335.7 L493.5,333.7 L491.8,331.7 L490.1,329.7 L488.3,327.7 L487.5,326.8 M481.9,320.3 L481.2,319.5 L479.3,317.4 L477.5,315.3 L475.6,313.3 L473.7,311.1 L471.8,309.0 L469.9,306.9 L468.0,304.8 M462.1,298.3 L462.0,298.2 L460.0,296.1 L458.0,293.8 L455.9,291.6 L453.8,289.4 L451.7,287.1 L449.6,284.9 L447.6,282.8 M441.5,276.3 L441.0,275.7 L438.8,273.4 L436.5,271.0 L434.3,268.7 L432.0,266.3 L429.7,263.9 L427.4,261.5 L426.7,260.8 M420.5,254.3 L420.4,254.2 L418.0,251.7 L415.6,249.2 L413.1,246.7 L410.7,244.2 L408.2,241.6 L405.7,239.1 L405.4,238.8 M399.1,232.3 L398.1,231.3 L395.5,228.6 L392.9,225.9 L390.2,223.3 L387.6,220.6 L384.9,217.8 L383.9,216.8 M377.4,210.3 L376.7,209.5 L373.9,206.7 L371.1,203.8 L368.2,201.0 L365.4,198.1 L362.5,195.2 L362.1,194.8 M355.7,188.3 L353.7,186.2 L350.7,183.2 L347.6,180.2 L344.6,177.1 L341.5,174.0 L340.3,172.8 M333.9,166.3 L332.0,164.4 L328.8,161.2 L325.5,157.9 L322.2,154.6 L318.9,151.2 L318.4,150.8 M312.0,144.3 L308.6,140.9 L305.2,137.4 L301.6,133.9 L298.0,130.3 L296.6,128.8 M290.1,122.3 L287.1,119.3 L283.3,115.5 L279.5,111.7 L275.6,107.8 L274.6,106.8 M268.2,100.3 L267.8,99.9 L263.8,95.9 L259.7,91.8 L255.5,87.6 L252.7,84.8 M246.3,78.3 L242.7,74.8 L238.3,70.3 L233.9,65.9 L230.8,62.8 M224.3,56.3 L220.0,51.9 L215.2,47.1 L210.3,42.2 L208.9,40.8 M202.4,34.3 L200.3,32.1 L195.1,26.9 L189.8,21.6 L187.0,18.8 M180.5,12.3 L178.9,10.7 L173.3,5.0 L167.6,-0.7 L165.1,-3.2 M158.6,-9.7 L155.6,-12.7 L149.4,-19.0 L143.2,-25.2 M136.7,-31.7 L136.5,-32.0 L129.7,-38.7 L122.8,-45.7 L121.3,-47.2 M114.8,-53.7 L108.2,-60.3 L100.6,-68.0" stroke="#c98890" stroke-width="1"/>
<path d="M685.4,740.7 L685.6,740.0 L685.7,739.3 L685.9,738.7 L686.1,738.0 L686.2,737.3 L686.4,736.6 L686.6,736.0 L686.7,735.3 L686.9,734.6 L687.0,733.9 L687.2,733.2 L687.4,732.5 L687.5,731.8 L687.7,731.2 L687.9,730.5 L688.0,729.8 L688.2,729.1 L688.4,728.4 L688.5,727.7 L688.7,727.0 L688.8,726.3 L689.0,725.7 M690.5,719.2 L690.7,718.5 L690.8,717.8 L691.0,717.1 L691.2,716.3 L691.3,715.6 L691.5,714.9 L691.7,714.2 L691.9,713.5 L692.0,712.7 L692.2,712.0 L692.4,711.3 L692.5,710.5 L692.7,709.8 L692.9,709.1 L693.0,708.3 L693.2,707.6 L693.4,706.8 L693.6,706.1 L693.7,705.4 L693.9,704.6 L694.1,703.9 L694.1,703.7 M695.6,697.2 L695.6,697.1 L695.8,696.3 L696.0,695.6 L696.1,694.8 L696.3,694.0 L696.5,693.3 L696.7,692.5 L696.8,691.7 L697.0,690.9 L697.2,690.2 L697.4,689.4 L697.5,688.6 L697.7,687.8 L697.9,687.0 L698.1,686.3 L698.2,685.5 L698.4,684.7 L698.6,683.9 L698.8,683.1 L698.9,682.3 L699.1,681.7 M700.5,675.2 L700.5,675.1 L700.7,674.3 L700.9,673.4 L701.1,672.6 L701.2,671.8 L701.4,671.0 L701.6,670.2 L701.8,669.3 L702.0,668.5 L702.1,667.7 L702.3,666.9 L702.5,666.0 L702.7,665.2 L702.9,664.4 L703.0,663.5 L703.2,662.7 L703.4,661.8 L703.6,661.0 L703.8,660.1 L703.9,659.7 M705.2,653.2 L705.4,652.4 L705.6,651.6 L705.8,650.7 L706.0,649.8 L706.1,648.9 L706.3,648.1 L706.5,647.2 L706.7,646.3 L706.9,645.4 L707.1,644.5 L707.2,643.6 L707.4,642.8 L707.6,641.9 L707.8,641.0 L708.0,640.1 L708.2,639.2 L708.3,638.3 L708.5,637.7 M709.8,631.2 L709.8,631.0 L710.0,630.0 L710.2,629.1 L710.4,628.2 L710.6,627.3 L710.7,626.3 L710.9,625.4 L711.1,624.5 L711.3,623.5 L711.5,622.6 L711.7,621.6 L711.9,620.7 L712.0,619.7 L712.2,618.8 L712.4,617.8 L712.6,616.9 L712.8,615.9 L712.8,615.7 M714.1,609.2 L714.1,609.1 L714.3,608.1 L714.5,607.1 L714.6,606.1 L714.8,605.1 L715.0,604.1 L715.2,603.1 L715.4,602.1 L715.6,601.1 L715.7,600.1 L715.9,599.1 L716.1,598.1 L716.3,597.1 L716.5,596.1 L716.7,595.0 L716.9,594.0 L716.9,593.7 M718.1,587.2 L718.2,586.8 L718.3,585.7 L718.5,584.6 L718.7,583.6 L718.9,582.5 L719.1,581.5 L719.3,580.4 L719.4,579.3 L719.6,578.3 L719.8,577.2 L720.0,576.1 L720.2,575.0 L720.3,573.9 L720.5,572.8 L720.7,571.8 L720.7,571.7 M721.8,565.2 L721.8,565.1 L722.0,564.0 L722.2,562.9 L722.3,561.8 L722.5,560.6 L722.7,559.5 L722.9,558.4 L723.0,557.2 L723.2,556.1 L723.4,554.9 L723.6,553.8 L723.7,552.6 L723.9,551.5 L724.1,550.3 L724.2,549.7 M725.1,543.2 L725.3,542.0 L725.5,540.8 L725.6,539.6 L725.8,538.4 L726.0,537.2 L726.2,536.0 L726.3,534.8 L726.5,533.6 L726.7,532.4 L726.8,531.1 L727.0,529.9 L727.1,528.7 L727.3,527.7 M728.1,521.2 L728.1,521.1 L728.3,519.9 L728.4,518.6 L728.6,517.3 L728.7,516.0 L728.9,514.7 L729.0,513.4 L729.2,512.1 L729.3,510.8 L729.5,509.5 L729.6,508.2 L729.8,506.9 L729.9,505.7 M730.6,499.2 L730.6,498.9 L730.8,497.5 L730.9,496.1 L731.0,494.8 L731.2,493.4 L731.3,492.0 L731.4,490.6 L731.6,489.3 L731.7,487.9 L731.8,486.5 L731.9,485.1 L732.0,483.7 M732.6,477.2 L732.6,476.5 L732.7,475.1 L732.8,473.6 L732.9,472.2 L733.0,470.7 L733.1,469.2 L733.2,467.7 L733.3,466.3 L733.4,464.8 L733.5,463.3 L733.6,461.8 L733.6,461.7 M734.0,455.2 L734.0,454.2 L734.1,452.6 L734.1,451.1 L734.2,449.5 L734.3,447.9 L734.3,446.4 L734.4,444.8 L734.4,443.2 L734.5,441.6 L734.5,440.0 L734.5,439.7 M734.7,433.2 L734.7,431.9 L734.7,430.3 L734.7,428.6 L734.7,427.0 L734.7,425.3 L734.7,423.6 L734.7,421.9 L734.7,420.2 L734.7,418.5 L734.7,417.7 M734.6,411.2 L734.5,409.9 L734.5,408.1 L734.4,406.4 L734.4,404.6 L734.3,402.8 L734.2,401.1 L734.2,399.3 L734.1,397.4 L734.0,395.7 M733.6,389.2 L733.5,388.3 L733.4,386.4 L733.3,384.5 L733.1,382.7 L733.0,380.8 L732.8,378.9 L732.6,376.9 L732.4,375.0 L732.3,373.7 M731.6,367.2 L731.4,365.2 L731.1,363.2 L730.9,361.2 L730.6,359.2 L730.3,357.2 L730.0,355.2 L729.7,353.1 L729.5,351.7 M728.4,345.2 L728.4,344.8 L728.0,342.7 L727.6,340.6 L727.2,338.5 L726.8,336.3 L726.4,334.2 L725.9,332.0 L725.5,329.8 L725.4,329.7 M724.0,323.2 L724.0,323.2 L723.4,321.0 L722.9,318.7 L722.3,316.4 L721.7,314.2 L721.1,311.9 L720.5,309.6 L719.9,307.7 M718.0,301.2 L717.7,300.2 L717.0,297.8 L716.2,295.4 L715.4,293.0 L714.6,290.6 L713.7,288.1 L712.8,285.7 M710.4,279.2 L710.0,278.2 L709.0,275.7 L708.0,273.1 L707.0,270.6 L705.9,268.0 L704.7,265.4 L704.0,263.7 M701.0,257.2 L699.9,254.9 L698.6,252.2 L697.3,249.5 L695.9,246.8 L694.5,244.0 L693.3,241.7 M689.8,235.2 L688.4,232.9 L686.8,230.0 L685.2,227.2 L683.5,224.3 L681.7,221.4 L680.7,219.7 M676.6,213.2 L676.2,212.5 L674.2,209.6 L672.2,206.6 L670.2,203.5 L668.1,200.5 L666.2,197.7 M661.5,191.2 L661.5,191.1 L659.2,188.0 L656.8,184.8 L654.4,181.6 L652.0,178.4 L649.9,175.7 M644.8,169.2 L644.2,168.5 L641.6,165.2 L638.8,161.8 L636.0,158.4 L633.2,155.0 L632.1,153.7 M626.6,147.2 L624.3,144.5 L621.2,141.0 L618.1,137.4 L614.9,133.8 L613.0,131.7 M607.2,125.2 L605.0,122.7 L601.5,119.0 L598.0,115.2 L594.5,111.3 L593.0,109.7 M586.9,103.2 L583.5,99.6 L579.7,95.6 L575.9,91.5 L572.2,87.7 M566.0,81.2 L564.0,79.1 L559.9,74.9 L555.7,70.6 L551.5,66.2 L551.0,65.7 M544.7,59.2 L542.9,57.3 L538.4,52.8 L534.0,48.2 L529.5,43.7 M523.1,37.2 L520.0,34.1 L515.2,29.2 L510.4,24.3 L507.8,21.7 M501.3,15.2 L500.4,14.2 L495.3,9.1 L490.1,3.8 L486.0,-0.3 M479.5,-6.8 L479.4,-7.0 L473.9,-12.5 L468.3,-18.1 L464.1,-22.3 M457.6,-28.8 L456.7,-29.7 L450.8,-35.7 L444.7,-41.8 L442.2,-44.3 M435.7,-50.8 L432.2,-54.4 L425.7,-60.9 L420.3,-66.3 M413.8,-72.8 L412.3,-74.3 L405.4,-81.3 L398.4,-88.3 M391.9,-94.8 L390.9,-95.8 L383.4,-103.4 L376.5,-110.3 M370.0,-116.8 L367.6,-119.2 L359.4,-127.5 L354.6,-132.3 M348.1,-138.8 L342.1,-144.9" stroke="#c98890" stroke-width="1"/>
<path d="M763.5,744.8 L763.7,744.2 L763.9,743.5 L764.1,742.8 L764.4,742.1 L764.6,741.4 L764.8,740.8 L765.0,740.1 L765.3,739.4 L765.5,738.7 L765.7,738.0 L766.0,737.3 L766.2,736.6 L766.4,735.9 L766.6,735.2 L766.9,734.5 L767.1,733.9 L767.3,733.2 L767.6,732.5 L767.8,731.8 L768.0,731.0 L768.3,730.3 L768.4,729.8 M770.6,723.3 L770.6,723.2 L770.9,722.5 L771.1,721.8 L771.4,721.1 L771.6,720.3 L771.8,719.6 L772.1,718.9 L772.3,718.2 L772.6,717.4 L772.8,716.7 L773.1,716.0 L773.3,715.2 L773.5,714.5 L773.8,713.7 L774.0,713.0 L774.3,712.3 L774.5,711.5 L774.8,710.8 L775.0,710.0 L775.3,709.3 L775.5,708.5 L775.8,707.8 M777.9,701.3 L778.0,700.9 L778.3,700.2 L778.6,699.4 L778.8,698.6 L779.1,697.9 L779.3,697.1 L779.6,696.3 L779.8,695.5 L780.1,694.8 L780.4,694.0 L780.6,693.2 L780.9,692.4 L781.1,691.6 L781.4,690.8 L781.7,690.0 L781.9,689.2 L782.2,688.4 L782.5,687.7 L782.7,686.9 L783.0,686.1 L783.1,685.8 M785.2,679.3 L785.4,678.8 L785.7,678.0 L786.0,677.1 L786.2,676.3 L786.5,675.5 L786.8,674.7 L787.1,673.8 L787.3,673.0 L787.6,672.2 L787.9,671.3 L788.2,670.5 L788.4,669.7 L788.7,668.8 L789.0,668.0 L789.3,667.1 L789.6,666.3 L789.8,665.4 L790.1,664.6 L790.4,663.8 M792.5,657.3 L792.7,656.8 L793.0,656.0 L793.3,655.1 L793.6,654.2 L793.9,653.3 L794.1,652.4 L794.4,651.6 L794.7,650.7 L795.0,649.8 L795.3,648.9 L795.6,648.0 L795.9,647.1 L796.2,646.2 L796.5,645.3 L796.8,644.4 L797.1,643.5 L797.4,642.6 L797.7,641.8 M799.8,635.3 L799.8,635.2 L800.2,634.3 L800.5,633.4 L800.8,632.5 L801.1,631.5 L801.4,630.6 L801.7,629.6 L802.0,628.7 L802.3,627.7 L802.6,626.8 L803.0,625.8 L803.3,624.9 L803.6,623.9 L803.9,623.0 L804.2,622.0 L804.5,621.0 L804.9,620.1 L804.9,619.8 M807.1,613.3 L807.1,613.2 L807.5,612.2 L807.8,611.2 L808.1,610.2 L808.4,609.2 L808.8,608.2 L809.1,607.2 L809.4,606.2 L809.8,605.2 L810.1,604.2 L810.4,603.2 L810.8,602.2 L811.1,601.1 L811.4,600.1 L811.8,599.1 L812.1,598.1 L812.2,597.8 M814.3,591.3 L814.5,590.7 L814.9,589.7 L815.2,588.6 L815.6,587.6 L815.9,586.5 L816.3,585.4 L816.6,584.3 L817.0,583.3 L817.3,582.2 L817.7,581.1 L818.0,580.0 L818.4,578.9 L818.8,577.8 L819.1,576.7 L819.4,575.8 M821.5,569.3 L821.7,568.9 L822.0,567.8 L822.4,566.7 L822.8,565.5 L823.1,564.4 L823.5,563.3 L823.9,562.1 L824.3,561.0 L824.6,559.8 L825.0,558.7 L825.4,557.5 L825.8,556.3 L826.1,555.2 L826.5,554.0 L826.6,553.8 M828.7,547.3 L828.8,546.9 L829.2,545.7 L829.6,544.5 L830.0,543.2 L830.4,542.0 L830.8,540.8 L831.2,539.6 L831.6,538.4 L832.0,537.1 L832.4,535.9 L832.8,534.6 L833.2,533.4 L833.6,532.1 L833.7,531.8 M835.8,525.3 L836.0,524.5 L836.4,523.3 L836.9,522.0 L837.3,520.7 L837.7,519.4 L838.1,518.1 L838.5,516.8 L838.9,515.5 L839.4,514.1 L839.8,512.8 L840.2,511.5 L840.6,510.2 L840.7,509.8 M842.8,503.3 L843.2,502.0 L843.6,500.7 L844.1,499.3 L844.5,497.9 L845.0,496.5 L845.4,495.1 L845.8,493.7 L846.3,492.3 L846.7,490.9 L847.2,489.5 L847.6,488.1 L847.7,487.8 M849.7,481.3 L849.9,480.9 L850.3,479.4 L850.8,477.9 L851.3,476.5 L851.7,475.0 L852.2,473.5 L852.7,472.0 L853.1,470.5 L853.6,469.0 L854.1,467.5 L854.5,466.0 L854.6,465.8 M856.6,459.3 L856.9,458.3 L857.4,456.7 L857.9,455.2 L858.4,453.6 L858.8,452.0 L859.3,450.4 L859.8,448.8 L860.3,447.2 L860.8,445.6 L861.3,444.0 L861.3,443.8 M863.3,437.3 L863.8,435.8 L864.3,434.1 L864.8,432.5 L865.3,430.8 L865.8,429.1 L866.3,427.4 L866.8,425.7 L867.3,424.0 L867.9,422.2 L868.0,421.8 M869.9,415.3 L869.9,415.2 L870.5,413.5 L871.0,411.7 L871.5,409.9 L872.1,408.1 L872.6,406.3 L873.1,404.5 L873.7,402.6 L874.2,400.8 L874.5,399.8 M876.4,393.3 L876.9,391.5 L877.5,389.6 L878.0,387.7 L878.6,385.7 L879.1,383.8 L879.7,381.9 L880.2,379.9 L880.8,377.9 L880.8,377.8 M882.6,371.3 L883.0,370.0 L883.6,367.9 L884.2,365.9 L884.7,363.8 L885.3,361.8 L885.9,359.7 L886.5,357.6 L886.9,355.8 M888.7,349.3 L888.8,349.2 L889.4,347.0 L889.9,344.8 L890.5,342.7 L891.1,340.5 L891.7,338.2 L892.3,336.0 L892.9,333.8 M894.6,327.3 L894.7,327.0 L895.3,324.7 L895.9,322.4 L896.5,320.0 L897.1,317.7 L897.7,315.3 L898.3,312.9 L898.5,311.8 M900.2,305.3 L900.7,303.3 L901.3,300.8 L901.9,298.3 L902.5,295.8 L903.1,293.3 L903.7,290.7 L903.9,289.8 M905.5,283.3 L905.5,283.0 L906.1,280.4 L906.8,277.7 L907.4,275.1 L908.0,272.4 L908.6,269.7 L909.0,267.8 M910.4,261.3 L911.0,258.7 L911.6,255.8 L912.2,253.0 L912.8,250.1 L913.4,247.3 L913.7,245.8 M915.0,239.3 L915.2,238.4 L915.8,235.5 L916.3,232.4 L916.9,229.4 L917.5,226.3 L918.0,223.8 M919.1,217.3 L919.2,216.9 L919.8,213.8 L920.3,210.5 L920.8,207.3 L921.4,204.0 L921.7,201.8 M922.7,195.3 L923.0,194.0 L923.5,190.6 L924.0,187.1 L924.4,183.7 L924.9,180.1 L925.0,179.8 M925.8,173.3 L925.8,173.0 L926.3,169.4 L926.7,165.7 L927.1,162.0 L927.5,158.3 L927.5,157.8 M928.1,151.3 L928.2,150.6 L928.5,146.8 L928.9,142.8 L929.1,138.9 L929.3,135.8 M929.7,129.3 L929.9,126.7 L930.0,122.6 L930.2,118.4 L930.3,114.1 L930.3,113.8 M930.4,107.3 L930.4,105.4 L930.4,101.0 L930.4,96.5 L930.3,92.0 L930.3,91.8 M930.0,85.3 L929.9,82.7 L929.7,78.0 L929.3,73.3 L929.1,69.8 M928.5,63.3 L927.9,58.5 L927.3,53.5 L926.6,48.3 L926.5,47.8 M925.5,41.3 L924.9,37.9 L923.9,32.5 L922.7,27.1 L922.4,25.8 M920.9,19.3 L920.1,16.0 L918.5,10.3 L916.9,4.5 L916.6,3.8 M914.5,-2.7 L913.0,-7.3 L910.8,-13.3 L908.9,-18.2 M906.2,-24.7 L905.7,-25.7 L902.9,-32.0 L899.8,-38.5 L899.0,-40.2 M895.7,-46.7 L893.0,-51.7 L889.1,-58.5 L886.9,-62.2 M882.9,-68.7 L880.6,-72.4 L875.9,-79.5 L872.7,-84.2 M868.1,-90.7 L865.6,-94.1 L860.0,-101.7 L856.5,-106.2 M851.3,-112.7 L847.7,-117.2 L841.1,-125.2 L838.5,-128.2 M833.0,-134.7 L826.8,-141.7 L819.2,-150.2 M813.3,-156.7 L811.3,-158.9 L803.0,-167.8 L798.9,-172.2 M792.8,-178.7 L785.4,-186.4 L778.0,-194.2 M771.7,-200.7 L766.5,-206.0 L756.6,-216.2 M750.2,-222.7 L746.0,-226.9 L735.2,-237.9" stroke="#c98890" stroke-width="1"/>
<path d="M840.3,750.1 L840.6,749.5 L840.9,748.8 L841.1,748.1 L841.4,747.4 L841.7,746.7 L841.9,746.0 L842.2,745.3 L842.5,744.7 L842.7,744.0 L843.0,743.3 L843.3,742.6 L843.5,741.9 L843.8,741.2 L844.1,740.5 L844.3,739.8 L844.6,739.1 L844.9,738.4 L845.2,737.7 L845.4,737.0 L845.7,736.3 L846.0,735.6 L846.1,735.1 M848.7,728.6 L848.8,728.4 L849.0,727.7 L849.3,727.0 L849.6,726.2 L849.9,725.5 L850.2,724.8 L850.5,724.0 L850.7,723.3 L851.0,722.6 L851.3,721.8 L851.6,721.1 L851.9,720.4 L852.2,719.6 L852.5,718.9 L852.8,718.1 L853.0,717.4 L853.3,716.6 L853.6,715.9 L853.9,715.1 L854.2,714.4 L854.5,713.6 L854.7,713.1 M857.2,706.6 L857.5,706.0 L857.8,705.2 L858.1,704.4 L858.4,703.7 L858.7,702.9 L859.0,702.1 L859.3,701.3 L859.6,700.5 L859.9,699.8 L860.2,699.0 L860.6,698.2 L860.9,697.4 L861.2,696.6 L861.5,695.8 L861.8,695.0 L862.1,694.2 L862.4,693.4 L862.7,692.6 L863.1,691.8 L863.3,691.1 M865.9,684.6 L865.9,684.5 L866.3,683.7 L866.6,682.9 L866.9,682.0 L867.2,681.2 L867.6,680.4 L867.9,679.5 L868.2,678.7 L868.6,677.9 L868.9,677.0 L869.2,676.2 L869.5,675.4 L869.9,674.5 L870.2,673.7 L870.6,672.8 L870.9,672.0 L871.2,671.1 L871.6,670.3 L871.9,669.4 L872.0,669.1 M874.6,662.6 L874.7,662.5 L875.0,661.6 L875.3,660.7 L875.7,659.8 L876.0,659.0 L876.4,658.1 L876.8,657.2 L877.1,656.3 L877.5,655.4 L877.8,654.5 L878.2,653.6 L878.5,652.7 L878.9,651.8 L879.3,650.9 L879.6,650.0 L880.0,649.1 L880.3,648.2 L880.7,647.3 L880.8,647.1 M883.4,640.6 L883.7,639.9 L884.0,639.0 L884.4,638.0 L884.8,637.1 L885.2,636.1 L885.5,635.2 L885.9,634.2 L886.3,633.3 L886.7,632.3 L887.1,631.4 L887.4,630.4 L887.8,629.5 L888.2,628.5 L888.6,627.5 L889.0,626.6 L889.4,625.6 L889.6,625.1 M892.2,618.6 L892.5,617.7 L892.9,616.7 L893.3,615.7 L893.7,614.7 L894.2,613.7 L894.6,612.7 L895.0,611.7 L895.4,610.7 L895.8,609.7 L896.2,608.6 L896.6,607.6 L897.0,606.6 L897.4,605.5 L897.9,604.5 L898.3,603.5 L898.4,603.1 M901.0,596.6 L901.2,596.1 L901.7,595.1 L902.1,594.0 L902.5,592.9 L903.0,591.9 L903.4,590.8 L903.8,589.7 L904.3,588.6 L904.7,587.5 L905.2,586.5 L905.6,585.4 L906.0,584.3 L906.5,583.2 L906.9,582.1 L907.3,581.1 M910.0,574.6 L910.1,574.3 L910.6,573.1 L911.0,572.0 L911.5,570.8 L912.0,569.7 L912.4,568.6 L912.9,567.4 L913.4,566.2 L913.8,565.1 L914.3,563.9 L914.8,562.8 L915.3,561.6 L915.8,560.4 L916.2,559.2 L916.3,559.1 M918.9,552.6 L919.2,552.1 L919.7,550.9 L920.1,549.7 L920.6,548.4 L921.1,547.2 L921.6,546.0 L922.1,544.8 L922.7,543.5 L923.2,542.3 L923.7,541.1 L924.2,539.8 L924.7,538.6 L925.2,537.3 L925.3,537.1 M927.9,530.6 L928.3,529.7 L928.9,528.4 L929.4,527.1 L929.9,525.8 L930.5,524.5 L931.0,523.2 L931.6,521.9 L932.1,520.5 L932.6,519.2 L933.2,517.9 L933.7,516.6 L934.3,515.2 L934.3,515.1 M937.0,508.6 L937.1,508.4 L937.7,507.1 L938.2,505.7 L938.8,504.3 L939.4,502.9 L939.9,501.5 L940.5,500.1 L941.1,498.7 L941.7,497.3 L942.3,495.9 L942.9,494.5 L943.4,493.1 M946.1,486.6 L946.5,485.8 L947.1,484.3 L947.7,482.9 L948.3,481.4 L948.9,479.9 L949.5,478.4 L950.2,476.9 L950.8,475.4 L951.4,473.9 L952.0,472.4 L952.6,471.1 M955.3,464.6 L955.9,463.1 L956.5,461.6 L957.2,460.0 L957.9,458.4 L958.5,456.8 L959.2,455.2 L959.9,453.6 L960.5,452.0 L961.2,450.4 L961.7,449.1 M964.4,442.6 L964.6,442.2 L965.3,440.5 L966.0,438.8 L966.7,437.1 L967.4,435.4 L968.1,433.7 L968.9,432.0 L969.6,430.3 L970.3,428.6 L970.9,427.1 M973.6,420.6 L974.0,419.8 L974.7,418.1 L975.5,416.3 L976.2,414.5 L977.0,412.7 L977.8,410.8 L978.5,409.0 L979.3,407.2 L980.1,405.3 L980.1,405.1 M982.9,398.6 L983.2,397.8 L984.0,395.9 L984.8,394.0 L985.6,392.1 L986.4,390.2 L987.3,388.2 L988.1,386.3 L988.9,384.3 L989.4,383.1 M992.1,376.6 L992.3,376.3 L993.1,374.3 L994.0,372.3 L994.8,370.2 L995.7,368.1 L996.6,366.1 L997.5,364.0 L998.4,361.9 L998.7,361.1 M1001.4,354.6 L1002.0,353.4 L1002.9,351.2 L1003.8,349.0 L1004.7,346.8 L1005.7,344.6 L1006.6,342.4 L1007.6,340.1 L1008.0,339.1 M1010.7,332.6 L1011.4,331.0 L1012.4,328.7 L1013.4,326.4 L1014.4,324.0 L1015.4,321.7 L1016.4,319.3 L1017.3,317.1 M1020.0,310.6 L1020.5,309.6 L1021.5,307.1 L1022.6,304.6 L1023.6,302.1 L1024.7,299.6 L1025.8,297.1 L1026.6,295.1 M1029.4,288.6 L1030.2,286.7 L1031.3,284.1 L1032.4,281.4 L1033.6,278.7 L1034.7,276.0 L1035.9,273.3 L1035.9,273.1 M1038.7,266.6 L1039.4,264.9 L1040.6,262.1 L1041.8,259.3 L1043.0,256.4 L1044.2,253.5 L1045.3,251.1 M1048.0,244.6 L1049.3,241.7 L1050.5,238.7 L1051.8,235.6 L1053.1,232.5 L1054.4,229.4 L1054.6,229.1 M1057.3,222.6 L1058.5,219.9 L1059.8,216.7 L1061.2,213.5 L1062.6,210.2 L1063.9,207.1 M1066.6,200.6 L1066.9,200.1 L1068.3,196.7 L1069.8,193.2 L1071.2,189.7 L1072.7,186.2 L1073.2,185.1 M1075.9,178.6 L1077.3,175.4 L1078.9,171.7 L1080.4,167.9 L1082.0,164.2 L1082.4,163.1 M1085.2,156.6 L1085.2,156.5 L1086.9,152.6 L1088.5,148.6 L1090.2,144.6 L1091.7,141.1 M1094.4,134.6 L1095.4,132.3 L1097.1,128.1 L1098.9,123.9 L1100.7,119.6 L1100.9,119.1 M1103.6,112.6 L1104.3,110.8 L1106.2,106.3 L1108.1,101.8 L1110.0,97.2 L1110.0,97.1 M1112.7,90.6 L1113.9,87.8 L1115.9,83.0 L1117.9,78.1 L1119.1,75.1 M1121.8,68.6 L1122.0,68.1 L1124.1,63.0 L1126.2,57.8 L1128.1,53.1 M1130.8,46.6 L1132.7,41.8 L1135.0,36.3 L1137.1,31.1 M1139.7,24.6 L1141.9,19.1 L1144.3,13.2 L1145.9,9.1 M1148.5,2.6 L1149.1,1.0 L1151.6,-5.2 L1154.1,-11.6 L1154.6,-12.9 M1157.2,-19.4 L1159.3,-24.7 L1161.9,-31.5 L1163.2,-34.9 M1165.7,-41.4 L1167.3,-45.4 L1170.1,-52.6 L1171.7,-56.9 M1174.2,-63.4 L1175.7,-67.5 L1178.6,-75.2 L1180.0,-78.9 M1182.4,-85.4 L1184.5,-91.2 L1187.6,-99.5 L1188.1,-100.9 M1190.4,-107.4 L1190.7,-108.0 L1193.8,-116.7 L1195.9,-122.9 M1198.2,-129.4 L1200.2,-134.9 L1203.4,-144.4 L1203.6,-144.9 M1205.8,-151.4 L1206.7,-154.1 L1210.0,-164.2 L1210.9,-166.9 M1213.0,-173.4 L1213.4,-174.6 L1216.8,-185.3 L1217.9,-188.9 M1219.9,-195.4 L1220.2,-196.3 L1223.7,-207.8 L1224.6,-210.9 M1226.4,-217.4 L1227.1,-219.6 L1230.5,-231.9 L1230.7,-232.9 M1232.5,-239.4 L1233.9,-244.7 L1236.4,-254.9 M1238.0,-261.4 L1240.4,-271.7 L1241.5,-276.9 M1242.9,-283.4 L1243.5,-286.1 L1245.9,-298.9" stroke="#c98890" stroke-width="1"/>
<path d="M-31.9,25.8 L-12.5,18.8 L6.7,11.9 L25.8,5.2 L44.8,-1.4 L63.5,-7.8 L82.2,-14.1 L100.7,-20.3 L119.1,-26.3 L137.4,-32.2 L155.5,-38.0 L173.5,-43.7 L191.4,-49.2 L209.1,-54.6 L226.8,-59.9 L244.3,-65.1 L261.7,-70.2 L279.0,-75.1 L296.2,-80.0 L313.3,-84.7 L330.3,-89.4 L347.2,-93.9 L364.0,-98.4 L380.7,-102.7 L397.3,-107.0 L413.8,-111.1 L430.2,-115.2 L446.5,-119.2 L462.7,-123.0 L478.8,-126.8 L494.9,-130.5 L510.9,-134.2 L526.7,-137.7 L542.5,-141.2 L558.2,-144.5 L573.9,-147.8 L589.4,-151.1 L604.9,-154.2 L620.3,-157.3 L635.7,-160.3 L650.9,-163.2 L666.1,-166.0 L681.2,-168.8 L696.3,-171.5 L711.3,-174.2 L726.2,-176.7 L741.0,-179.2 L755.8,-181.7 L770.5,-184.1 L785.1,-186.4 L799.7,-188.6 L814.3,-190.8 L828.7,-192.9 L843.1,-195.0 L857.5,-197.0 L871.8,-199.0 L886.0,-200.9 L900.2,-202.7 L914.3,-204.5 L928.3,-206.2 L942.3,-207.9 L956.3,-209.5" stroke="#bdbdbd" stroke-width="1.2"/>
<path d="M-46.1,101.5 L-27.5,95.2 L-8.9,89.0 L9.4,83.0 L27.7,77.1 L45.8,71.3 L63.8,65.7 L81.7,60.1 L99.5,54.7 L117.1,49.4 L134.6,44.2 L152.1,39.1 L169.4,34.2 L186.6,29.3 L203.7,24.6 L220.7,19.9 L237.5,15.4 L254.3,10.9 L271.0,6.6 L287.6,2.3 L304.1,-1.8 L320.5,-5.9 L336.8,-9.8 L353.1,-13.7 L369.2,-17.5 L385.2,-21.2 L401.2,-24.9 L417.1,-28.4 L432.9,-31.9 L448.6,-35.2 L464.2,-38.5 L479.8,-41.7 L495.3,-44.9 L510.7,-48.0 L526.0,-51.0 L541.3,-53.9 L556.5,-56.7 L571.6,-59.5 L586.6,-62.2 L601.6,-64.9 L616.5,-67.4 L631.4,-69.9 L646.1,-72.4 L660.8,-74.7 L675.5,-77.1 L690.1,-79.3 L704.6,-81.5 L719.1,-83.6 L733.5,-85.7 L747.8,-87.7 L762.1,-89.6 L776.3,-91.5 L790.5,-93.4 L804.6,-95.2 L818.7,-96.9 L832.7,-98.6 L846.6,-100.2 L860.5,-101.7 L874.4,-103.2 L888.2,-104.7 L901.9,-106.1 L915.6,-107.5 L929.3,-108.8 L942.9,-110.1 L956.4,-111.3" stroke="#bdbdbd" stroke-width="1.2"/>
<path d="M-34.5,176.0 L-16.8,170.6 L0.9,165.3 L18.4,160.1 L35.8,155.0 L53.1,150.1 L70.3,145.2 L87.4,140.5 L104.4,135.8 L121.3,131.3 L138.1,126.8 L154.8,122.5 L171.4,118.2 L187.9,114.1 L204.3,110.0 L220.6,106.0 L236.8,102.2 L253.0,98.4 L269.0,94.7 L285.0,91.0 L300.8,87.5 L316.6,84.0 L332.4,80.7 L348.0,77.4 L363.6,74.1 L379.0,71.0 L394.4,67.9 L409.8,64.9 L425.0,62.0 L440.2,59.2 L455.3,56.4 L470.4,53.7 L485.4,51.0 L500.3,48.5 L515.1,46.0 L529.9,43.5 L544.6,41.1 L559.3,38.8 L573.8,36.6 L588.4,34.4 L602.8,32.3 L617.2,30.2 L631.6,28.2 L645.9,26.2 L660.1,24.3 L674.3,22.5 L688.4,20.7 L702.4,19.0 L716.4,17.3 L730.4,15.7 L744.3,14.1 L758.1,12.6 L771.9,11.2 L785.7,9.8 L799.4,8.4 L813.0,7.1 L826.6,5.8 L840.2,4.6 L853.7,3.4 L867.1,2.3 L880.5,1.3 L893.9,0.2 L907.2,-0.8 L920.5,-1.7 L933.7,-2.6 L946.9,-3.4" stroke="#bdbdbd" stroke-width="1.2"/>
<path d="M-44.7,272.2 L-27.7,267.5 L-10.8,263.0 L6.0,258.6 L22.6,254.2 L39.2,250.0 L55.7,245.8 L72.1,241.7 L88.5,237.8 L104.7,233.9 L120.8,230.1 L136.9,226.4 L152.8,222.8 L168.7,219.2 L184.5,215.8 L200.2,212.4 L215.9,209.1 L231.4,205.9 L246.9,202.7 L262.3,199.7 L277.6,196.7 L292.9,193.7 L308.1,190.9 L323.2,188.1 L338.3,185.4 L353.2,182.8 L368.1,180.2 L383.0,177.7 L397.8,175.2 L412.5,172.9 L427.1,170.6 L441.7,168.3 L456.2,166.1 L470.7,164.0 L485.1,161.9 L499.4,159.9 L513.7,158.0 L528.0,156.1 L542.1,154.2 L556.2,152.5 L570.3,150.7 L584.3,149.1 L598.3,147.4 L612.2,145.9 L626.0,144.4 L639.8,142.9 L653.5,141.5 L667.2,140.1 L680.9,138.8 L694.5,137.6 L708.0,136.3 L721.5,135.2 L735.0,134.1 L748.4,133.0 L761.7,132.0 L775.1,131.0 L788.3,130.0 L801.6,129.1 L814.7,128.3 L827.9,127.5 L841.0,126.7 L854.0,126.0 L867.1,125.3 L880.0,124.7 L893.0,124.1 L905.8,123.5 L918.7,123.0 L931.5,122.5 L944.3,122.1 L957.0,121.7" stroke="#bdbdbd" stroke-width="1.2"/>
<path d="M-38.0,339.3 L-21.6,335.2 L-5.3,331.2 L10.9,327.4 L27.1,323.6 L43.1,319.9 L59.1,316.2 L75.0,312.7 L90.8,309.2 L106.5,305.9 L122.1,302.6 L137.7,299.3 L153.2,296.2 L168.6,293.1 L183.9,290.1 L199.2,287.2 L214.3,284.4 L229.5,281.6 L244.5,278.9 L259.5,276.2 L274.4,273.7 L289.2,271.2 L304.0,268.7 L318.7,266.3 L333.4,264.0 L348.0,261.8 L362.5,259.6 L376.9,257.5 L391.3,255.4 L405.7,253.4 L420.0,251.4 L434.2,249.5 L448.4,247.7 L462.5,245.9 L476.6,244.2 L490.6,242.5 L504.5,240.9 L518.4,239.3 L532.3,237.8 L546.1,236.4 L559.8,235.0 L573.5,233.6 L587.1,232.3 L600.7,231.0 L614.3,229.8 L627.8,228.6 L641.2,227.5 L654.6,226.4 L668.0,225.4 L681.3,224.4 L694.6,223.5 L707.8,222.6 L721.0,221.8 L734.1,220.9 L747.2,220.2 L760.3,219.5 L773.3,218.8 L786.3,218.1 L799.2,217.5 L812.1,217.0 L824.9,216.4 L837.8,216.0 L850.5,215.5 L863.3,215.1 L876.0,214.7 L888.6,214.4 L901.3,214.1 L913.8,213.9 L926.4,213.6 L938.9,213.5 L951.4,213.3" stroke="#bdbdbd" stroke-width="1.2"/>
<path d="M-45.7,396.1 L-29.6,392.3 L-13.6,388.7 L2.2,385.2 L18.0,381.7 L33.8,378.3 L49.4,375.1 L65.0,371.8 L80.4,368.7 L95.8,365.6 L111.2,362.6 L126.4,359.7 L141.6,356.9 L156.7,354.1 L171.8,351.4 L186.8,348.7 L201.7,346.2 L216.5,343.6 L231.3,341.2 L246.0,338.8 L260.7,336.5 L275.2,334.3 L289.8,332.1 L304.2,330.0 L318.6,327.9 L333.0,325.9 L347.3,323.9 L361.5,322.0 L375.7,320.2 L389.8,318.4 L403.8,316.7 L417.8,315.0 L431.8,313.4 L445.7,311.8 L459.5,310.3 L473.3,308.9 L487.1,307.5 L500.8,306.1 L514.4,304.8 L528.0,303.5 L541.6,302.3 L555.1,301.1 L568.5,300.0 L581.9,298.9 L595.3,297.9 L608.6,296.9 L621.9,296.0 L635.1,295.1 L648.3,294.3 L661.4,293.4 L674.5,292.7 L687.6,292.0 L700.6,291.3 L713.6,290.6 L726.5,290.0 L739.4,289.5 L752.2,288.9 L765.0,288.5 L777.8,288.0 L790.6,287.6 L803.3,287.2 L815.9,286.9 L828.5,286.6 L841.1,286.4 L853.7,286.1 L866.2,286.0 L878.7,285.8 L891.1,285.7 L903.5,285.6 L915.9,285.6 L928.3,285.5 L940.6,285.6 L952.8,285.6" stroke="#bdbdbd" stroke-width="1.2"/>
<path d="M-41.4,441.0 L-25.7,437.6 L-10.0,434.3 L5.5,431.1 L21.0,427.9 L36.4,424.9 L51.8,421.9 L67.0,418.9 L82.2,416.1 L97.3,413.3 L112.4,410.6 L127.3,408.0 L142.3,405.4 L157.1,402.9 L171.9,400.4 L186.6,398.1 L201.2,395.8 L215.8,393.5 L230.3,391.3 L244.8,389.2 L259.2,387.1 L273.6,385.1 L287.8,383.2 L302.1,381.3 L316.2,379.4 L330.4,377.7 L344.4,375.9 L358.4,374.3 L372.4,372.6 L386.3,371.1 L400.1,369.6 L413.9,368.1 L427.7,366.7 L441.4,365.3 L455.0,364.0 L468.6,362.8 L482.1,361.5 L495.6,360.4 L509.1,359.3 L522.5,358.2 L535.9,357.2 L549.2,356.2 L562.4,355.2 L575.7,354.3 L588.9,353.5 L602.0,352.7 L615.1,351.9 L628.1,351.2 L641.2,350.5 L654.1,349.9 L667.1,349.3 L680.0,348.7 L692.8,348.2 L705.6,347.7 L718.4,347.3 L731.1,346.8 L743.8,346.5 L756.5,346.2 L769.1,345.9 L781.7,345.6 L794.3,345.4 L806.8,345.2 L819.3,345.0 L831.7,344.9 L844.1,344.8 L856.5,344.8 L868.8,344.8 L881.2,344.8 L893.4,344.8 L905.7,344.9 L917.9,345.1 L930.1,345.2 L942.2,345.4 L954.3,345.6" stroke="#bdbdbd" stroke-width="1.2"/>
<path d="M-42.0,515.3 L-26.7,512.4 L-11.5,509.6 L3.6,506.8 L18.6,504.1 L33.6,501.4 L48.5,498.9 L63.3,496.3 L78.1,493.9 L92.8,491.5 L107.5,489.2 L122.1,487.0 L136.6,484.8 L151.1,482.7 L165.5,480.6 L179.8,478.6 L194.1,476.6 L208.3,474.7 L222.5,472.9 L236.6,471.1 L250.7,469.4 L264.7,467.7 L278.6,466.1 L292.5,464.5 L306.4,463.0 L320.2,461.6 L333.9,460.2 L347.6,458.8 L361.2,457.5 L374.8,456.2 L388.4,455.0 L401.9,453.8 L415.3,452.7 L428.7,451.6 L442.1,450.6 L455.4,449.6 L468.7,448.7 L481.9,447.8 L495.1,447.0 L508.2,446.1 L521.3,445.4 L534.4,444.7 L547.4,444.0 L560.4,443.3 L573.3,442.7 L586.2,442.2 L599.1,441.6 L611.9,441.2 L624.6,440.7 L637.4,440.3 L650.1,439.9 L662.7,439.6 L675.4,439.3 L688.0,439.1 L700.5,438.8 L713.0,438.7 L725.5,438.5 L738.0,438.4 L750.4,438.3 L762.7,438.3 L775.1,438.2 L787.4,438.3 L799.7,438.3 L811.9,438.4 L824.1,438.5 L836.3,438.7 L848.5,438.8 L860.6,439.1 L872.7,439.3 L884.7,439.6 L896.7,439.9 L908.7,440.2 L920.7,440.6 L932.6,441.0 L944.5,441.4 L956.4,441.8" stroke="#bdbdbd" stroke-width="1.2"/>
<path d="M-39.1,573.9 L-24.2,571.4 L-9.4,568.8 L5.4,566.4 L20.1,564.0 L34.8,561.7 L49.3,559.5 L63.9,557.3 L78.3,555.2 L92.7,553.1 L107.1,551.1 L121.4,549.1 L135.6,547.2 L149.8,545.4 L163.9,543.6 L177.9,541.9 L191.9,540.2 L205.9,538.6 L219.8,537.0 L233.6,535.5 L247.4,534.1 L261.2,532.7 L274.9,531.3 L288.5,530.0 L302.1,528.7 L315.7,527.5 L329.2,526.3 L342.6,525.2 L356.0,524.1 L369.4,523.1 L382.7,522.1 L396.0,521.2 L409.2,520.3 L422.4,519.5 L435.5,518.6 L448.6,517.9 L461.7,517.2 L474.7,516.5 L487.7,515.8 L500.6,515.2 L513.5,514.7 L526.3,514.1 L539.2,513.7 L551.9,513.2 L564.7,512.8 L577.4,512.4 L590.0,512.1 L602.7,511.8 L615.2,511.6 L627.8,511.3 L640.3,511.2 L652.8,511.0 L665.2,510.9 L677.6,510.8 L690.0,510.8 L702.4,510.7 L714.7,510.8 L727.0,510.8 L739.2,510.9 L751.4,511.0 L763.6,511.2 L775.7,511.3 L787.9,511.6 L799.9,511.8 L812.0,512.1 L824.0,512.4 L836.0,512.7 L848.0,513.1 L859.9,513.5 L871.8,513.9 L883.7,514.3 L895.6,514.8 L907.4,515.3 L919.2,515.9 L930.9,516.4 L942.7,517.0 L954.4,517.6" stroke="#bdbdbd" stroke-width="1.2"/>
<path d="M-39.3,623.3 L-24.7,621.0 L-10.1,618.7 L4.5,616.5 L18.9,614.4 L33.3,612.3 L47.7,610.3 L62.0,608.4 L76.2,606.5 L90.4,604.6 L104.5,602.9 L118.5,601.1 L132.5,599.5 L146.5,597.8 L160.4,596.3 L174.2,594.8 L188.0,593.3 L201.8,591.9 L215.5,590.5 L229.1,589.2 L242.7,588.0 L256.3,586.7 L269.8,585.6 L283.2,584.5 L296.6,583.4 L310.0,582.4 L323.3,581.4 L336.6,580.4 L349.8,579.5 L363.0,578.7 L376.1,577.9 L389.2,577.1 L402.3,576.4 L415.3,575.7 L428.2,575.1 L441.2,574.5 L454.1,573.9 L466.9,573.4 L479.7,572.9 L492.5,572.5 L505.2,572.0 L517.9,571.7 L530.6,571.3 L543.2,571.1 L555.8,570.8 L568.4,570.6 L580.9,570.4 L593.4,570.2 L605.8,570.1 L618.2,570.0 L630.6,570.0 L643.0,570.0 L655.3,570.0 L667.5,570.0 L679.8,570.1 L692.0,570.2 L704.2,570.4 L716.3,570.6 L728.4,570.8 L740.5,571.0 L752.6,571.3 L764.6,571.6 L776.6,571.9 L788.6,572.3 L800.5,572.7 L812.4,573.1 L824.3,573.6 L836.1,574.0 L848.0,574.6 L859.8,575.1 L871.5,575.7 L883.3,576.2 L895.0,576.9 L906.6,577.5 L918.3,578.2 L929.9,578.9 L941.5,579.6 L953.1,580.3" stroke="#bdbdbd" stroke-width="1.2"/>
<path d="M-45.8,666.6 L-31.3,664.5 L-16.9,662.4 L-2.6,660.4 L11.7,658.4 L25.9,656.6 L40.1,654.7 L54.2,652.9 L68.3,651.2 L82.3,649.5 L96.2,647.9 L110.1,646.4 L124.0,644.8 L137.8,643.4 L151.5,642.0 L165.2,640.6 L178.9,639.3 L192.5,638.0 L206.0,636.8 L219.5,635.7 L233.0,634.5 L246.4,633.5 L259.7,632.4 L273.1,631.5 L286.3,630.5 L299.5,629.6 L312.7,628.8 L325.9,628.0 L339.0,627.2 L352.0,626.5 L365.0,625.8 L378.0,625.1 L390.9,624.5 L403.8,624.0 L416.7,623.5 L429.5,623.0 L442.3,622.5 L455.0,622.1 L467.7,621.8 L480.4,621.4 L493.0,621.1 L505.6,620.9 L518.1,620.7 L530.7,620.5 L543.1,620.3 L555.6,620.2 L568.0,620.1 L580.4,620.1 L592.7,620.1 L605.0,620.1 L617.3,620.1 L629.5,620.2 L641.8,620.3 L653.9,620.5 L666.1,620.7 L678.2,620.9 L690.3,621.1 L702.3,621.4 L714.4,621.7 L726.4,622.0 L738.3,622.4 L750.3,622.8 L762.2,623.2 L774.1,623.7 L785.9,624.1 L797.7,624.6 L809.5,625.2 L821.3,625.7 L833.0,626.3 L844.7,626.9 L856.4,627.6 L868.1,628.3 L879.7,629.0 L891.3,629.7 L902.9,630.4 L914.4,631.2 L926.0,632.0 L937.5,632.8 L948.9,633.7" stroke="#bdbdbd" stroke-width="1.2"/>
<path d="M-37.3,719.6 L-23.2,717.8 L-9.0,716.0 L5.0,714.3 L19.0,712.6 L33.0,711.0 L46.9,709.4 L60.7,707.9 L74.5,706.5 L88.3,705.1 L102.0,703.7 L115.6,702.4 L129.2,701.1 L142.7,699.9 L156.2,698.7 L169.7,697.6 L183.1,696.5 L196.5,695.5 L209.8,694.5 L223.0,693.6 L236.3,692.7 L249.5,691.8 L262.6,691.0 L275.7,690.3 L288.8,689.6 L301.8,688.9 L314.7,688.2 L327.7,687.6 L340.6,687.1 L353.4,686.5 L366.2,686.1 L379.0,685.6 L391.7,685.2 L404.4,684.8 L417.1,684.5 L429.7,684.2 L442.3,684.0 L454.9,683.7 L467.4,683.6 L479.9,683.4 L492.3,683.3 L504.7,683.2 L517.1,683.2 L529.4,683.1 L541.8,683.2 L554.0,683.2 L566.3,683.3 L578.5,683.4 L590.7,683.6 L602.8,683.7 L614.9,684.0 L627.0,684.2 L639.1,684.5 L651.1,684.8 L663.1,685.1 L675.1,685.5 L687.0,685.9 L698.9,686.3 L710.8,686.7 L722.6,687.2 L734.4,687.7 L746.2,688.3 L758.0,688.8 L769.7,689.4 L781.5,690.0 L793.1,690.7 L804.8,691.3 L816.4,692.0 L828.0,692.8 L839.6,693.5 L851.2,694.3 L862.7,695.1 L874.2,695.9 L885.7,696.8 L897.1,697.6 L908.5,698.5 L920.0,699.5 L931.3,700.4 L942.7,701.4 L954.0,702.4" stroke="#bdbdbd" stroke-width="1.2"/>
<path d="M-47.9,767.1 L-33.9,765.4 L-20.0,763.8 L-6.1,762.2 L7.8,760.7 L21.6,759.3 L35.3,757.9 L49.0,756.5 L62.6,755.2 L76.2,753.9 L89.8,752.7 L103.3,751.5 L116.7,750.4 L130.1,749.3 L143.5,748.3 L156.8,747.3 L170.1,746.4 L183.3,745.5 L196.5,744.6 L209.6,743.8 L222.7,743.1 L235.8,742.4 L248.8,741.7 L261.8,741.0 L274.7,740.4 L287.6,739.9 L300.5,739.3 L313.3,738.9 L326.0,738.4 L338.8,738.0 L351.5,737.6 L364.1,737.3 L376.8,737.0 L389.4,736.8 L401.9,736.5 L414.4,736.4 L426.9,736.2 L439.3,736.1 L451.8,736.0 L464.1,736.0 L476.5,735.9 L488.8,736.0 L501.1,736.0 L513.3,736.1 L525.5,736.2 L537.7,736.4 L549.9,736.5 L562.0,736.8 L574.1,737.0 L586.1,737.3 L598.1,737.6 L610.1,737.9 L622.1,738.3 L634.0,738.7 L645.9,739.1 L657.8,739.5 L669.7,740.0 L681.5,740.5 L693.3,741.1 L705.0,741.6 L716.8,742.2 L728.5,742.8 L740.2,743.5 L751.8,744.1 L763.5,744.8 L775.1,745.6 L786.6,746.3 L798.2,747.1 L809.7,747.9 L821.2,748.7 L832.7,749.6 L844.2,750.4 L855.6,751.3 L867.0,752.3 L878.4,753.2 L889.7,754.2 L901.1,755.2 L912.4,756.2 L923.6,757.2 L934.9,758.3 L946.1,759.4 L957.4,760.5" stroke="#bdbdbd" stroke-width="1.2"/>
<path d="M-49.8,781.3 L-35.9,779.7 L-22.0,778.1 L-8.1,776.6 L5.7,775.1 L19.4,773.7 L33.1,772.3 L46.7,771.0 L60.3,769.8 L73.9,768.6 L87.4,767.4 L100.8,766.3 L114.2,765.2 L127.6,764.2 L140.9,763.2 L154.2,762.2 L167.4,761.4 L180.6,760.5 L193.7,759.7 L206.8,758.9 L219.9,758.2 L232.9,757.5 L245.9,756.9 L258.8,756.3 L271.7,755.7 L284.6,755.2 L297.4,754.7 L310.1,754.3 L322.9,753.9 L335.6,753.5 L348.2,753.2 L360.9,752.9 L373.5,752.6 L386.0,752.4 L398.5,752.2 L411.0,752.1 L423.4,751.9 L435.9,751.9 L448.2,751.8 L460.6,751.8 L472.9,751.8 L485.2,751.9 L497.4,751.9 L509.6,752.1 L521.8,752.2 L534.0,752.4 L546.1,752.6 L558.2,752.8 L570.2,753.1 L582.2,753.4 L594.2,753.8 L606.2,754.1 L618.1,754.5 L630.0,754.9 L641.9,755.4 L653.8,755.9 L665.6,756.4 L677.4,756.9 L689.1,757.5 L700.9,758.1 L712.6,758.7 L724.3,759.3 L735.9,760.0 L747.6,760.7 L759.2,761.4 L770.7,762.2 L782.3,762.9 L793.8,763.7 L805.3,764.6 L816.8,765.4 L828.3,766.3 L839.7,767.2 L851.1,768.1 L862.5,769.1 L873.8,770.0 L885.2,771.0 L896.5,772.0 L907.7,773.1 L919.0,774.1 L930.2,775.2 L941.5,776.3 L952.7,777.5" stroke="#bdbdbd" stroke-width="1.2"/>
<path d="M427.6,751.9 L434.5,745.0 M437.8,741.7 L445.5,734.0 M448.8,730.7 L456.5,723.0 M459.8,719.7 L467.5,712.0 M470.8,708.7 L478.5,701.0 M481.8,697.7 L489.5,690.0 M492.8,686.7 L500.5,679.0 M503.8,675.7 L511.5,668.0 M514.8,664.7 L522.5,657.0 M525.8,653.7 L533.5,646.0 M536.8,642.7 L544.5,635.0 M547.8,631.7 L555.5,624.0 M558.8,620.7 L566.5,613.0 M569.8,609.7 L577.5,602.0 M580.8,598.7 L588.5,591.0 M591.8,587.7 L599.5,580.0 M602.8,576.7 L610.5,569.0 M613.8,565.7 L621.5,558.0 M624.8,554.7 L632.5,547.0 M635.8,543.7 L643.5,536.0 M646.8,532.7 L654.5,525.0 M657.8,521.7 L665.5,514.0 M668.8,510.7 L676.5,503.0 M679.8,499.7 L687.5,492.0 M690.8,488.7 L698.5,481.0 M701.8,477.7 L709.5,470.0 M712.8,466.7 L720.5,459.0 M723.8,455.7 L731.5,448.0 M734.8,444.7 L742.5,437.0 M745.8,433.7 L753.5,426.0 M756.8,422.7 L764.5,415.0 M767.8,411.7 L775.5,404.0 M778.8,400.7 L786.5,393.0 M789.8,389.7 L797.5,382.0 M800.8,378.7 L808.5,371.0 M811.8,367.7 L819.5,360.0 M822.8,356.7 L830.5,349.0 M833.8,345.7 L841.5,338.0 M844.8,334.7 L852.5,327.0 M855.8,323.7 L863.5,316.0 M866.8,312.7 L874.5,305.1 M877.8,301.8 L885.5,294.1 M888.8,290.8 L893.0,286.5" stroke="#6a6ad4" stroke-width="1"/>
<path d="M43.8,356.0 L50.5,354.6 M53.8,353.9 L54.3,353.8 L61.5,352.2 M64.8,351.5 L72.5,349.9 M75.8,349.2 L83.5,347.6 M86.8,347.0 L94.5,345.4 M97.8,344.7 L105.5,343.1 M108.8,342.5 L116.5,341.0 L116.5,340.9 M119.8,340.3 L126.7,338.9 L127.5,338.8 M130.8,338.1 L136.9,336.9 L138.5,336.6 M141.8,336.0 L147.1,335.0 L149.5,334.5 M152.8,333.9 L157.3,333.1 L160.5,332.5 M163.8,331.8 L167.4,331.2 L171.5,330.4 M174.8,329.8 L177.5,329.3 L182.5,328.4 M185.8,327.8 L187.5,327.5 L193.5,326.4 M196.8,325.8 L197.5,325.7 L204.5,324.5 M207.8,323.9 L215.5,322.5 M218.8,322.0 L226.5,320.6 M229.8,320.1 L237.3,318.8 L237.5,318.8 M240.8,318.2 L247.2,317.1 L248.5,316.9 M251.8,316.4 L257.0,315.5 L259.5,315.1 M262.8,314.6 L266.9,313.9 L270.5,313.4 M273.8,312.8 L276.7,312.4 L281.5,311.6 M284.8,311.1 L286.4,310.8 L292.5,309.9 M295.8,309.4 L296.1,309.3 L303.5,308.2 M306.8,307.7 L314.5,306.6 M317.8,306.1 L325.2,305.0 L325.5,304.9 M328.8,304.4 L334.8,303.6 L336.5,303.3 M339.8,302.9 L344.4,302.2 L347.5,301.8 M350.8,301.3 L354.0,300.9 L358.5,300.2 M361.8,299.8 L363.5,299.5 L369.5,298.7 M372.8,298.3 L373.0,298.2 L380.5,297.2 M383.8,296.8 L391.5,295.8 M394.8,295.4 L401.4,294.5 L402.5,294.4 M405.8,294.0 L410.8,293.3 L413.5,293.0 M416.8,292.6 L420.2,292.2 L424.5,291.6 M427.8,291.2 L429.6,291.0 L435.5,290.3 M438.8,289.9 L438.9,289.9 L446.5,289.0 M449.8,288.6 L457.5,287.7 M460.8,287.4 L466.8,286.7 L468.5,286.5 M471.8,286.1 L476.1,285.7 L479.5,285.3 M482.8,284.9 L485.3,284.6 L490.5,284.1 M493.8,283.7 L494.5,283.7 L501.5,282.9 M504.8,282.6 L512.5,281.8 M515.8,281.5 L522.0,280.9 L523.5,280.7 M526.8,280.4 L531.1,280.0 L534.5,279.6 M537.8,279.3 L540.2,279.1 L545.5,278.6 M548.8,278.3 L549.2,278.3 L556.5,277.6 M559.8,277.3 L567.3,276.6 L567.5,276.6 M570.8,276.3 L576.3,275.8 L578.5,275.7 M581.8,275.4 L585.3,275.1 L589.5,274.7 M592.8,274.5 L594.3,274.3 L600.5,273.8 M603.8,273.6 L611.5,273.0 M614.8,272.7 L621.0,272.2 L622.5,272.1 M625.8,271.9 L629.9,271.6 L633.5,271.3 M636.8,271.1 L638.8,270.9 L644.5,270.5 M647.8,270.3 L655.5,269.8 M658.8,269.6 L665.2,269.1 L666.5,269.1 M669.8,268.8 L674.0,268.6 L677.5,268.4 M680.8,268.2 L682.8,268.0 L688.5,267.7 M691.8,267.5 L699.5,267.0 M702.8,266.9 L709.0,266.5 L710.5,266.4 M713.8,266.3 L717.7,266.0 L721.5,265.8 M724.8,265.7 L726.3,265.6 L732.5,265.3 M735.8,265.1 L743.5,264.8 M746.8,264.6 L752.2,264.3 L754.5,264.3 M757.8,264.1 L760.8,264.0 L765.5,263.8 M768.8,263.6 L769.4,263.6 L776.5,263.3 M779.8,263.2 L786.5,262.9 L787.5,262.9 M790.8,262.8 L795.1,262.6 L798.5,262.5 M801.8,262.4 L803.6,262.3 L809.5,262.1 M812.8,262.0 L820.5,261.8 M823.8,261.7 L829.0,261.6 L831.5,261.5 M834.8,261.4 L837.5,261.3 L842.5,261.2 M845.8,261.1 L845.9,261.1 L853.5,261.0 M856.8,260.9 L862.7,260.8 L864.5,260.7 M867.8,260.7 L871.1,260.6 L875.5,260.5 M878.8,260.5 L879.4,260.5 L886.5,260.4 M889.8,260.3 L896.1,260.2 L897.5,260.2 M900.8,260.2 L904.4,260.1 L908.5,260.1 M911.8,260.1 L912.7,260.0 L919.5,260.0 M922.8,260.0 L929.3,259.9 L930.5,259.9 M933.8,259.9 L937.6,259.9 L941.5,259.9 M944.8,259.9 L945.8,259.9 L952.5,259.9 M955.8,259.9 L962.2,259.9 L963.5,259.9 M966.8,259.9 L970.4,259.9 L974.5,259.9 M977.8,259.9 L978.6,259.9 L985.5,260.0 M988.8,260.0 L994.9,260.1 L996.5,260.1 M999.8,260.1 L1003.1,260.1 L1007.5,260.2 M1010.8,260.2 L1011.2,260.2 L1018.5,260.3 M1021.8,260.4 L1027.4,260.5 L1029.5,260.5 M1032.8,260.6 L1035.5,260.6 L1040.5,260.7 M1043.8,260.8 L1051.5,260.9 M1054.8,261.0 L1059.6,261.1 L1062.5,261.2 M1065.8,261.2 L1067.7,261.3 L1073.5,261.4 M1076.8,261.5 L1083.7,261.7 L1084.5,261.7 M1087.8,261.8 L1091.7,261.9 L1095.5,262.1 M1098.8,262.2 L1099.6,262.2 L1106.5,262.4 M1109.8,262.5 L1115.5,262.7 L1117.5,262.8 M1120.8,262.9 L1123.5,263.0 L1128.5,263.2 M1131.8,263.3 L1139.3,263.6 L1139.5,263.6 M1142.8,263.8 L1147.2,263.9 L1150.5,264.1 M1153.8,264.2 L1155.1,264.3 L1161.5,264.6 M1164.8,264.7 L1170.8,265.0 L1172.5,265.1 M1175.8,265.2 L1178.7,265.3 L1183.5,265.6 M1186.8,265.7 L1194.3,266.1 L1194.5,266.1 M1197.8,266.3 L1202.1,266.5 L1205.5,266.7 M1208.8,266.9 L1209.9,267.0 L1216.5,267.3 M1219.8,267.5 L1225.5,267.8 L1227.5,268.0 M1230.8,268.1 L1233.2,268.3" stroke="#ee8a8a" stroke-width="1.15"/>
<path d="M1222.3,-503.3 L431.6,284.9 L560.2,736.7 L578.9,790" stroke="#858585" stroke-width="1.6"/>
</g>
<defs><linearGradient id="g" gradientUnits="userSpaceOnUse" x1="442.2" y1="737.4" x2="522.4" y2="657.4"><stop offset="0" stop-color="#5ad040"/><stop offset="0.3" stop-color="#5cc03a"/><stop offset="0.5" stop-color="#8c8a28"/><stop offset="0.72" stop-color="#8a8a2a"/><stop offset="0.9" stop-color="#60c040"/><stop offset="1" stop-color="#70d860"/></linearGradient></defs>
<path d="M443.7,738.9 L447.7,736.2 L451.2,733.0 L454.7,729.8 L458.1,726.6 L461.5,723.3 L464.9,720.1 L468.3,716.8 L471.7,713.5 L475.0,710.2 L478.4,706.9 L481.8,703.5 L485.1,700.2 L488.4,696.9 L491.8,693.5 L495.1,690.2 L498.4,686.8 L501.7,683.5 L505.0,680.1 L508.3,676.7 L511.6,673.3 L514.8,669.9 L518.0,666.4 L521.2,662.9 L523.9,659.0 L520.8,655.8 L516.9,658.6 L513.3,661.7 L509.9,664.9 L506.5,668.2 L503.0,671.4 L499.6,674.7 L496.3,678.0 L492.9,681.3 L489.5,684.6 L486.2,687.9 L482.8,691.2 L479.5,694.5 L476.1,697.9 L472.8,701.2 L469.5,704.6 L466.2,707.9 L462.8,711.3 L459.6,714.7 L456.3,718.1 L453.0,721.5 L449.7,724.9 L446.5,728.3 L443.4,731.8 L440.6,735.8Z" fill="#8ae47c" opacity="0.6"/>
<path d="M443.0,738.2 L446.8,735.3 L450.3,732.1 L453.7,728.9 L457.1,725.6 L460.5,722.3 L463.9,719.0 L467.3,715.7 L470.6,712.4 L474.0,709.1 L477.4,705.8 L480.7,702.5 L484.0,699.1 L487.4,695.8 L490.7,692.5 L494.0,689.1 L497.4,685.8 L500.7,682.4 L504.0,679.1 L507.3,675.7 L510.6,672.3 L513.9,668.9 L517.1,665.5 L520.3,662.0 L523.2,658.3 L521.5,656.6 L517.7,659.4 L514.3,662.6 L510.8,665.9 L507.4,669.2 L504.1,672.4 L500.7,675.7 L497.3,679.0 L493.9,682.3 L490.6,685.6 L487.2,689.0 L483.9,692.3 L480.5,695.6 L477.2,698.9 L473.8,702.3 L470.5,705.6 L467.2,709.0 L463.9,712.3 L460.6,715.7 L457.3,719.1 L454.0,722.5 L450.7,725.8 L447.4,729.3 L444.2,732.7 L441.3,736.5Z" fill="url(#g)"/>
<path d="M693.1,0.0 C690.6,5.0 680.6,24.9 678.1,29.9 C673.7,36.2 656.0,61.2 651.6,67.5 C647.5,71.2 635.3,82.8 626.9,89.7 C618.5,96.6 612.8,100.6 601.0,109.0 C589.2,117.4 568.2,130.9 556.4,140.0 C544.6,149.1 540.5,152.4 530.0,163.5 C519.5,174.6 504.1,195.9 493.4,206.6 C482.6,217.3 474.4,220.5 465.5,227.5 C456.6,234.5 448.4,240.7 439.9,248.5 C431.3,256.3 422.2,266.3 414.2,274.1 C406.2,281.9 397.9,288.5 392.1,295.1 C386.3,301.7 382.0,308.2 379.3,313.7 C376.6,319.2 376.3,321.8 376.0,328.0 C375.7,334.2 376.7,343.1 377.3,351.1 C377.9,359.1 378.7,368.8 379.5,376.0 C380.3,383.2 380.6,388.9 382.0,394.6 C383.4,400.3 385.3,404.4 388.2,410.1 C391.1,415.8 396.0,423.1 399.1,428.8 C402.2,434.5 405.0,439.1 406.8,444.3 C408.6,449.5 409.6,454.7 409.9,459.9 C410.2,465.1 409.4,469.7 408.4,475.4 C407.4,481.1 404.8,487.9 403.7,494.1 C402.6,500.3 401.8,506.5 401.5,512.7 C401.2,518.9 402.1,524.2 402.2,531.4 C402.2,538.6 402.4,549.2 401.8,555.9 C401.2,562.6 398.8,565.6 398.6,571.8 C398.4,578.0 400.1,585.0 400.5,593.0 C400.9,601.0 400.9,610.8 401.3,619.6 C401.8,628.5 402.2,638.2 403.2,646.1 C404.2,654.0 405.1,660.7 407.1,667.3 C409.1,673.9 411.6,680.0 415.1,685.9 C418.6,691.8 424.6,698.0 428.0,702.5 C431.4,707.0 433.9,709.9 435.4,713.2 C436.9,716.5 436.4,719.3 437.2,722.2 C438.0,725.1 439.2,728.5 440.3,730.8 C441.4,733.1 443.2,735.2 443.8,736.1 C443.1,736.5 440.2,738.2 439.5,738.6" fill="none" stroke="#000" stroke-width="2.2" stroke-linejoin="round"/>
<path d="M475.3,0.0 C448.4,33.3 341.1,166.7 314.2,200.0 C310.1,205.4 293.9,226.9 289.9,232.3 C288.8,236.1 284.6,251.2 283.5,255.0 C284.6,258.2 287.2,267.4 289.9,274.4 C292.6,281.4 297.2,290.0 299.6,297.0 C302.0,304.0 303.1,309.4 304.5,316.4 C305.9,323.4 308.0,330.9 307.7,339.0 C307.4,347.1 304.5,356.8 302.9,364.9 C301.3,373.0 298.3,379.7 298.0,387.5 C297.7,395.3 301.2,405.3 301.2,411.8 C301.2,418.3 299.7,422.0 298.0,426.3 C296.3,430.6 294.8,433.7 291.1,437.8 C287.4,441.9 283.2,445.7 275.6,451.1 C268.0,456.5 255.4,463.7 245.6,470.0 C235.8,476.3 223.8,483.3 216.7,488.9 C209.6,494.4 206.3,498.3 203.3,503.3 C200.3,508.3 199.1,514.3 198.9,518.9 C198.7,523.5 200.7,527.2 202.2,531.1 C203.7,535.0 206.7,537.8 207.8,542.2 C208.9,546.7 208.7,555.2 208.9,557.8 C211.7,558.6 222.8,561.9 225.6,562.7 C234.5,563.2 261.1,564.7 278.9,565.6 C296.7,566.5 316.6,567.1 332.2,568.2 C347.8,569.3 365.5,571.5 372.2,572.2 C372.5,572.4 373.0,570.6 374.0,573.2 C375.0,575.8 376.8,581.7 378.0,587.7 C379.2,593.7 380.2,601.9 381.1,609.0 C382.0,616.1 382.1,623.1 383.3,630.2 C384.6,637.3 386.6,644.8 388.6,651.4 C390.6,658.0 394.3,664.2 395.2,670.0 C396.1,675.8 395.0,681.0 393.9,685.9 C392.8,690.8 390.8,695.2 388.6,699.2 C386.4,703.2 381.5,706.7 380.6,709.8 C379.7,712.9 381.3,715.3 383.3,717.7 C385.3,720.1 390.1,722.4 392.5,724.4 C394.9,726.4 397.2,727.7 397.9,729.7 C398.6,731.7 397.1,734.8 396.5,736.3 C395.9,737.8 394.8,738.0 394.4,738.4" fill="none" stroke="#dd1111" stroke-width="2.2" stroke-linejoin="round"/>
<path d="M803.0,7.6 L782.4,12.8" stroke="#000" stroke-width="1.1" fill="none"/>
<path d="M782.4,12.8 L780.9,4.6 L787.8,11.4Z" fill="#000" stroke="#000" stroke-width="0.4"/>
<path d="M789.7,11.0 L786.4,7.2" stroke="#000" stroke-width="1.1"/>
<path d="M804.4,216.4 L783.1,224.3" stroke="#000" stroke-width="1.1" fill="none"/>
<path d="M783.1,224.3 L780.8,216.3 L788.4,222.4Z" fill="#000" stroke="#000" stroke-width="0.4"/>
<path d="M790.1,221.7 L782.9,215.1" stroke="#000" stroke-width="1.1"/>
<path d="M793.3,220.5 L786.1,213.9" stroke="#000" stroke-width="1.1"/>
<path d="M796.5,219.3 L789.3,212.7" stroke="#000" stroke-width="1.1"/>
<path d="M799.7,218.1 L792.5,211.5" stroke="#000" stroke-width="1.1"/>
<path d="M796.0,264.8 L783.3,270.4" stroke="#000" stroke-width="1.1" fill="none"/>
<path d="M783.3,270.4 L780.5,262.6 L788.4,268.1Z" fill="#000" stroke="#000" stroke-width="0.4"/>
<path d="M788.4,268.1 L785.6,260.3 L793.5,265.9Z" fill="#000" stroke="#000" stroke-width="0.4"/>
<path d="M795.3,265.1 L791.4,262.0" stroke="#000" stroke-width="1.1"/>
<path d="M804.4,345.5 L784.5,356.5" stroke="#000" stroke-width="1.1" fill="none"/>
<path d="M784.5,356.5 L781.0,349.0 L789.4,353.8Z" fill="#000" stroke="#000" stroke-width="0.4"/>
<path d="M789.4,353.8 L785.9,346.3 L794.3,351.1Z" fill="#000" stroke="#000" stroke-width="0.4"/>
<path d="M796.0,350.2 L787.8,344.7" stroke="#000" stroke-width="1.1"/>
<path d="M798.9,348.5 L790.8,343.0" stroke="#000" stroke-width="1.1"/>
<path d="M804.4,439.1 L785.6,452.3" stroke="#000" stroke-width="1.1" fill="none"/>
<path d="M785.6,452.3 L781.3,445.2 L790.2,449.1Z" fill="#000" stroke="#000" stroke-width="0.4"/>
<path d="M790.2,449.1 L785.9,442.0 L794.8,445.9Z" fill="#000" stroke="#000" stroke-width="0.4"/>
<path d="M796.3,444.8 L791.9,442.4" stroke="#000" stroke-width="1.1"/>
<path d="M804.4,512.7 L783.6,523.6" stroke="#000" stroke-width="1.1" fill="none"/>
<path d="M783.6,523.6 L780.3,516.0 L788.6,521.0Z" fill="#000" stroke="#000" stroke-width="0.4"/>
<path d="M790.2,520.1 L782.2,514.4" stroke="#000" stroke-width="1.1"/>
<path d="M793.3,518.5 L785.3,512.9" stroke="#000" stroke-width="1.1"/>
<path d="M796.3,517.0 L788.3,511.3" stroke="#000" stroke-width="1.1"/>
<path d="M799.3,515.4 L791.3,509.7" stroke="#000" stroke-width="1.1"/>
<path d="M804.6,626.2 L784.6,637.8" stroke="#000" stroke-width="1.1" fill="none"/>
<path d="M784.6,637.8 L776.4,632.5" stroke="#000" stroke-width="1.1"/>
<path d="M787.5,636.1 L779.3,630.8" stroke="#000" stroke-width="1.1"/>
<path d="M790.5,634.4 L782.3,629.1" stroke="#000" stroke-width="1.1"/>
<path d="M793.4,632.7 L785.2,627.4" stroke="#000" stroke-width="1.1"/>
<path d="M796.4,631.0 L792.2,628.3" stroke="#000" stroke-width="1.1"/>
<path d="M804.7,693.6 L785.3,681.6" stroke="#000" stroke-width="1.1" fill="none"/>
<path d="M785.3,681.6 L785.3,671.8" stroke="#000" stroke-width="1.1"/>
<path d="M788.2,683.4 L788.1,673.6" stroke="#000" stroke-width="1.1"/>
<path d="M791.1,685.2 L791.1,680.2" stroke="#000" stroke-width="1.1"/>
<path d="M804.7,722.3 L783.4,713.4" stroke="#000" stroke-width="1.1" fill="none"/>
<path d="M783.4,713.4 L781.8,703.7" stroke="#000" stroke-width="1.1"/>
<path d="M786.5,714.7 L784.9,705.0" stroke="#000" stroke-width="1.1"/>
<path d="M804.2,748.7 L812.4,766.2 M809.6,771.2 L812.4,766.2 L814.8,771.2" stroke="#000" stroke-width="1.1" fill="none"/>
<path d="M804.7,252.8 L813.3,261.5 L804.9,269.8 L796,261.6 Z" fill="none" stroke="#555" stroke-width="1"/>
<text x="804.9" y="265" font-size="9" font-weight="bold" fill="#444" text-anchor="middle">T</text>
<text x="36.0" y="9.9" font-size="10" font-weight="normal" text-anchor="end" fill="#000">63090ft</text>
<text x="36.0" y="78.0" font-size="10" font-weight="normal" text-anchor="end" fill="#000">56865ft</text>
<text x="36.0" y="158.6" font-size="10" font-weight="normal" text-anchor="end" fill="#000">50005ft</text>
<text x="36.0" y="254.6" font-size="10" font-weight="normal" text-anchor="end" fill="#000">41985ft</text>
<text x="36.0" y="325.4" font-size="10" font-weight="normal" text-anchor="end" fill="#000">36290ft</text>
<text x="36.0" y="381.8" font-size="10" font-weight="normal" text-anchor="end" fill="#000">31850ft</text>
<text x="36.0" y="428.9" font-size="10" font-weight="normal" text-anchor="end" fill="#000">28130ft</text>
<text x="36.0" y="505.1" font-size="10" font-weight="normal" text-anchor="end" fill="#000">21985ft</text>
<text x="36.0" y="565.7" font-size="10" font-weight="normal" text-anchor="end" fill="#000">16980ft</text>
<text x="36.0" y="616.2" font-size="10" font-weight="normal" text-anchor="end" fill="#000">12745ft</text>
<text x="36.0" y="659.5" font-size="10" font-weight="normal" text-anchor="end" fill="#000">9070ft</text>
<text x="36.0" y="715.0" font-size="10" font-weight="normal" text-anchor="end" fill="#000">4330ft</text>
<text x="36.0" y="762.2" font-size="10" font-weight="normal" text-anchor="end" fill="#000">250ft</text>
<text x="40.5" y="153.2" font-size="10" font-weight="normal" text-anchor="start" fill="#000">100[hPa]</text>
<text x="40.5" y="249.8" font-size="10" font-weight="normal" text-anchor="start" fill="#000">150[hPa]</text>
<text x="40.5" y="321.1" font-size="10" font-weight="normal" text-anchor="start" fill="#000">200[hPa]</text>
<text x="40.5" y="377.9" font-size="10" font-weight="normal" text-anchor="start" fill="#000">250[hPa]</text>
<text x="40.5" y="425.4" font-size="10" font-weight="normal" text-anchor="start" fill="#000">300[hPa]</text>
<text x="40.5" y="502.0" font-size="10" font-weight="normal" text-anchor="start" fill="#000">400[hPa]</text>
<text x="40.5" y="563.0" font-size="10" font-weight="normal" text-anchor="start" fill="#000">500[hPa]</text>
<text x="40.5" y="613.7" font-size="10" font-weight="normal" text-anchor="start" fill="#000">600[hPa]</text>
<text x="40.5" y="657.3" font-size="10" font-weight="normal" text-anchor="start" fill="#000">700[hPa]</text>
<text x="40.5" y="713.1" font-size="10" font-weight="normal" text-anchor="start" fill="#000">850[hPa]</text>
<text x="40.5" y="760.5" font-size="10" font-weight="normal" text-anchor="start" fill="#000">1000[hPa]</text>
<text x="40.5" y="768.0" font-size="10" font-weight="normal" text-anchor="start" fill="#000">1050[hPa]</text>
<text x="267.0" y="10.6" font-size="10" font-weight="normal" text-anchor="start" fill="#000">[hPa]</text>
<text x="797.3" y="10.8" font-size="10" font-weight="normal" text-anchor="start" fill="#000">100[hPa]</text>
<text x="898.5" y="45.7" font-size="10" font-weight="normal" text-anchor="end" fill="#000">-30</text>
<text x="898.5" y="127.7" font-size="10" font-weight="normal" text-anchor="end" fill="#000">-20</text>
<text x="898.5" y="209.8" font-size="10" font-weight="normal" text-anchor="end" fill="#000">-10</text>
<text x="898.5" y="287.4" font-size="10" font-weight="normal" text-anchor="end" fill="#000">0</text>
<text x="898.5" y="372.3" font-size="10" font-weight="normal" text-anchor="end" fill="#000">10</text>
<text x="898.5" y="454.3" font-size="10" font-weight="normal" text-anchor="end" fill="#000">20</text>
<text x="898.5" y="536.4" font-size="10" font-weight="normal" text-anchor="end" fill="#000">30</text>
<text x="898.5" y="618.5" font-size="10" font-weight="normal" text-anchor="end" fill="#000">40</text>
<text x="898.5" y="700.5" font-size="10" font-weight="normal" text-anchor="end" fill="#000">50</text>
<text x="83.9" y="772.4" font-size="10" font-weight="normal" text-anchor="middle" fill="#000">-40</text>
<text x="172.8" y="765.7" font-size="10" font-weight="normal" text-anchor="middle" fill="#000">-30</text>
<text x="259.8" y="760.9" font-size="10" font-weight="normal" text-anchor="middle" fill="#000">-20</text>
<text x="345.0" y="757.9" font-size="10" font-weight="normal" text-anchor="middle" fill="#000">-10</text>
<text x="428.6" y="756.5" font-size="10" font-weight="normal" text-anchor="middle" fill="#000">0</text>
<text x="510.6" y="756.7" font-size="10" font-weight="normal" text-anchor="middle" fill="#000">10</text>
<text x="591.2" y="758.2" font-size="10" font-weight="normal" text-anchor="middle" fill="#000">20</text>
<text x="670.5" y="761.1" font-size="10" font-weight="normal" text-anchor="middle" fill="#000">30</text>
<text x="748.6" y="765.3" font-size="10" font-weight="normal" text-anchor="middle" fill="#000">40</text>
<text x="825.4" y="770.6" font-size="10" font-weight="normal" text-anchor="middle" fill="#000">50</text>
<text transform="translate(92.2,767.0) rotate(-53.1)" x="0" y="3.5" font-size="10">0.125</text>
<text transform="translate(154.2,762.2) rotate(-53.7)" x="0" y="3.5" font-size="10">0.25</text>
<text transform="translate(219.6,758.2) rotate(-54.4)" x="0" y="3.5" font-size="10">0.5</text>
<text transform="translate(288.5,755.0) rotate(-55.1)" x="0" y="3.5" font-size="10">1</text>
<text transform="translate(361.5,752.9) rotate(-56.0)" x="0" y="3.5" font-size="10">2</text>
<text transform="translate(438.7,751.8) rotate(-57.0)" x="0" y="3.5" font-size="10">4</text>
<text transform="translate(520.8,752.2) rotate(-58.1)" x="0" y="3.5" font-size="10">8</text>
<text transform="translate(607.9,754.2) rotate(-59.3)" x="0" y="3.5" font-size="10">16</text>
<text transform="translate(700.4,758.0) rotate(-60.7)" x="0" y="3.5" font-size="10">32</text>
<text transform="translate(798.2,764.0) rotate(-62.3)" x="0" y="3.5" font-size="10">64</text>
<text transform="translate(65.3,716.9) rotate(45.9)" x="0" y="3.5" font-size="10" text-anchor="middle">-40</text>
<text transform="translate(115.7,667.3) rotate(46.1)" x="0" y="3.5" font-size="10" text-anchor="middle">-30</text>
<text transform="translate(166.3,616.2) rotate(46.2)" x="0" y="3.5" font-size="10" text-anchor="middle">-20</text>
<text transform="translate(220.8,561.4) rotate(46.4)" x="0" y="3.5" font-size="10" text-anchor="middle">-10</text>
<text transform="translate(280.4,494.4) rotate(46.7)" x="0" y="3.5" font-size="10" text-anchor="middle">0</text>
<text transform="translate(362.0,417.0) rotate(47.2)" x="0" y="3.5" font-size="10" text-anchor="middle">10</text>
<text transform="translate(470.0,308.0) rotate(48.0)" x="0" y="3.5" font-size="10" text-anchor="middle">20</text>
<text transform="translate(625.3,152.0) rotate(49.9)" x="0" y="3.5" font-size="10" text-anchor="middle">30</text>
<rect x="39.5" y="0.5" width="227" height="135" fill="#fff" stroke="#000" stroke-width="1"/>
<text x="41.3" y="17.7" font-size="12.5" font-weight="bold" text-anchor="start" fill="#000" textLength="98" lengthAdjust="spacingAndGlyphs">Sounding Indices</text>
<text x="43.3" y="33.6" font-size="10.3" font-weight="normal" text-anchor="start" fill="#000" textLength="215.8" lengthAdjust="spacingAndGlyphs">UWC/IG 5km/25.11.2024 15:00/+60 h/BIHU</text>
<text x="43.3" y="49.6" font-size="10" font-weight="normal" text-anchor="start" fill="#000" textLength="36.3" lengthAdjust="spacingAndGlyphs">Position</text>
<text x="154.4" y="49.6" font-size="10" font-weight="bold" text-anchor="start" fill="#000" textLength="83" lengthAdjust="spacingAndGlyphs">65°57'N 17°25'W</text>
<text x="43.3" y="65.6" font-size="10" font-weight="normal" text-anchor="start" fill="#000" textLength="42.4" lengthAdjust="spacingAndGlyphs">Elevation</text>
<text x="154.4" y="65.6" font-size="10" font-weight="bold" text-anchor="start" fill="#000" textLength="25" lengthAdjust="spacingAndGlyphs">105ft</text>
<text x="43.3" y="81.6" font-size="10" font-weight="normal" text-anchor="start" fill="#000" textLength="27.4" lengthAdjust="spacingAndGlyphs">Name</text>
<text x="154.4" y="81.6" font-size="10" font-weight="bold" text-anchor="start" fill="#000" textLength="37" lengthAdjust="spacingAndGlyphs">Húsavík</text>
<text x="43.3" y="97.6" font-size="10" font-weight="normal" text-anchor="start" fill="#000" textLength="77.4" lengthAdjust="spacingAndGlyphs">Zero Degree (B)</text>
<text x="154.4" y="97.6" font-size="10" font-weight="bold" text-anchor="start" fill="#000" textLength="25" lengthAdjust="spacingAndGlyphs">250ft</text>
<text x="43.3" y="113.6" font-size="10" font-weight="normal" text-anchor="start" fill="#000" textLength="31.4" lengthAdjust="spacingAndGlyphs">TH850</text>
<text x="154.4" y="113.6" font-size="10" font-weight="bold" text-anchor="start" fill="#000" textLength="31" lengthAdjust="spacingAndGlyphs">4080ft</text>
<text x="43.3" y="129.6" font-size="10" font-weight="normal" text-anchor="start" fill="#000" textLength="31.4" lengthAdjust="spacingAndGlyphs">TH500</text>
<text x="154.4" y="129.6" font-size="10" font-weight="bold" text-anchor="start" fill="#000" textLength="37" lengthAdjust="spacingAndGlyphs">16730ft</text>
</svg>
</body></html>
